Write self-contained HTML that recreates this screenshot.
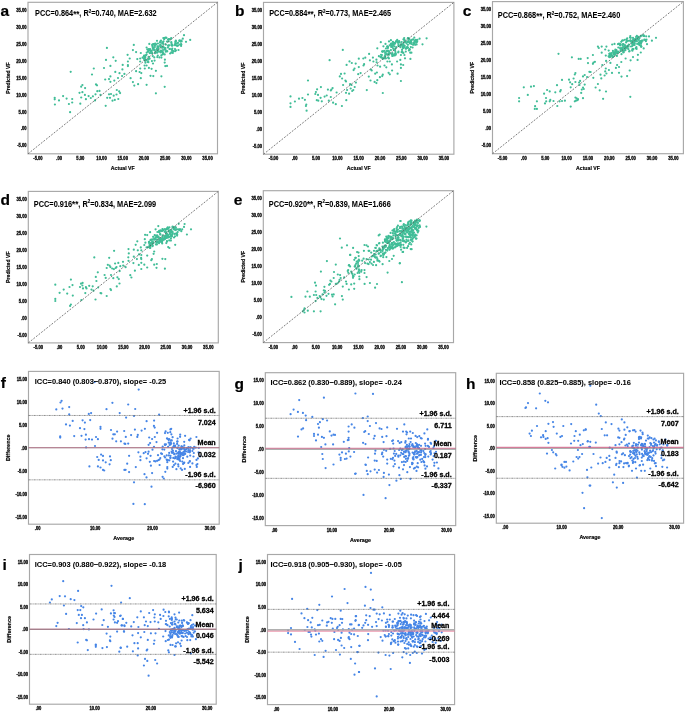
<!DOCTYPE html><html><head><meta charset="utf-8"><style>html,body{margin:0;padding:0;background:#fff;}svg{display:block;will-change:transform;} text{stroke:#000;stroke-width:0.18px;} text.t{stroke-width:0.3px;} text.r{stroke-width:0.3px;} text.h{stroke-width:0.05px;}</style></head><body><svg width="685" height="713" viewBox="0 0 685 713" font-family='"Liberation Sans", sans-serif'>
<rect width="685" height="713" fill="#fff"/>
<g fill="#40bd97">
<circle cx="106.9" cy="47.9" r="1.1"/>
<circle cx="113.3" cy="57.3" r="1.1"/>
<circle cx="115.7" cy="60.8" r="1.1"/>
<circle cx="106.0" cy="59.9" r="1.1"/>
<circle cx="122.7" cy="64.9" r="1.1"/>
<circle cx="110.4" cy="65.9" r="1.1"/>
<circle cx="104.0" cy="68.0" r="1.1"/>
<circle cx="93.8" cy="68.5" r="1.1"/>
<circle cx="70.7" cy="71.8" r="1.1"/>
<circle cx="92.0" cy="74.5" r="1.1"/>
<circle cx="115.3" cy="71.9" r="1.1"/>
<circle cx="119.5" cy="73.2" r="1.1"/>
<circle cx="122.4" cy="69.4" r="1.1"/>
<circle cx="124.4" cy="73.9" r="1.1"/>
<circle cx="122.1" cy="76.0" r="1.1"/>
<circle cx="118.0" cy="78.0" r="1.1"/>
<circle cx="114.3" cy="80.6" r="1.1"/>
<circle cx="110.4" cy="76.4" r="1.1"/>
<circle cx="109.0" cy="79.1" r="1.1"/>
<circle cx="105.2" cy="79.5" r="1.1"/>
<circle cx="110.4" cy="81.8" r="1.1"/>
<circle cx="82.4" cy="85.0" r="1.1"/>
<circle cx="81.2" cy="86.7" r="1.1"/>
<circle cx="85.1" cy="88.1" r="1.1"/>
<circle cx="96.0" cy="84.4" r="1.1"/>
<circle cx="97.0" cy="85.3" r="1.1"/>
<circle cx="97.3" cy="91.2" r="1.1"/>
<circle cx="99.5" cy="90.9" r="1.1"/>
<circle cx="79.5" cy="92.8" r="1.1"/>
<circle cx="82.4" cy="92.2" r="1.1"/>
<circle cx="84.9" cy="94.9" r="1.1"/>
<circle cx="88.6" cy="96.1" r="1.1"/>
<circle cx="90.8" cy="98.0" r="1.1"/>
<circle cx="92.9" cy="96.3" r="1.1"/>
<circle cx="95.5" cy="94.3" r="1.1"/>
<circle cx="100.5" cy="94.9" r="1.1"/>
<circle cx="85.9" cy="99.2" r="1.1"/>
<circle cx="81.2" cy="97.5" r="1.1"/>
<circle cx="80.3" cy="103.7" r="1.1"/>
<circle cx="63.1" cy="96.1" r="1.1"/>
<circle cx="66.6" cy="98.6" r="1.1"/>
<circle cx="72.2" cy="99.0" r="1.1"/>
<circle cx="72.2" cy="102.5" r="1.1"/>
<circle cx="68.9" cy="104.0" r="1.1"/>
<circle cx="59.0" cy="100.4" r="1.1"/>
<circle cx="54.7" cy="97.8" r="1.1"/>
<circle cx="54.7" cy="99.3" r="1.1"/>
<circle cx="54.9" cy="104.5" r="1.1"/>
<circle cx="70.1" cy="112.2" r="1.1"/>
<circle cx="105.7" cy="105.8" r="1.1"/>
<circle cx="116.8" cy="90.0" r="1.1"/>
<circle cx="119.2" cy="91.4" r="1.1"/>
<circle cx="120.1" cy="93.1" r="1.1"/>
<circle cx="109.0" cy="94.3" r="1.1"/>
<circle cx="111.0" cy="94.0" r="1.1"/>
<circle cx="113.7" cy="95.7" r="1.1"/>
<circle cx="116.5" cy="94.5" r="1.1"/>
<circle cx="107.2" cy="97.8" r="1.1"/>
<circle cx="110.0" cy="97.8" r="1.1"/>
<circle cx="112.5" cy="100.7" r="1.1"/>
<circle cx="114.8" cy="99.9" r="1.1"/>
<circle cx="118.3" cy="99.0" r="1.1"/>
<circle cx="95.0" cy="100.4" r="1.1"/>
<circle cx="184.0" cy="35.2" r="1.1"/>
<circle cx="190.2" cy="39.9" r="1.1"/>
<circle cx="186.0" cy="41.8" r="1.1"/>
<circle cx="182.8" cy="38.7" r="1.1"/>
<circle cx="133.8" cy="44.9" r="1.1"/>
<circle cx="132.9" cy="50.1" r="1.1"/>
<circle cx="136.1" cy="52.1" r="1.1"/>
<circle cx="127.6" cy="54.8" r="1.1"/>
<circle cx="129.7" cy="58.5" r="1.1"/>
<circle cx="127.9" cy="61.5" r="1.1"/>
<circle cx="127.9" cy="65.0" r="1.1"/>
<circle cx="127.9" cy="66.1" r="1.1"/>
<circle cx="137.3" cy="59.1" r="1.1"/>
<circle cx="140.8" cy="53.0" r="1.1"/>
<circle cx="140.2" cy="58.5" r="1.1"/>
<circle cx="140.2" cy="61.5" r="1.1"/>
<circle cx="146.6" cy="47.5" r="1.1"/>
<circle cx="149.3" cy="43.9" r="1.1"/>
<circle cx="150.1" cy="49.2" r="1.1"/>
<circle cx="144.6" cy="65.5" r="1.1"/>
<circle cx="140.2" cy="68.5" r="1.1"/>
<circle cx="136.1" cy="71.2" r="1.1"/>
<circle cx="139.6" cy="72.0" r="1.1"/>
<circle cx="141.3" cy="73.1" r="1.1"/>
<circle cx="148.9" cy="67.9" r="1.1"/>
<circle cx="151.6" cy="68.8" r="1.1"/>
<circle cx="155.9" cy="70.8" r="1.1"/>
<circle cx="144.8" cy="68.5" r="1.1"/>
<circle cx="146.6" cy="65.5" r="1.1"/>
<circle cx="130.6" cy="78.2" r="1.1"/>
<circle cx="132.9" cy="82.1" r="1.1"/>
<circle cx="134.3" cy="85.6" r="1.1"/>
<circle cx="138.1" cy="84.2" r="1.1"/>
<circle cx="146.6" cy="84.8" r="1.1"/>
<circle cx="140.8" cy="78.2" r="1.1"/>
<circle cx="150.5" cy="75.8" r="1.1"/>
<circle cx="153.3" cy="76.1" r="1.1"/>
<circle cx="161.4" cy="76.3" r="1.1"/>
<circle cx="164.7" cy="86.8" r="1.1"/>
<circle cx="155.9" cy="93.3" r="1.1"/>
<circle cx="165.3" cy="66.1" r="1.1"/>
<circle cx="167.0" cy="65.9" r="1.1"/>
<circle cx="164.7" cy="62.6" r="1.1"/>
<circle cx="164.9" cy="59.7" r="1.1"/>
<circle cx="178.5" cy="50.0" r="1.1"/>
<circle cx="181.1" cy="45.9" r="1.1"/>
<circle cx="161.4" cy="57.6" r="1.1"/>
<circle cx="159.4" cy="57.4" r="1.1"/>
<circle cx="157.3" cy="57.1" r="1.1"/>
<circle cx="154.6" cy="60.6" r="1.1"/>
<circle cx="153.0" cy="63.5" r="1.1"/>
<circle cx="151.9" cy="61.1" r="1.1"/>
<circle cx="168.3" cy="39.5" r="1.1"/>
<circle cx="163.8" cy="47.3" r="1.1"/>
<circle cx="165.4" cy="48.2" r="1.1"/>
<circle cx="176.6" cy="45.3" r="1.1"/>
<circle cx="149.7" cy="53.1" r="1.1"/>
<circle cx="167.9" cy="47.5" r="1.1"/>
<circle cx="164.2" cy="39.2" r="1.1"/>
<circle cx="169.5" cy="49.0" r="1.1"/>
<circle cx="155.0" cy="53.2" r="1.1"/>
<circle cx="160.5" cy="45.6" r="1.1"/>
<circle cx="152.2" cy="53.0" r="1.1"/>
<circle cx="171.5" cy="45.2" r="1.1"/>
<circle cx="181.4" cy="40.7" r="1.1"/>
<circle cx="148.5" cy="50.6" r="1.1"/>
<circle cx="144.1" cy="55.5" r="1.1"/>
<circle cx="172.8" cy="52.9" r="1.1"/>
<circle cx="177.3" cy="45.9" r="1.1"/>
<circle cx="170.1" cy="53.5" r="1.1"/>
<circle cx="165.5" cy="49.8" r="1.1"/>
<circle cx="161.3" cy="55.4" r="1.1"/>
<circle cx="144.9" cy="56.4" r="1.1"/>
<circle cx="175.1" cy="45.2" r="1.1"/>
<circle cx="157.8" cy="55.5" r="1.1"/>
<circle cx="144.8" cy="58.2" r="1.1"/>
<circle cx="153.6" cy="48.7" r="1.1"/>
<circle cx="180.5" cy="41.6" r="1.1"/>
<circle cx="151.8" cy="50.5" r="1.1"/>
<circle cx="165.9" cy="44.6" r="1.1"/>
<circle cx="157.2" cy="52.7" r="1.1"/>
<circle cx="163.0" cy="54.1" r="1.1"/>
<circle cx="169.3" cy="39.0" r="1.1"/>
<circle cx="158.1" cy="48.2" r="1.1"/>
<circle cx="146.6" cy="54.6" r="1.1"/>
<circle cx="166.9" cy="41.5" r="1.1"/>
<circle cx="152.5" cy="46.8" r="1.1"/>
<circle cx="157.0" cy="40.8" r="1.1"/>
<circle cx="161.0" cy="50.5" r="1.1"/>
<circle cx="156.1" cy="44.6" r="1.1"/>
<circle cx="175.4" cy="41.8" r="1.1"/>
<circle cx="163.5" cy="41.4" r="1.1"/>
<circle cx="164.1" cy="38.2" r="1.1"/>
<circle cx="152.9" cy="47.4" r="1.1"/>
<circle cx="149.1" cy="58.3" r="1.1"/>
<circle cx="155.6" cy="43.5" r="1.1"/>
<circle cx="151.5" cy="51.4" r="1.1"/>
<circle cx="152.8" cy="56.1" r="1.1"/>
<circle cx="175.9" cy="50.4" r="1.1"/>
<circle cx="145.9" cy="55.3" r="1.1"/>
<circle cx="172.3" cy="50.4" r="1.1"/>
<circle cx="149.6" cy="58.7" r="1.1"/>
<circle cx="171.3" cy="42.1" r="1.1"/>
<circle cx="148.3" cy="59.7" r="1.1"/>
<circle cx="156.4" cy="52.3" r="1.1"/>
<circle cx="175.3" cy="43.2" r="1.1"/>
<circle cx="152.5" cy="45.4" r="1.1"/>
<circle cx="152.1" cy="53.3" r="1.1"/>
<circle cx="152.8" cy="48.8" r="1.1"/>
<circle cx="147.7" cy="62.0" r="1.1"/>
<circle cx="156.6" cy="49.8" r="1.1"/>
<circle cx="162.4" cy="51.8" r="1.1"/>
<circle cx="163.3" cy="38.0" r="1.1"/>
<circle cx="160.0" cy="42.4" r="1.1"/>
<circle cx="149.3" cy="50.2" r="1.1"/>
<circle cx="171.3" cy="52.5" r="1.1"/>
<circle cx="155.4" cy="51.4" r="1.1"/>
<circle cx="146.7" cy="52.6" r="1.1"/>
<circle cx="152.4" cy="45.0" r="1.1"/>
<circle cx="173.2" cy="51.2" r="1.1"/>
<circle cx="166.8" cy="51.1" r="1.1"/>
<circle cx="160.5" cy="51.9" r="1.1"/>
<circle cx="179.9" cy="44.5" r="1.1"/>
<circle cx="175.8" cy="41.2" r="1.1"/>
<circle cx="147.3" cy="49.4" r="1.1"/>
<circle cx="145.4" cy="55.5" r="1.1"/>
<circle cx="148.6" cy="56.8" r="1.1"/>
<circle cx="168.7" cy="41.4" r="1.1"/>
<circle cx="158.3" cy="50.6" r="1.1"/>
<circle cx="148.9" cy="49.1" r="1.1"/>
<circle cx="163.0" cy="46.6" r="1.1"/>
<circle cx="171.2" cy="38.0" r="1.1"/>
<circle cx="164.5" cy="49.4" r="1.1"/>
<circle cx="167.3" cy="51.3" r="1.1"/>
<circle cx="144.1" cy="58.5" r="1.1"/>
<circle cx="175.0" cy="44.5" r="1.1"/>
<circle cx="148.4" cy="62.2" r="1.1"/>
<circle cx="169.8" cy="48.9" r="1.1"/>
<circle cx="145.4" cy="62.7" r="1.1"/>
<circle cx="145.8" cy="60.5" r="1.1"/>
<circle cx="145.1" cy="60.7" r="1.1"/>
<circle cx="160.5" cy="46.6" r="1.1"/>
<circle cx="163.4" cy="43.9" r="1.1"/>
<circle cx="154.9" cy="45.7" r="1.1"/>
<circle cx="172.7" cy="45.3" r="1.1"/>
<circle cx="162.3" cy="42.3" r="1.1"/>
<circle cx="171.6" cy="52.3" r="1.1"/>
<circle cx="150.0" cy="50.3" r="1.1"/>
<circle cx="179.6" cy="40.4" r="1.1"/>
<circle cx="175.0" cy="49.1" r="1.1"/>
<circle cx="158.1" cy="51.1" r="1.1"/>
<circle cx="158.6" cy="46.9" r="1.1"/>
<circle cx="145.3" cy="57.4" r="1.1"/>
<circle cx="145.8" cy="60.1" r="1.1"/>
<circle cx="153.7" cy="44.0" r="1.1"/>
<circle cx="154.1" cy="49.9" r="1.1"/>
<circle cx="148.8" cy="49.5" r="1.1"/>
<circle cx="154.8" cy="47.1" r="1.1"/>
<circle cx="161.3" cy="51.0" r="1.1"/>
<circle cx="150.5" cy="51.1" r="1.1"/>
<circle cx="154.6" cy="43.8" r="1.1"/>
<circle cx="165.8" cy="51.7" r="1.1"/>
<circle cx="158.0" cy="46.3" r="1.1"/>
<circle cx="181.6" cy="41.5" r="1.1"/>
<circle cx="144.2" cy="60.0" r="1.1"/>
<circle cx="148.0" cy="51.6" r="1.1"/>
<circle cx="146.7" cy="60.0" r="1.1"/>
<circle cx="164.7" cy="54.4" r="1.1"/>
<circle cx="162.5" cy="51.9" r="1.1"/>
<circle cx="168.7" cy="39.3" r="1.1"/>
<circle cx="171.8" cy="44.3" r="1.1"/>
<circle cx="171.4" cy="43.0" r="1.1"/>
<circle cx="162.1" cy="47.8" r="1.1"/>
<circle cx="168.0" cy="39.6" r="1.1"/>
<circle cx="172.0" cy="45.7" r="1.1"/>
<circle cx="165.0" cy="37.8" r="1.1"/>
<circle cx="169.3" cy="45.3" r="1.1"/>
<circle cx="163.0" cy="50.0" r="1.1"/>
<circle cx="161.0" cy="40.7" r="1.1"/>
<circle cx="178.0" cy="42.9" r="1.1"/>
<circle cx="160.3" cy="44.7" r="1.1"/>
<circle cx="150.9" cy="53.1" r="1.1"/>
<circle cx="148.1" cy="51.6" r="1.1"/>
<circle cx="180.3" cy="41.1" r="1.1"/>
<circle cx="175.1" cy="51.2" r="1.1"/>
<circle cx="160.4" cy="45.6" r="1.1"/>
<circle cx="142.6" cy="57.7" r="1.1"/>
<circle cx="175.8" cy="40.7" r="1.1"/>
<circle cx="178.3" cy="45.3" r="1.1"/>
<circle cx="157.3" cy="48.1" r="1.1"/>
<circle cx="156.8" cy="49.0" r="1.1"/>
<circle cx="146.5" cy="60.0" r="1.1"/>
<circle cx="152.4" cy="44.6" r="1.1"/>
<circle cx="162.8" cy="42.6" r="1.1"/>
<circle cx="171.1" cy="38.8" r="1.1"/>
<circle cx="171.6" cy="49.6" r="1.1"/>
<circle cx="179.3" cy="40.9" r="1.1"/>
<circle cx="161.2" cy="46.7" r="1.1"/>
<circle cx="154.3" cy="57.4" r="1.1"/>
<circle cx="181.3" cy="44.5" r="1.1"/>
<circle cx="168.5" cy="45.6" r="1.1"/>
<circle cx="164.6" cy="48.1" r="1.1"/>
<circle cx="162.2" cy="43.4" r="1.1"/>
<circle cx="160.4" cy="41.3" r="1.1"/>
<circle cx="172.3" cy="48.6" r="1.1"/>
<circle cx="158.9" cy="51.6" r="1.1"/>
<circle cx="157.5" cy="46.6" r="1.1"/>
<circle cx="180.9" cy="40.9" r="1.1"/>
<circle cx="162.5" cy="54.4" r="1.1"/>
<circle cx="176.8" cy="43.3" r="1.1"/>
<circle cx="153.3" cy="44.2" r="1.1"/>
<circle cx="158.4" cy="49.5" r="1.1"/>
<circle cx="143.8" cy="56.6" r="1.1"/>
<circle cx="165.8" cy="37.5" r="1.1"/>
<circle cx="181.1" cy="44.2" r="1.1"/>
<circle cx="160.7" cy="52.3" r="1.1"/>
<circle cx="144.1" cy="58.5" r="1.1"/>
<circle cx="168.1" cy="45.7" r="1.1"/>
<circle cx="163.3" cy="53.2" r="1.1"/>
<circle cx="157.9" cy="43.5" r="1.1"/>
<circle cx="166.4" cy="37.8" r="1.1"/>
<circle cx="154.5" cy="49.9" r="1.1"/>
</g>
<rect x="28" y="2.3" width="189.50" height="151.50" fill="none" stroke="#a8a8a8" stroke-width="1.15"/>
<line x1="28" y1="153.8" x2="217.5" y2="2.3" stroke="#5a5a5a" stroke-width="0.8" stroke-dasharray="1.9 1.4"/>
<text class="t" x="26.60" y="147.44" font-size="4.6" text-anchor="end" font-weight="bold" textLength="9.35" lengthAdjust="spacingAndGlyphs" fill="#111">-5.00</text>
<text class="t" x="26.60" y="130.49" font-size="4.6" text-anchor="end" font-weight="bold" textLength="5.70" lengthAdjust="spacingAndGlyphs" fill="#111">.00</text>
<text class="t" x="26.60" y="113.54" font-size="4.6" text-anchor="end" font-weight="bold" textLength="8.05" lengthAdjust="spacingAndGlyphs" fill="#111">5.00</text>
<text class="t" x="26.60" y="96.60" font-size="4.6" text-anchor="end" font-weight="bold" textLength="10.40" lengthAdjust="spacingAndGlyphs" fill="#111">10.00</text>
<text class="t" x="26.60" y="79.65" font-size="4.6" text-anchor="end" font-weight="bold" textLength="10.40" lengthAdjust="spacingAndGlyphs" fill="#111">15.00</text>
<text class="t" x="26.60" y="62.70" font-size="4.6" text-anchor="end" font-weight="bold" textLength="10.40" lengthAdjust="spacingAndGlyphs" fill="#111">20.00</text>
<text class="t" x="26.60" y="45.76" font-size="4.6" text-anchor="end" font-weight="bold" textLength="10.40" lengthAdjust="spacingAndGlyphs" fill="#111">25.00</text>
<text class="t" x="26.60" y="28.81" font-size="4.6" text-anchor="end" font-weight="bold" textLength="10.40" lengthAdjust="spacingAndGlyphs" fill="#111">30.00</text>
<text class="t" x="26.60" y="11.86" font-size="4.6" text-anchor="end" font-weight="bold" textLength="10.40" lengthAdjust="spacingAndGlyphs" fill="#111">35.00</text>
<text class="t" x="37.96" y="159.70" font-size="4.6" text-anchor="middle" font-weight="bold" textLength="9.35" lengthAdjust="spacingAndGlyphs" fill="#111">-5.00</text>
<text class="t" x="59.16" y="159.70" font-size="4.6" text-anchor="middle" font-weight="bold" textLength="5.70" lengthAdjust="spacingAndGlyphs" fill="#111">.00</text>
<text class="t" x="80.36" y="159.70" font-size="4.6" text-anchor="middle" font-weight="bold" textLength="8.05" lengthAdjust="spacingAndGlyphs" fill="#111">5.00</text>
<text class="t" x="101.55" y="159.70" font-size="4.6" text-anchor="middle" font-weight="bold" textLength="10.40" lengthAdjust="spacingAndGlyphs" fill="#111">10.00</text>
<text class="t" x="122.75" y="159.70" font-size="4.6" text-anchor="middle" font-weight="bold" textLength="10.40" lengthAdjust="spacingAndGlyphs" fill="#111">15.00</text>
<text class="t" x="143.95" y="159.70" font-size="4.6" text-anchor="middle" font-weight="bold" textLength="10.40" lengthAdjust="spacingAndGlyphs" fill="#111">20.00</text>
<text class="t" x="165.14" y="159.70" font-size="4.6" text-anchor="middle" font-weight="bold" textLength="10.40" lengthAdjust="spacingAndGlyphs" fill="#111">25.00</text>
<text class="t" x="186.34" y="159.70" font-size="4.6" text-anchor="middle" font-weight="bold" textLength="10.40" lengthAdjust="spacingAndGlyphs" fill="#111">30.00</text>
<text class="t" x="207.54" y="159.70" font-size="4.6" text-anchor="middle" font-weight="bold" textLength="10.40" lengthAdjust="spacingAndGlyphs" fill="#111">35.00</text>
<text class="h" x="35.1" y="15.8" font-size="8.3" font-weight="bold" textLength="121.5" lengthAdjust="spacingAndGlyphs">PCC=0.864<tspan font-size="9" dy="0.8">**</tspan><tspan dy="-0.8">, R</tspan><tspan font-size="5" dy="-3.2">2</tspan><tspan dy="3.2">=0.740, MAE=2.632</tspan></text>
<text x="0.60" y="15.80" font-size="15.5" text-anchor="start" font-weight="bold">a</text>
<text x="9.60" y="78.05" font-size="6.2" text-anchor="middle" font-weight="bold" textLength="31.50" lengthAdjust="spacingAndGlyphs" transform="rotate(-90 9.60 78.05)">Predicted VF</text>
<text x="122.75" y="170.00" font-size="6.2" text-anchor="middle" font-weight="bold" textLength="23.80" lengthAdjust="spacingAndGlyphs">Actual VF</text>
<g fill="#40bd97">
<circle cx="342.8" cy="49.9" r="1.1"/>
<circle cx="329.6" cy="60.2" r="1.1"/>
<circle cx="358.8" cy="58.7" r="1.1"/>
<circle cx="349.5" cy="61.4" r="1.1"/>
<circle cx="351.8" cy="63.0" r="1.1"/>
<circle cx="355.7" cy="63.6" r="1.1"/>
<circle cx="346.6" cy="64.9" r="1.1"/>
<circle cx="358.8" cy="67.1" r="1.1"/>
<circle cx="354.5" cy="68.6" r="1.1"/>
<circle cx="353.6" cy="70.1" r="1.1"/>
<circle cx="358.2" cy="74.2" r="1.1"/>
<circle cx="344.6" cy="73.5" r="1.1"/>
<circle cx="341.0" cy="73.9" r="1.1"/>
<circle cx="339.8" cy="76.4" r="1.1"/>
<circle cx="342.1" cy="78.5" r="1.1"/>
<circle cx="345.4" cy="80.6" r="1.1"/>
<circle cx="346.0" cy="81.5" r="1.1"/>
<circle cx="343.1" cy="85.0" r="1.1"/>
<circle cx="350.1" cy="84.2" r="1.1"/>
<circle cx="351.5" cy="85.0" r="1.1"/>
<circle cx="355.9" cy="82.6" r="1.1"/>
<circle cx="354.7" cy="87.0" r="1.1"/>
<circle cx="350.7" cy="88.5" r="1.1"/>
<circle cx="353.3" cy="90.0" r="1.1"/>
<circle cx="352.2" cy="91.0" r="1.1"/>
<circle cx="347.1" cy="90.0" r="1.1"/>
<circle cx="346.0" cy="92.8" r="1.1"/>
<circle cx="349.1" cy="93.7" r="1.1"/>
<circle cx="346.3" cy="100.2" r="1.1"/>
<circle cx="341.9" cy="106.0" r="1.1"/>
<circle cx="308.0" cy="80.5" r="1.1"/>
<circle cx="320.9" cy="87.1" r="1.1"/>
<circle cx="317.1" cy="89.3" r="1.1"/>
<circle cx="315.9" cy="92.0" r="1.1"/>
<circle cx="315.3" cy="94.0" r="1.1"/>
<circle cx="318.0" cy="94.9" r="1.1"/>
<circle cx="308.0" cy="94.5" r="1.1"/>
<circle cx="327.9" cy="89.6" r="1.1"/>
<circle cx="331.4" cy="89.6" r="1.1"/>
<circle cx="332.6" cy="88.1" r="1.1"/>
<circle cx="330.8" cy="90.5" r="1.1"/>
<circle cx="336.6" cy="92.5" r="1.1"/>
<circle cx="324.6" cy="96.6" r="1.1"/>
<circle cx="326.7" cy="95.5" r="1.1"/>
<circle cx="330.8" cy="97.0" r="1.1"/>
<circle cx="328.8" cy="100.7" r="1.1"/>
<circle cx="333.1" cy="102.7" r="1.1"/>
<circle cx="335.8" cy="104.2" r="1.1"/>
<circle cx="320.6" cy="97.8" r="1.1"/>
<circle cx="321.8" cy="101.3" r="1.1"/>
<circle cx="316.8" cy="100.2" r="1.1"/>
<circle cx="318.3" cy="100.7" r="1.1"/>
<circle cx="290.5" cy="96.4" r="1.1"/>
<circle cx="294.9" cy="101.5" r="1.1"/>
<circle cx="299.0" cy="98.7" r="1.1"/>
<circle cx="302.4" cy="98.0" r="1.1"/>
<circle cx="304.9" cy="99.8" r="1.1"/>
<circle cx="306.3" cy="104.6" r="1.1"/>
<circle cx="305.9" cy="106.0" r="1.1"/>
<circle cx="306.6" cy="110.7" r="1.1"/>
<circle cx="290.5" cy="103.3" r="1.1"/>
<circle cx="290.5" cy="106.9" r="1.1"/>
<circle cx="426.6" cy="38.3" r="1.1"/>
<circle cx="422.5" cy="44.3" r="1.1"/>
<circle cx="419.6" cy="38.7" r="1.1"/>
<circle cx="417.2" cy="41.6" r="1.1"/>
<circle cx="414.3" cy="37.5" r="1.1"/>
<circle cx="410.2" cy="52.7" r="1.1"/>
<circle cx="411.4" cy="52.7" r="1.1"/>
<circle cx="410.4" cy="58.9" r="1.1"/>
<circle cx="405.0" cy="58.3" r="1.1"/>
<circle cx="404.4" cy="55.0" r="1.1"/>
<circle cx="400.9" cy="55.0" r="1.1"/>
<circle cx="400.3" cy="59.9" r="1.1"/>
<circle cx="400.9" cy="64.4" r="1.1"/>
<circle cx="403.2" cy="65.0" r="1.1"/>
<circle cx="400.9" cy="67.9" r="1.1"/>
<circle cx="397.1" cy="61.5" r="1.1"/>
<circle cx="391.9" cy="64.4" r="1.1"/>
<circle cx="392.1" cy="70.5" r="1.1"/>
<circle cx="388.6" cy="72.8" r="1.1"/>
<circle cx="389.8" cy="74.3" r="1.1"/>
<circle cx="397.6" cy="73.7" r="1.1"/>
<circle cx="400.9" cy="81.0" r="1.1"/>
<circle cx="382.8" cy="93.0" r="1.1"/>
<circle cx="366.8" cy="90.1" r="1.1"/>
<circle cx="370.5" cy="80.5" r="1.1"/>
<circle cx="368.8" cy="76.6" r="1.1"/>
<circle cx="374.6" cy="81.9" r="1.1"/>
<circle cx="376.4" cy="83.1" r="1.1"/>
<circle cx="377.3" cy="80.2" r="1.1"/>
<circle cx="379.9" cy="77.2" r="1.1"/>
<circle cx="382.2" cy="76.1" r="1.1"/>
<circle cx="382.8" cy="74.7" r="1.1"/>
<circle cx="375.2" cy="73.7" r="1.1"/>
<circle cx="376.9" cy="72.5" r="1.1"/>
<circle cx="371.7" cy="70.5" r="1.1"/>
<circle cx="371.1" cy="69.6" r="1.1"/>
<circle cx="360.6" cy="73.1" r="1.1"/>
<circle cx="363.5" cy="65.5" r="1.1"/>
<circle cx="364.1" cy="64.2" r="1.1"/>
<circle cx="363.3" cy="58.5" r="1.1"/>
<circle cx="365.3" cy="57.7" r="1.1"/>
<circle cx="369.9" cy="60.3" r="1.1"/>
<circle cx="369.1" cy="53.9" r="1.1"/>
<circle cx="372.9" cy="57.6" r="1.1"/>
<circle cx="373.4" cy="61.5" r="1.1"/>
<circle cx="376.4" cy="59.7" r="1.1"/>
<circle cx="376.6" cy="62.3" r="1.1"/>
<circle cx="377.5" cy="65.5" r="1.1"/>
<circle cx="380.1" cy="66.7" r="1.1"/>
<circle cx="384.5" cy="65.5" r="1.1"/>
<circle cx="386.3" cy="67.3" r="1.1"/>
<circle cx="387.4" cy="61.5" r="1.1"/>
<circle cx="389.8" cy="61.5" r="1.1"/>
<circle cx="380.8" cy="42.2" r="1.1"/>
<circle cx="377.3" cy="48.3" r="1.1"/>
<circle cx="385.5" cy="43.9" r="1.1"/>
<circle cx="389.0" cy="41.4" r="1.1"/>
<circle cx="390.9" cy="40.2" r="1.1"/>
<circle cx="383.4" cy="46.3" r="1.1"/>
<circle cx="398.2" cy="52.5" r="1.1"/>
<circle cx="395.1" cy="43.2" r="1.1"/>
<circle cx="391.9" cy="46.8" r="1.1"/>
<circle cx="405.4" cy="41.9" r="1.1"/>
<circle cx="398.4" cy="42.1" r="1.1"/>
<circle cx="416.6" cy="44.4" r="1.1"/>
<circle cx="410.8" cy="42.6" r="1.1"/>
<circle cx="387.4" cy="54.4" r="1.1"/>
<circle cx="398.1" cy="41.7" r="1.1"/>
<circle cx="387.4" cy="46.8" r="1.1"/>
<circle cx="415.1" cy="44.8" r="1.1"/>
<circle cx="385.9" cy="58.3" r="1.1"/>
<circle cx="407.9" cy="38.2" r="1.1"/>
<circle cx="404.7" cy="45.9" r="1.1"/>
<circle cx="393.3" cy="44.9" r="1.1"/>
<circle cx="389.6" cy="45.3" r="1.1"/>
<circle cx="416.1" cy="40.2" r="1.1"/>
<circle cx="416.4" cy="42.1" r="1.1"/>
<circle cx="392.6" cy="55.7" r="1.1"/>
<circle cx="410.8" cy="47.1" r="1.1"/>
<circle cx="394.8" cy="55.5" r="1.1"/>
<circle cx="408.7" cy="38.4" r="1.1"/>
<circle cx="414.7" cy="43.2" r="1.1"/>
<circle cx="392.0" cy="43.5" r="1.1"/>
<circle cx="388.9" cy="53.4" r="1.1"/>
<circle cx="391.1" cy="43.6" r="1.1"/>
<circle cx="387.8" cy="48.0" r="1.1"/>
<circle cx="393.8" cy="43.1" r="1.1"/>
<circle cx="395.5" cy="48.5" r="1.1"/>
<circle cx="415.0" cy="41.6" r="1.1"/>
<circle cx="402.4" cy="44.8" r="1.1"/>
<circle cx="391.2" cy="45.5" r="1.1"/>
<circle cx="409.3" cy="39.2" r="1.1"/>
<circle cx="386.4" cy="54.2" r="1.1"/>
<circle cx="406.4" cy="47.4" r="1.1"/>
<circle cx="387.9" cy="46.8" r="1.1"/>
<circle cx="402.9" cy="52.5" r="1.1"/>
<circle cx="404.7" cy="40.2" r="1.1"/>
<circle cx="411.6" cy="44.0" r="1.1"/>
<circle cx="400.9" cy="45.8" r="1.1"/>
<circle cx="407.6" cy="41.9" r="1.1"/>
<circle cx="384.7" cy="57.1" r="1.1"/>
<circle cx="401.3" cy="44.7" r="1.1"/>
<circle cx="398.5" cy="42.6" r="1.1"/>
<circle cx="417.4" cy="39.8" r="1.1"/>
<circle cx="412.6" cy="47.5" r="1.1"/>
<circle cx="388.9" cy="54.8" r="1.1"/>
<circle cx="415.7" cy="39.9" r="1.1"/>
<circle cx="402.0" cy="51.3" r="1.1"/>
<circle cx="388.7" cy="50.8" r="1.1"/>
<circle cx="404.2" cy="42.0" r="1.1"/>
<circle cx="405.2" cy="41.6" r="1.1"/>
<circle cx="409.8" cy="49.7" r="1.1"/>
<circle cx="394.2" cy="49.7" r="1.1"/>
<circle cx="403.7" cy="39.5" r="1.1"/>
<circle cx="385.1" cy="52.9" r="1.1"/>
<circle cx="394.7" cy="43.8" r="1.1"/>
<circle cx="390.9" cy="50.1" r="1.1"/>
<circle cx="392.7" cy="46.8" r="1.1"/>
<circle cx="392.9" cy="41.9" r="1.1"/>
<circle cx="407.2" cy="42.0" r="1.1"/>
<circle cx="396.7" cy="41.1" r="1.1"/>
<circle cx="382.2" cy="51.3" r="1.1"/>
<circle cx="393.2" cy="48.7" r="1.1"/>
<circle cx="410.9" cy="41.1" r="1.1"/>
<circle cx="409.4" cy="42.4" r="1.1"/>
<circle cx="411.1" cy="41.6" r="1.1"/>
<circle cx="387.2" cy="46.4" r="1.1"/>
<circle cx="398.9" cy="46.0" r="1.1"/>
<circle cx="408.3" cy="38.4" r="1.1"/>
<circle cx="411.5" cy="40.1" r="1.1"/>
<circle cx="402.1" cy="49.7" r="1.1"/>
<circle cx="403.2" cy="44.3" r="1.1"/>
<circle cx="395.1" cy="50.4" r="1.1"/>
<circle cx="395.4" cy="52.1" r="1.1"/>
<circle cx="396.2" cy="47.2" r="1.1"/>
<circle cx="397.8" cy="42.7" r="1.1"/>
<circle cx="396.6" cy="41.5" r="1.1"/>
<circle cx="397.2" cy="39.9" r="1.1"/>
<circle cx="403.6" cy="39.3" r="1.1"/>
<circle cx="398.4" cy="45.9" r="1.1"/>
<circle cx="415.9" cy="40.5" r="1.1"/>
<circle cx="414.5" cy="41.2" r="1.1"/>
<circle cx="408.3" cy="41.0" r="1.1"/>
<circle cx="413.8" cy="43.6" r="1.1"/>
<circle cx="410.6" cy="40.7" r="1.1"/>
<circle cx="398.5" cy="44.6" r="1.1"/>
<circle cx="385.0" cy="58.3" r="1.1"/>
<circle cx="385.3" cy="54.9" r="1.1"/>
<circle cx="403.6" cy="45.5" r="1.1"/>
<circle cx="403.3" cy="46.2" r="1.1"/>
<circle cx="409.9" cy="43.4" r="1.1"/>
<circle cx="392.8" cy="54.5" r="1.1"/>
<circle cx="396.0" cy="41.4" r="1.1"/>
<circle cx="407.8" cy="38.6" r="1.1"/>
<circle cx="410.8" cy="43.1" r="1.1"/>
<circle cx="401.6" cy="52.2" r="1.1"/>
<circle cx="402.8" cy="47.1" r="1.1"/>
<circle cx="404.2" cy="38.0" r="1.1"/>
<circle cx="387.5" cy="50.5" r="1.1"/>
<circle cx="401.7" cy="42.0" r="1.1"/>
<circle cx="403.1" cy="48.0" r="1.1"/>
<circle cx="384.0" cy="58.3" r="1.1"/>
<circle cx="382.4" cy="51.7" r="1.1"/>
<circle cx="394.4" cy="43.4" r="1.1"/>
<circle cx="400.7" cy="45.3" r="1.1"/>
<circle cx="403.9" cy="47.4" r="1.1"/>
<circle cx="388.4" cy="57.6" r="1.1"/>
<circle cx="394.6" cy="42.8" r="1.1"/>
<circle cx="381.0" cy="54.8" r="1.1"/>
<circle cx="415.5" cy="40.7" r="1.1"/>
<circle cx="386.5" cy="51.0" r="1.1"/>
<circle cx="398.5" cy="51.7" r="1.1"/>
<circle cx="410.5" cy="41.4" r="1.1"/>
<circle cx="390.8" cy="44.2" r="1.1"/>
<circle cx="380.6" cy="57.2" r="1.1"/>
<circle cx="378.9" cy="56.2" r="1.1"/>
<circle cx="407.8" cy="47.8" r="1.1"/>
<circle cx="407.7" cy="47.5" r="1.1"/>
<circle cx="391.8" cy="54.1" r="1.1"/>
<circle cx="406.5" cy="43.4" r="1.1"/>
<circle cx="400.4" cy="47.2" r="1.1"/>
<circle cx="409.5" cy="49.1" r="1.1"/>
<circle cx="389.1" cy="51.8" r="1.1"/>
<circle cx="416.4" cy="42.3" r="1.1"/>
<circle cx="407.9" cy="44.8" r="1.1"/>
<circle cx="413.1" cy="44.8" r="1.1"/>
<circle cx="388.1" cy="57.6" r="1.1"/>
<circle cx="403.4" cy="52.9" r="1.1"/>
<circle cx="395.8" cy="53.6" r="1.1"/>
<circle cx="401.0" cy="44.3" r="1.1"/>
<circle cx="387.0" cy="51.3" r="1.1"/>
<circle cx="381.7" cy="57.7" r="1.1"/>
<circle cx="382.9" cy="58.1" r="1.1"/>
<circle cx="405.8" cy="51.6" r="1.1"/>
<circle cx="392.9" cy="55.6" r="1.1"/>
<circle cx="381.3" cy="56.8" r="1.1"/>
<circle cx="403.4" cy="43.9" r="1.1"/>
<circle cx="408.3" cy="42.0" r="1.1"/>
<circle cx="391.2" cy="46.9" r="1.1"/>
<circle cx="389.8" cy="53.4" r="1.1"/>
<circle cx="393.1" cy="44.6" r="1.1"/>
<circle cx="395.8" cy="54.7" r="1.1"/>
<circle cx="392.3" cy="53.1" r="1.1"/>
<circle cx="399.7" cy="42.3" r="1.1"/>
<circle cx="412.4" cy="39.5" r="1.1"/>
<circle cx="410.8" cy="41.3" r="1.1"/>
<circle cx="385.9" cy="48.5" r="1.1"/>
<circle cx="392.3" cy="56.0" r="1.1"/>
<circle cx="388.9" cy="58.5" r="1.1"/>
<circle cx="406.1" cy="48.6" r="1.1"/>
<circle cx="383.0" cy="51.6" r="1.1"/>
<circle cx="381.9" cy="55.0" r="1.1"/>
<circle cx="403.2" cy="45.4" r="1.1"/>
<circle cx="394.4" cy="46.3" r="1.1"/>
<circle cx="413.5" cy="39.4" r="1.1"/>
<circle cx="387.8" cy="47.7" r="1.1"/>
<circle cx="392.3" cy="44.8" r="1.1"/>
<circle cx="384.8" cy="56.2" r="1.1"/>
<circle cx="408.9" cy="50.4" r="1.1"/>
<circle cx="413.3" cy="42.8" r="1.1"/>
<circle cx="399.1" cy="41.1" r="1.1"/>
<circle cx="382.7" cy="58.9" r="1.1"/>
<circle cx="407.4" cy="47.2" r="1.1"/>
<circle cx="386.4" cy="51.7" r="1.1"/>
<circle cx="394.3" cy="55.1" r="1.1"/>
<circle cx="405.8" cy="48.6" r="1.1"/>
<circle cx="403.4" cy="47.8" r="1.1"/>
<circle cx="384.2" cy="50.9" r="1.1"/>
<circle cx="394.5" cy="54.0" r="1.1"/>
</g>
<rect x="263.5" y="2.4" width="190.40" height="151.80" fill="none" stroke="#a8a8a8" stroke-width="1.15"/>
<line x1="263.5" y1="154.2" x2="453.9" y2="2.4" stroke="#5a5a5a" stroke-width="0.8" stroke-dasharray="1.9 1.4"/>
<text class="t" x="262.10" y="147.82" font-size="4.6" text-anchor="end" font-weight="bold" textLength="9.35" lengthAdjust="spacingAndGlyphs" fill="#111">-5.00</text>
<text class="t" x="262.10" y="130.84" font-size="4.6" text-anchor="end" font-weight="bold" textLength="5.70" lengthAdjust="spacingAndGlyphs" fill="#111">.00</text>
<text class="t" x="262.10" y="113.86" font-size="4.6" text-anchor="end" font-weight="bold" textLength="8.05" lengthAdjust="spacingAndGlyphs" fill="#111">5.00</text>
<text class="t" x="262.10" y="96.88" font-size="4.6" text-anchor="end" font-weight="bold" textLength="10.40" lengthAdjust="spacingAndGlyphs" fill="#111">10.00</text>
<text class="t" x="262.10" y="79.90" font-size="4.6" text-anchor="end" font-weight="bold" textLength="10.40" lengthAdjust="spacingAndGlyphs" fill="#111">15.00</text>
<text class="t" x="262.10" y="62.92" font-size="4.6" text-anchor="end" font-weight="bold" textLength="10.40" lengthAdjust="spacingAndGlyphs" fill="#111">20.00</text>
<text class="t" x="262.10" y="45.94" font-size="4.6" text-anchor="end" font-weight="bold" textLength="10.40" lengthAdjust="spacingAndGlyphs" fill="#111">25.00</text>
<text class="t" x="262.10" y="28.96" font-size="4.6" text-anchor="end" font-weight="bold" textLength="10.40" lengthAdjust="spacingAndGlyphs" fill="#111">30.00</text>
<text class="t" x="262.10" y="11.98" font-size="4.6" text-anchor="end" font-weight="bold" textLength="10.40" lengthAdjust="spacingAndGlyphs" fill="#111">35.00</text>
<text class="t" x="273.51" y="160.10" font-size="4.6" text-anchor="middle" font-weight="bold" textLength="9.35" lengthAdjust="spacingAndGlyphs" fill="#111">-5.00</text>
<text class="t" x="294.81" y="160.10" font-size="4.6" text-anchor="middle" font-weight="bold" textLength="5.70" lengthAdjust="spacingAndGlyphs" fill="#111">.00</text>
<text class="t" x="316.10" y="160.10" font-size="4.6" text-anchor="middle" font-weight="bold" textLength="8.05" lengthAdjust="spacingAndGlyphs" fill="#111">5.00</text>
<text class="t" x="337.40" y="160.10" font-size="4.6" text-anchor="middle" font-weight="bold" textLength="10.40" lengthAdjust="spacingAndGlyphs" fill="#111">10.00</text>
<text class="t" x="358.70" y="160.10" font-size="4.6" text-anchor="middle" font-weight="bold" textLength="10.40" lengthAdjust="spacingAndGlyphs" fill="#111">15.00</text>
<text class="t" x="380.00" y="160.10" font-size="4.6" text-anchor="middle" font-weight="bold" textLength="10.40" lengthAdjust="spacingAndGlyphs" fill="#111">20.00</text>
<text class="t" x="401.30" y="160.10" font-size="4.6" text-anchor="middle" font-weight="bold" textLength="10.40" lengthAdjust="spacingAndGlyphs" fill="#111">25.00</text>
<text class="t" x="422.59" y="160.10" font-size="4.6" text-anchor="middle" font-weight="bold" textLength="10.40" lengthAdjust="spacingAndGlyphs" fill="#111">30.00</text>
<text class="t" x="443.89" y="160.10" font-size="4.6" text-anchor="middle" font-weight="bold" textLength="10.40" lengthAdjust="spacingAndGlyphs" fill="#111">35.00</text>
<text class="h" x="269.2" y="16.0" font-size="8.3" font-weight="bold" textLength="122" lengthAdjust="spacingAndGlyphs">PCC=0.884<tspan font-size="9" dy="0.8">**</tspan><tspan dy="-0.8">, R</tspan><tspan font-size="5" dy="-3.2">2</tspan><tspan dy="3.2">=0.773, MAE=2.465</tspan></text>
<text x="235.00" y="16.00" font-size="15.5" text-anchor="start" font-weight="bold">b</text>
<text x="245.10" y="78.30" font-size="6.2" text-anchor="middle" font-weight="bold" textLength="31.50" lengthAdjust="spacingAndGlyphs" transform="rotate(-90 245.10 78.30)">Predicted VF</text>
<text x="358.70" y="170.40" font-size="6.2" text-anchor="middle" font-weight="bold" textLength="23.80" lengthAdjust="spacingAndGlyphs">Actual VF</text>
<g fill="#40bd97">
<circle cx="558.5" cy="53.8" r="1.1"/>
<circle cx="571.9" cy="57.3" r="1.1"/>
<circle cx="578.7" cy="58.9" r="1.1"/>
<circle cx="580.7" cy="58.9" r="1.1"/>
<circle cx="587.7" cy="58.1" r="1.1"/>
<circle cx="588.0" cy="63.1" r="1.1"/>
<circle cx="589.4" cy="71.8" r="1.1"/>
<circle cx="575.4" cy="73.0" r="1.1"/>
<circle cx="574.8" cy="74.5" r="1.1"/>
<circle cx="584.7" cy="75.0" r="1.1"/>
<circle cx="583.0" cy="76.4" r="1.1"/>
<circle cx="587.1" cy="77.1" r="1.1"/>
<circle cx="573.6" cy="78.5" r="1.1"/>
<circle cx="569.0" cy="79.7" r="1.1"/>
<circle cx="562.0" cy="79.9" r="1.1"/>
<circle cx="570.1" cy="82.3" r="1.1"/>
<circle cx="572.2" cy="84.2" r="1.1"/>
<circle cx="575.4" cy="82.0" r="1.1"/>
<circle cx="580.1" cy="80.9" r="1.1"/>
<circle cx="579.1" cy="82.6" r="1.1"/>
<circle cx="579.5" cy="85.0" r="1.1"/>
<circle cx="584.7" cy="84.6" r="1.1"/>
<circle cx="570.7" cy="87.3" r="1.1"/>
<circle cx="583.0" cy="87.7" r="1.1"/>
<circle cx="583.8" cy="89.0" r="1.1"/>
<circle cx="581.8" cy="89.6" r="1.1"/>
<circle cx="581.2" cy="92.9" r="1.1"/>
<circle cx="583.0" cy="98.2" r="1.1"/>
<circle cx="575.4" cy="97.5" r="1.1"/>
<circle cx="576.6" cy="98.4" r="1.1"/>
<circle cx="578.0" cy="99.2" r="1.1"/>
<circle cx="574.8" cy="101.3" r="1.1"/>
<circle cx="576.0" cy="100.7" r="1.1"/>
<circle cx="577.5" cy="100.2" r="1.1"/>
<circle cx="570.7" cy="106.6" r="1.1"/>
<circle cx="557.0" cy="85.2" r="1.1"/>
<circle cx="560.8" cy="90.0" r="1.1"/>
<circle cx="560.2" cy="91.4" r="1.1"/>
<circle cx="555.3" cy="92.3" r="1.1"/>
<circle cx="547.1" cy="90.0" r="1.1"/>
<circle cx="549.7" cy="91.4" r="1.1"/>
<circle cx="544.1" cy="93.7" r="1.1"/>
<circle cx="546.0" cy="98.0" r="1.1"/>
<circle cx="546.2" cy="101.3" r="1.1"/>
<circle cx="545.0" cy="103.4" r="1.1"/>
<circle cx="550.3" cy="99.9" r="1.1"/>
<circle cx="549.7" cy="101.3" r="1.1"/>
<circle cx="553.5" cy="101.0" r="1.1"/>
<circle cx="559.6" cy="101.3" r="1.1"/>
<circle cx="562.0" cy="101.0" r="1.1"/>
<circle cx="564.9" cy="100.7" r="1.1"/>
<circle cx="557.3" cy="106.0" r="1.1"/>
<circle cx="523.8" cy="87.3" r="1.1"/>
<circle cx="531.0" cy="86.7" r="1.1"/>
<circle cx="533.9" cy="86.1" r="1.1"/>
<circle cx="527.8" cy="94.9" r="1.1"/>
<circle cx="519.1" cy="98.0" r="1.1"/>
<circle cx="519.1" cy="101.3" r="1.1"/>
<circle cx="536.9" cy="101.3" r="1.1"/>
<circle cx="535.1" cy="106.2" r="1.1"/>
<circle cx="534.8" cy="108.9" r="1.1"/>
<circle cx="536.9" cy="108.9" r="1.1"/>
<circle cx="656.0" cy="37.8" r="1.1"/>
<circle cx="651.9" cy="40.7" r="1.1"/>
<circle cx="647.0" cy="44.2" r="1.1"/>
<circle cx="649.0" cy="36.4" r="1.1"/>
<circle cx="643.7" cy="48.4" r="1.1"/>
<circle cx="640.8" cy="52.5" r="1.1"/>
<circle cx="637.9" cy="54.8" r="1.1"/>
<circle cx="637.6" cy="59.9" r="1.1"/>
<circle cx="633.0" cy="57.1" r="1.1"/>
<circle cx="630.6" cy="60.3" r="1.1"/>
<circle cx="625.6" cy="58.5" r="1.1"/>
<circle cx="621.3" cy="62.0" r="1.1"/>
<circle cx="629.7" cy="70.5" r="1.1"/>
<circle cx="627.1" cy="76.1" r="1.1"/>
<circle cx="621.5" cy="76.6" r="1.1"/>
<circle cx="619.0" cy="72.8" r="1.1"/>
<circle cx="615.9" cy="67.9" r="1.1"/>
<circle cx="617.1" cy="65.0" r="1.1"/>
<circle cx="619.0" cy="67.0" r="1.1"/>
<circle cx="612.0" cy="72.9" r="1.1"/>
<circle cx="608.9" cy="70.0" r="1.1"/>
<circle cx="605.8" cy="68.5" r="1.1"/>
<circle cx="605.2" cy="71.4" r="1.1"/>
<circle cx="606.4" cy="73.5" r="1.1"/>
<circle cx="604.6" cy="75.5" r="1.1"/>
<circle cx="600.5" cy="74.7" r="1.1"/>
<circle cx="601.3" cy="78.4" r="1.1"/>
<circle cx="593.3" cy="77.8" r="1.1"/>
<circle cx="597.9" cy="84.0" r="1.1"/>
<circle cx="595.6" cy="87.5" r="1.1"/>
<circle cx="599.7" cy="90.3" r="1.1"/>
<circle cx="606.0" cy="91.5" r="1.1"/>
<circle cx="603.1" cy="98.8" r="1.1"/>
<circle cx="630.3" cy="96.8" r="1.1"/>
<circle cx="590.6" cy="72.0" r="1.1"/>
<circle cx="592.9" cy="55.0" r="1.1"/>
<circle cx="593.5" cy="62.6" r="1.1"/>
<circle cx="594.9" cy="61.8" r="1.1"/>
<circle cx="592.9" cy="63.8" r="1.1"/>
<circle cx="602.3" cy="65.0" r="1.1"/>
<circle cx="606.1" cy="60.9" r="1.1"/>
<circle cx="610.4" cy="62.9" r="1.1"/>
<circle cx="605.8" cy="55.6" r="1.1"/>
<circle cx="601.7" cy="52.7" r="1.1"/>
<circle cx="605.2" cy="49.5" r="1.1"/>
<circle cx="598.8" cy="48.0" r="1.1"/>
<circle cx="597.9" cy="46.6" r="1.1"/>
<circle cx="601.7" cy="46.6" r="1.1"/>
<circle cx="606.4" cy="46.6" r="1.1"/>
<circle cx="608.7" cy="50.6" r="1.1"/>
<circle cx="609.3" cy="53.9" r="1.1"/>
<circle cx="612.2" cy="44.5" r="1.1"/>
<circle cx="614.5" cy="43.9" r="1.1"/>
<circle cx="630.3" cy="36.1" r="1.1"/>
<circle cx="624.8" cy="39.8" r="1.1"/>
<circle cx="633.6" cy="45.0" r="1.1"/>
<circle cx="620.5" cy="48.9" r="1.1"/>
<circle cx="633.1" cy="40.3" r="1.1"/>
<circle cx="624.9" cy="45.0" r="1.1"/>
<circle cx="632.8" cy="43.9" r="1.1"/>
<circle cx="615.4" cy="49.5" r="1.1"/>
<circle cx="639.0" cy="43.5" r="1.1"/>
<circle cx="614.5" cy="52.4" r="1.1"/>
<circle cx="629.6" cy="51.0" r="1.1"/>
<circle cx="628.4" cy="49.2" r="1.1"/>
<circle cx="641.0" cy="46.5" r="1.1"/>
<circle cx="616.4" cy="50.2" r="1.1"/>
<circle cx="623.7" cy="52.0" r="1.1"/>
<circle cx="613.0" cy="57.0" r="1.1"/>
<circle cx="619.0" cy="43.7" r="1.1"/>
<circle cx="624.8" cy="50.5" r="1.1"/>
<circle cx="622.1" cy="40.6" r="1.1"/>
<circle cx="617.0" cy="51.5" r="1.1"/>
<circle cx="616.8" cy="52.9" r="1.1"/>
<circle cx="613.2" cy="52.3" r="1.1"/>
<circle cx="626.7" cy="47.4" r="1.1"/>
<circle cx="622.1" cy="49.2" r="1.1"/>
<circle cx="626.7" cy="41.3" r="1.1"/>
<circle cx="629.9" cy="37.5" r="1.1"/>
<circle cx="641.2" cy="42.7" r="1.1"/>
<circle cx="641.9" cy="40.7" r="1.1"/>
<circle cx="623.0" cy="40.4" r="1.1"/>
<circle cx="620.1" cy="45.5" r="1.1"/>
<circle cx="625.1" cy="49.1" r="1.1"/>
<circle cx="634.3" cy="42.9" r="1.1"/>
<circle cx="610.4" cy="53.5" r="1.1"/>
<circle cx="613.7" cy="53.5" r="1.1"/>
<circle cx="608.6" cy="56.3" r="1.1"/>
<circle cx="634.1" cy="40.3" r="1.1"/>
<circle cx="617.4" cy="52.3" r="1.1"/>
<circle cx="614.8" cy="54.9" r="1.1"/>
<circle cx="615.9" cy="50.4" r="1.1"/>
<circle cx="629.2" cy="51.5" r="1.1"/>
<circle cx="630.1" cy="40.6" r="1.1"/>
<circle cx="627.6" cy="46.0" r="1.1"/>
<circle cx="626.7" cy="47.4" r="1.1"/>
<circle cx="623.0" cy="44.1" r="1.1"/>
<circle cx="646.2" cy="36.3" r="1.1"/>
<circle cx="633.4" cy="49.1" r="1.1"/>
<circle cx="628.4" cy="45.6" r="1.1"/>
<circle cx="643.7" cy="35.4" r="1.1"/>
<circle cx="636.6" cy="48.9" r="1.1"/>
<circle cx="621.5" cy="54.2" r="1.1"/>
<circle cx="622.6" cy="45.4" r="1.1"/>
<circle cx="624.9" cy="47.2" r="1.1"/>
<circle cx="640.9" cy="41.3" r="1.1"/>
<circle cx="641.0" cy="43.8" r="1.1"/>
<circle cx="628.1" cy="40.8" r="1.1"/>
<circle cx="621.2" cy="41.8" r="1.1"/>
<circle cx="620.0" cy="48.0" r="1.1"/>
<circle cx="632.6" cy="48.9" r="1.1"/>
<circle cx="635.8" cy="48.2" r="1.1"/>
<circle cx="635.1" cy="39.5" r="1.1"/>
<circle cx="634.6" cy="45.0" r="1.1"/>
<circle cx="638.4" cy="36.9" r="1.1"/>
<circle cx="634.1" cy="43.0" r="1.1"/>
<circle cx="630.4" cy="40.5" r="1.1"/>
<circle cx="620.1" cy="44.2" r="1.1"/>
<circle cx="620.7" cy="44.4" r="1.1"/>
<circle cx="633.7" cy="39.4" r="1.1"/>
<circle cx="612.9" cy="56.6" r="1.1"/>
<circle cx="611.6" cy="54.4" r="1.1"/>
<circle cx="636.7" cy="40.1" r="1.1"/>
<circle cx="637.2" cy="38.9" r="1.1"/>
<circle cx="637.1" cy="36.5" r="1.1"/>
<circle cx="640.5" cy="36.4" r="1.1"/>
<circle cx="620.5" cy="51.2" r="1.1"/>
<circle cx="614.7" cy="54.2" r="1.1"/>
<circle cx="622.7" cy="47.7" r="1.1"/>
<circle cx="625.5" cy="50.0" r="1.1"/>
<circle cx="613.9" cy="52.8" r="1.1"/>
<circle cx="622.5" cy="49.3" r="1.1"/>
<circle cx="633.1" cy="44.1" r="1.1"/>
<circle cx="623.4" cy="52.5" r="1.1"/>
<circle cx="630.6" cy="41.3" r="1.1"/>
<circle cx="610.5" cy="56.8" r="1.1"/>
<circle cx="621.3" cy="48.4" r="1.1"/>
<circle cx="632.0" cy="41.6" r="1.1"/>
<circle cx="623.0" cy="50.2" r="1.1"/>
<circle cx="640.2" cy="41.1" r="1.1"/>
<circle cx="624.9" cy="48.0" r="1.1"/>
<circle cx="609.8" cy="53.6" r="1.1"/>
<circle cx="630.8" cy="40.8" r="1.1"/>
<circle cx="616.1" cy="51.7" r="1.1"/>
<circle cx="645.1" cy="39.9" r="1.1"/>
<circle cx="632.2" cy="50.0" r="1.1"/>
<circle cx="626.6" cy="39.3" r="1.1"/>
<circle cx="618.2" cy="51.7" r="1.1"/>
<circle cx="639.5" cy="45.1" r="1.1"/>
<circle cx="611.6" cy="53.0" r="1.1"/>
<circle cx="638.8" cy="39.9" r="1.1"/>
<circle cx="627.0" cy="48.0" r="1.1"/>
<circle cx="615.3" cy="50.6" r="1.1"/>
<circle cx="622.5" cy="47.5" r="1.1"/>
<circle cx="624.1" cy="46.4" r="1.1"/>
<circle cx="639.4" cy="38.2" r="1.1"/>
<circle cx="631.8" cy="42.5" r="1.1"/>
<circle cx="609.4" cy="57.2" r="1.1"/>
<circle cx="630.6" cy="40.6" r="1.1"/>
<circle cx="639.0" cy="44.3" r="1.1"/>
<circle cx="644.2" cy="36.1" r="1.1"/>
<circle cx="631.8" cy="43.7" r="1.1"/>
<circle cx="612.9" cy="56.5" r="1.1"/>
<circle cx="618.3" cy="47.5" r="1.1"/>
<circle cx="634.7" cy="43.6" r="1.1"/>
<circle cx="641.3" cy="35.7" r="1.1"/>
<circle cx="635.0" cy="41.4" r="1.1"/>
<circle cx="627.2" cy="38.4" r="1.1"/>
<circle cx="636.6" cy="39.0" r="1.1"/>
<circle cx="609.5" cy="55.8" r="1.1"/>
<circle cx="616.9" cy="55.9" r="1.1"/>
<circle cx="612.0" cy="55.8" r="1.1"/>
<circle cx="626.1" cy="42.4" r="1.1"/>
<circle cx="640.8" cy="45.5" r="1.1"/>
<circle cx="633.0" cy="37.9" r="1.1"/>
<circle cx="636.4" cy="47.2" r="1.1"/>
<circle cx="613.9" cy="54.5" r="1.1"/>
<circle cx="618.7" cy="44.0" r="1.1"/>
<circle cx="641.4" cy="42.2" r="1.1"/>
<circle cx="612.6" cy="56.9" r="1.1"/>
<circle cx="610.4" cy="55.0" r="1.1"/>
<circle cx="634.6" cy="39.4" r="1.1"/>
<circle cx="627.0" cy="41.1" r="1.1"/>
<circle cx="643.7" cy="35.9" r="1.1"/>
<circle cx="636.9" cy="41.3" r="1.1"/>
<circle cx="640.1" cy="42.4" r="1.1"/>
<circle cx="641.1" cy="46.6" r="1.1"/>
<circle cx="644.3" cy="39.6" r="1.1"/>
<circle cx="630.8" cy="37.8" r="1.1"/>
<circle cx="615.2" cy="52.2" r="1.1"/>
<circle cx="636.4" cy="39.1" r="1.1"/>
<circle cx="632.3" cy="45.9" r="1.1"/>
<circle cx="632.4" cy="50.7" r="1.1"/>
<circle cx="637.2" cy="43.9" r="1.1"/>
<circle cx="636.8" cy="35.9" r="1.1"/>
<circle cx="640.3" cy="42.2" r="1.1"/>
<circle cx="642.7" cy="40.7" r="1.1"/>
<circle cx="615.5" cy="53.6" r="1.1"/>
<circle cx="622.8" cy="48.2" r="1.1"/>
<circle cx="625.8" cy="46.4" r="1.1"/>
<circle cx="612.9" cy="50.9" r="1.1"/>
<circle cx="620.8" cy="50.8" r="1.1"/>
<circle cx="623.2" cy="51.7" r="1.1"/>
<circle cx="610.5" cy="54.5" r="1.1"/>
<circle cx="628.5" cy="46.7" r="1.1"/>
<circle cx="646.5" cy="39.7" r="1.1"/>
<circle cx="618.0" cy="53.2" r="1.1"/>
<circle cx="635.9" cy="39.0" r="1.1"/>
<circle cx="631.0" cy="46.5" r="1.1"/>
<circle cx="636.0" cy="37.0" r="1.1"/>
<circle cx="627.7" cy="46.0" r="1.1"/>
<circle cx="637.7" cy="38.4" r="1.1"/>
<circle cx="623.5" cy="44.2" r="1.1"/>
<circle cx="641.4" cy="46.6" r="1.1"/>
<circle cx="638.9" cy="42.3" r="1.1"/>
<circle cx="618.0" cy="44.2" r="1.1"/>
<circle cx="633.2" cy="42.9" r="1.1"/>
<circle cx="625.3" cy="46.1" r="1.1"/>
<circle cx="643.2" cy="35.4" r="1.1"/>
<circle cx="633.6" cy="40.7" r="1.1"/>
<circle cx="635.0" cy="40.8" r="1.1"/>
<circle cx="632.8" cy="40.3" r="1.1"/>
<circle cx="628.8" cy="44.5" r="1.1"/>
<circle cx="645.9" cy="41.2" r="1.1"/>
</g>
<rect x="492.5" y="1.6" width="190.90" height="152.10" fill="none" stroke="#a8a8a8" stroke-width="1.15"/>
<line x1="492.5" y1="153.7" x2="683.4" y2="1.6" stroke="#5a5a5a" stroke-width="0.8" stroke-dasharray="1.9 1.4"/>
<text class="t" x="491.10" y="147.30" font-size="4.6" text-anchor="end" font-weight="bold" textLength="9.35" lengthAdjust="spacingAndGlyphs" fill="#111">-5.00</text>
<text class="t" x="491.10" y="130.29" font-size="4.6" text-anchor="end" font-weight="bold" textLength="5.70" lengthAdjust="spacingAndGlyphs" fill="#111">.00</text>
<text class="t" x="491.10" y="113.28" font-size="4.6" text-anchor="end" font-weight="bold" textLength="8.05" lengthAdjust="spacingAndGlyphs" fill="#111">5.00</text>
<text class="t" x="491.10" y="96.26" font-size="4.6" text-anchor="end" font-weight="bold" textLength="10.40" lengthAdjust="spacingAndGlyphs" fill="#111">10.00</text>
<text class="t" x="491.10" y="79.25" font-size="4.6" text-anchor="end" font-weight="bold" textLength="10.40" lengthAdjust="spacingAndGlyphs" fill="#111">15.00</text>
<text class="t" x="491.10" y="62.24" font-size="4.6" text-anchor="end" font-weight="bold" textLength="10.40" lengthAdjust="spacingAndGlyphs" fill="#111">20.00</text>
<text class="t" x="491.10" y="45.22" font-size="4.6" text-anchor="end" font-weight="bold" textLength="10.40" lengthAdjust="spacingAndGlyphs" fill="#111">25.00</text>
<text class="t" x="491.10" y="28.21" font-size="4.6" text-anchor="end" font-weight="bold" textLength="10.40" lengthAdjust="spacingAndGlyphs" fill="#111">30.00</text>
<text class="t" x="491.10" y="11.20" font-size="4.6" text-anchor="end" font-weight="bold" textLength="10.40" lengthAdjust="spacingAndGlyphs" fill="#111">35.00</text>
<text class="t" x="502.54" y="159.60" font-size="4.6" text-anchor="middle" font-weight="bold" textLength="9.35" lengthAdjust="spacingAndGlyphs" fill="#111">-5.00</text>
<text class="t" x="523.89" y="159.60" font-size="4.6" text-anchor="middle" font-weight="bold" textLength="5.70" lengthAdjust="spacingAndGlyphs" fill="#111">.00</text>
<text class="t" x="545.24" y="159.60" font-size="4.6" text-anchor="middle" font-weight="bold" textLength="8.05" lengthAdjust="spacingAndGlyphs" fill="#111">5.00</text>
<text class="t" x="566.60" y="159.60" font-size="4.6" text-anchor="middle" font-weight="bold" textLength="10.40" lengthAdjust="spacingAndGlyphs" fill="#111">10.00</text>
<text class="t" x="587.95" y="159.60" font-size="4.6" text-anchor="middle" font-weight="bold" textLength="10.40" lengthAdjust="spacingAndGlyphs" fill="#111">15.00</text>
<text class="t" x="609.30" y="159.60" font-size="4.6" text-anchor="middle" font-weight="bold" textLength="10.40" lengthAdjust="spacingAndGlyphs" fill="#111">20.00</text>
<text class="t" x="630.66" y="159.60" font-size="4.6" text-anchor="middle" font-weight="bold" textLength="10.40" lengthAdjust="spacingAndGlyphs" fill="#111">25.00</text>
<text class="t" x="652.01" y="159.60" font-size="4.6" text-anchor="middle" font-weight="bold" textLength="10.40" lengthAdjust="spacingAndGlyphs" fill="#111">30.00</text>
<text class="t" x="673.36" y="159.60" font-size="4.6" text-anchor="middle" font-weight="bold" textLength="10.40" lengthAdjust="spacingAndGlyphs" fill="#111">35.00</text>
<text class="h" x="497.8" y="17.7" font-size="8.3" font-weight="bold" textLength="122.5" lengthAdjust="spacingAndGlyphs">PCC=0.868<tspan font-size="9" dy="0.8">**</tspan><tspan dy="-0.8">, R</tspan><tspan font-size="5" dy="-3.2">2</tspan><tspan dy="3.2">=0.752, MAE=2.460</tspan></text>
<text x="462.80" y="15.80" font-size="15.5" text-anchor="start" font-weight="bold">c</text>
<text x="474.10" y="77.65" font-size="6.2" text-anchor="middle" font-weight="bold" textLength="31.50" lengthAdjust="spacingAndGlyphs" transform="rotate(-90 474.10 77.65)">Predicted VF</text>
<text x="587.95" y="169.90" font-size="6.2" text-anchor="middle" font-weight="bold" textLength="23.80" lengthAdjust="spacingAndGlyphs">Actual VF</text>
<g fill="#40bd97">
<circle cx="114.1" cy="250.8" r="1.1"/>
<circle cx="94.3" cy="257.4" r="1.1"/>
<circle cx="109.2" cy="257.8" r="1.1"/>
<circle cx="123.0" cy="261.8" r="1.1"/>
<circle cx="118.3" cy="262.9" r="1.1"/>
<circle cx="115.1" cy="263.5" r="1.1"/>
<circle cx="107.8" cy="264.8" r="1.1"/>
<circle cx="109.6" cy="265.6" r="1.1"/>
<circle cx="106.7" cy="268.0" r="1.1"/>
<circle cx="110.4" cy="267.1" r="1.1"/>
<circle cx="112.2" cy="268.5" r="1.1"/>
<circle cx="113.9" cy="269.1" r="1.1"/>
<circle cx="115.7" cy="268.0" r="1.1"/>
<circle cx="116.5" cy="267.1" r="1.1"/>
<circle cx="120.3" cy="266.2" r="1.1"/>
<circle cx="123.2" cy="265.6" r="1.1"/>
<circle cx="119.7" cy="271.1" r="1.1"/>
<circle cx="97.8" cy="272.3" r="1.1"/>
<circle cx="104.6" cy="275.0" r="1.1"/>
<circle cx="105.7" cy="277.9" r="1.1"/>
<circle cx="111.0" cy="275.0" r="1.1"/>
<circle cx="113.3" cy="278.2" r="1.1"/>
<circle cx="117.4" cy="277.3" r="1.1"/>
<circle cx="118.8" cy="279.1" r="1.1"/>
<circle cx="119.5" cy="283.5" r="1.1"/>
<circle cx="116.8" cy="286.4" r="1.1"/>
<circle cx="95.8" cy="276.9" r="1.1"/>
<circle cx="96.4" cy="281.0" r="1.1"/>
<circle cx="110.4" cy="289.0" r="1.1"/>
<circle cx="111.0" cy="290.1" r="1.1"/>
<circle cx="100.5" cy="293.1" r="1.1"/>
<circle cx="101.3" cy="293.3" r="1.1"/>
<circle cx="106.7" cy="296.0" r="1.1"/>
<circle cx="95.5" cy="299.5" r="1.1"/>
<circle cx="98.1" cy="287.5" r="1.1"/>
<circle cx="93.5" cy="290.7" r="1.1"/>
<circle cx="92.7" cy="286.3" r="1.1"/>
<circle cx="91.5" cy="289.6" r="1.1"/>
<circle cx="89.2" cy="285.8" r="1.1"/>
<circle cx="85.3" cy="293.1" r="1.1"/>
<circle cx="85.9" cy="287.2" r="1.1"/>
<circle cx="86.5" cy="288.4" r="1.1"/>
<circle cx="83.0" cy="288.4" r="1.1"/>
<circle cx="81.0" cy="283.7" r="1.1"/>
<circle cx="82.6" cy="282.9" r="1.1"/>
<circle cx="80.0" cy="287.0" r="1.1"/>
<circle cx="82.4" cy="285.5" r="1.1"/>
<circle cx="72.5" cy="285.1" r="1.1"/>
<circle cx="69.5" cy="287.0" r="1.1"/>
<circle cx="70.9" cy="279.6" r="1.1"/>
<circle cx="67.2" cy="293.6" r="1.1"/>
<circle cx="63.7" cy="289.6" r="1.1"/>
<circle cx="59.6" cy="292.8" r="1.1"/>
<circle cx="55.3" cy="284.7" r="1.1"/>
<circle cx="55.3" cy="298.9" r="1.1"/>
<circle cx="55.3" cy="301.0" r="1.1"/>
<circle cx="72.8" cy="295.6" r="1.1"/>
<circle cx="70.9" cy="304.5" r="1.1"/>
<circle cx="70.1" cy="305.9" r="1.1"/>
<circle cx="81.4" cy="300.1" r="1.1"/>
<circle cx="191.0" cy="229.3" r="1.1"/>
<circle cx="186.9" cy="234.5" r="1.1"/>
<circle cx="184.6" cy="224.0" r="1.1"/>
<circle cx="184.0" cy="226.9" r="1.1"/>
<circle cx="182.2" cy="229.3" r="1.1"/>
<circle cx="178.7" cy="223.8" r="1.1"/>
<circle cx="175.2" cy="244.8" r="1.1"/>
<circle cx="168.2" cy="247.1" r="1.1"/>
<circle cx="169.4" cy="248.0" r="1.1"/>
<circle cx="158.3" cy="226.1" r="1.1"/>
<circle cx="155.6" cy="229.3" r="1.1"/>
<circle cx="150.1" cy="232.2" r="1.1"/>
<circle cx="145.1" cy="234.8" r="1.1"/>
<circle cx="147.2" cy="235.1" r="1.1"/>
<circle cx="137.3" cy="241.3" r="1.1"/>
<circle cx="135.7" cy="244.8" r="1.1"/>
<circle cx="128.5" cy="249.1" r="1.1"/>
<circle cx="133.8" cy="249.7" r="1.1"/>
<circle cx="128.8" cy="253.4" r="1.1"/>
<circle cx="128.3" cy="257.3" r="1.1"/>
<circle cx="128.5" cy="260.8" r="1.1"/>
<circle cx="133.8" cy="256.7" r="1.1"/>
<circle cx="136.9" cy="259.1" r="1.1"/>
<circle cx="140.8" cy="247.4" r="1.1"/>
<circle cx="141.3" cy="250.3" r="1.1"/>
<circle cx="137.8" cy="250.3" r="1.1"/>
<circle cx="139.0" cy="254.4" r="1.1"/>
<circle cx="141.3" cy="255.0" r="1.1"/>
<circle cx="141.1" cy="257.9" r="1.1"/>
<circle cx="141.3" cy="259.1" r="1.1"/>
<circle cx="147.2" cy="255.6" r="1.1"/>
<circle cx="151.9" cy="259.1" r="1.1"/>
<circle cx="151.3" cy="260.2" r="1.1"/>
<circle cx="153.6" cy="253.8" r="1.1"/>
<circle cx="154.2" cy="251.5" r="1.1"/>
<circle cx="162.4" cy="258.8" r="1.1"/>
<circle cx="165.3" cy="259.1" r="1.1"/>
<circle cx="133.4" cy="263.1" r="1.1"/>
<circle cx="138.8" cy="264.9" r="1.1"/>
<circle cx="141.3" cy="262.8" r="1.1"/>
<circle cx="144.3" cy="264.7" r="1.1"/>
<circle cx="147.2" cy="267.5" r="1.1"/>
<circle cx="141.3" cy="269.0" r="1.1"/>
<circle cx="134.9" cy="270.7" r="1.1"/>
<circle cx="154.2" cy="264.7" r="1.1"/>
<circle cx="156.8" cy="264.0" r="1.1"/>
<circle cx="156.5" cy="267.8" r="1.1"/>
<circle cx="164.9" cy="268.7" r="1.1"/>
<circle cx="130.3" cy="275.2" r="1.1"/>
<circle cx="131.4" cy="277.5" r="1.1"/>
<circle cx="125.6" cy="267.2" r="1.1"/>
<circle cx="144.8" cy="239.2" r="1.1"/>
<circle cx="145.4" cy="242.7" r="1.1"/>
<circle cx="144.3" cy="245.0" r="1.1"/>
<circle cx="146.6" cy="247.4" r="1.1"/>
<circle cx="149.5" cy="245.0" r="1.1"/>
<circle cx="148.9" cy="242.1" r="1.1"/>
<circle cx="157.2" cy="241.5" r="1.1"/>
<circle cx="150.4" cy="240.2" r="1.1"/>
<circle cx="155.9" cy="237.3" r="1.1"/>
<circle cx="165.6" cy="229.9" r="1.1"/>
<circle cx="156.8" cy="235.9" r="1.1"/>
<circle cx="167.0" cy="241.6" r="1.1"/>
<circle cx="153.4" cy="242.9" r="1.1"/>
<circle cx="163.0" cy="239.2" r="1.1"/>
<circle cx="168.6" cy="237.3" r="1.1"/>
<circle cx="157.4" cy="232.0" r="1.1"/>
<circle cx="154.2" cy="238.3" r="1.1"/>
<circle cx="160.1" cy="240.1" r="1.1"/>
<circle cx="177.7" cy="232.0" r="1.1"/>
<circle cx="166.5" cy="237.8" r="1.1"/>
<circle cx="156.9" cy="244.4" r="1.1"/>
<circle cx="162.2" cy="243.5" r="1.1"/>
<circle cx="159.0" cy="242.1" r="1.1"/>
<circle cx="174.0" cy="237.5" r="1.1"/>
<circle cx="179.7" cy="229.4" r="1.1"/>
<circle cx="167.1" cy="236.1" r="1.1"/>
<circle cx="168.3" cy="235.2" r="1.1"/>
<circle cx="162.6" cy="237.1" r="1.1"/>
<circle cx="172.6" cy="233.2" r="1.1"/>
<circle cx="160.4" cy="239.3" r="1.1"/>
<circle cx="160.2" cy="233.9" r="1.1"/>
<circle cx="164.4" cy="236.8" r="1.1"/>
<circle cx="151.3" cy="239.8" r="1.1"/>
<circle cx="167.4" cy="228.4" r="1.1"/>
<circle cx="181.3" cy="231.2" r="1.1"/>
<circle cx="166.8" cy="238.0" r="1.1"/>
<circle cx="165.0" cy="238.4" r="1.1"/>
<circle cx="171.2" cy="235.5" r="1.1"/>
<circle cx="159.2" cy="240.3" r="1.1"/>
<circle cx="170.9" cy="238.6" r="1.1"/>
<circle cx="160.8" cy="239.5" r="1.1"/>
<circle cx="162.2" cy="240.9" r="1.1"/>
<circle cx="164.9" cy="229.0" r="1.1"/>
<circle cx="164.8" cy="238.2" r="1.1"/>
<circle cx="169.2" cy="240.4" r="1.1"/>
<circle cx="169.4" cy="227.4" r="1.1"/>
<circle cx="157.3" cy="242.5" r="1.1"/>
<circle cx="170.6" cy="231.0" r="1.1"/>
<circle cx="164.3" cy="239.3" r="1.1"/>
<circle cx="155.8" cy="241.5" r="1.1"/>
<circle cx="167.1" cy="236.0" r="1.1"/>
<circle cx="173.9" cy="228.9" r="1.1"/>
<circle cx="174.4" cy="233.9" r="1.1"/>
<circle cx="172.3" cy="234.6" r="1.1"/>
<circle cx="149.7" cy="247.5" r="1.1"/>
<circle cx="167.4" cy="234.5" r="1.1"/>
<circle cx="162.6" cy="235.4" r="1.1"/>
<circle cx="148.0" cy="247.2" r="1.1"/>
<circle cx="162.2" cy="240.8" r="1.1"/>
<circle cx="176.0" cy="233.5" r="1.1"/>
<circle cx="154.9" cy="235.5" r="1.1"/>
<circle cx="172.4" cy="231.6" r="1.1"/>
<circle cx="159.2" cy="230.8" r="1.1"/>
<circle cx="166.7" cy="229.1" r="1.1"/>
<circle cx="165.6" cy="235.4" r="1.1"/>
<circle cx="150.5" cy="245.6" r="1.1"/>
<circle cx="158.9" cy="232.1" r="1.1"/>
<circle cx="170.4" cy="234.4" r="1.1"/>
<circle cx="151.7" cy="242.8" r="1.1"/>
<circle cx="176.7" cy="229.4" r="1.1"/>
<circle cx="175.6" cy="230.1" r="1.1"/>
<circle cx="159.0" cy="243.2" r="1.1"/>
<circle cx="164.6" cy="231.7" r="1.1"/>
<circle cx="162.7" cy="229.4" r="1.1"/>
<circle cx="172.0" cy="232.5" r="1.1"/>
<circle cx="159.5" cy="232.1" r="1.1"/>
<circle cx="168.4" cy="231.3" r="1.1"/>
<circle cx="178.1" cy="229.3" r="1.1"/>
<circle cx="164.9" cy="239.0" r="1.1"/>
<circle cx="155.9" cy="244.4" r="1.1"/>
<circle cx="160.2" cy="241.7" r="1.1"/>
<circle cx="166.9" cy="233.6" r="1.1"/>
<circle cx="152.5" cy="246.2" r="1.1"/>
<circle cx="157.8" cy="241.8" r="1.1"/>
<circle cx="159.3" cy="238.1" r="1.1"/>
<circle cx="150.6" cy="243.1" r="1.1"/>
<circle cx="156.4" cy="235.8" r="1.1"/>
<circle cx="170.4" cy="234.6" r="1.1"/>
<circle cx="161.2" cy="241.8" r="1.1"/>
<circle cx="171.7" cy="232.2" r="1.1"/>
<circle cx="177.2" cy="234.6" r="1.1"/>
<circle cx="169.1" cy="230.6" r="1.1"/>
<circle cx="150.2" cy="247.7" r="1.1"/>
<circle cx="157.2" cy="235.3" r="1.1"/>
<circle cx="169.5" cy="230.6" r="1.1"/>
<circle cx="172.4" cy="232.3" r="1.1"/>
<circle cx="162.0" cy="242.3" r="1.1"/>
<circle cx="150.1" cy="244.8" r="1.1"/>
<circle cx="173.6" cy="228.4" r="1.1"/>
<circle cx="171.6" cy="235.6" r="1.1"/>
<circle cx="169.1" cy="236.9" r="1.1"/>
<circle cx="161.8" cy="238.3" r="1.1"/>
<circle cx="180.2" cy="229.4" r="1.1"/>
<circle cx="174.0" cy="227.4" r="1.1"/>
<circle cx="155.6" cy="239.1" r="1.1"/>
<circle cx="166.0" cy="232.2" r="1.1"/>
<circle cx="161.2" cy="231.1" r="1.1"/>
<circle cx="165.0" cy="236.8" r="1.1"/>
<circle cx="151.2" cy="239.5" r="1.1"/>
<circle cx="152.2" cy="241.9" r="1.1"/>
<circle cx="168.0" cy="237.2" r="1.1"/>
<circle cx="159.3" cy="231.2" r="1.1"/>
<circle cx="153.2" cy="242.8" r="1.1"/>
<circle cx="162.5" cy="229.0" r="1.1"/>
<circle cx="157.9" cy="237.3" r="1.1"/>
<circle cx="149.1" cy="243.1" r="1.1"/>
<circle cx="162.0" cy="230.8" r="1.1"/>
<circle cx="170.0" cy="232.3" r="1.1"/>
<circle cx="176.9" cy="233.3" r="1.1"/>
<circle cx="152.8" cy="241.3" r="1.1"/>
<circle cx="152.2" cy="244.7" r="1.1"/>
<circle cx="176.4" cy="233.9" r="1.1"/>
<circle cx="159.6" cy="239.2" r="1.1"/>
<circle cx="166.9" cy="241.0" r="1.1"/>
<circle cx="164.2" cy="238.0" r="1.1"/>
<circle cx="167.4" cy="228.3" r="1.1"/>
<circle cx="171.3" cy="230.2" r="1.1"/>
<circle cx="162.2" cy="230.8" r="1.1"/>
<circle cx="172.6" cy="226.5" r="1.1"/>
<circle cx="175.0" cy="236.3" r="1.1"/>
<circle cx="156.4" cy="241.8" r="1.1"/>
<circle cx="164.9" cy="236.2" r="1.1"/>
<circle cx="158.5" cy="236.6" r="1.1"/>
<circle cx="179.3" cy="230.2" r="1.1"/>
<circle cx="156.9" cy="236.7" r="1.1"/>
<circle cx="166.7" cy="234.5" r="1.1"/>
<circle cx="157.9" cy="237.1" r="1.1"/>
<circle cx="175.8" cy="227.8" r="1.1"/>
<circle cx="170.9" cy="240.6" r="1.1"/>
<circle cx="156.9" cy="239.7" r="1.1"/>
<circle cx="169.8" cy="233.4" r="1.1"/>
<circle cx="171.0" cy="236.8" r="1.1"/>
<circle cx="149.1" cy="241.8" r="1.1"/>
<circle cx="159.7" cy="239.9" r="1.1"/>
<circle cx="161.3" cy="238.8" r="1.1"/>
<circle cx="166.8" cy="235.6" r="1.1"/>
<circle cx="150.1" cy="246.5" r="1.1"/>
<circle cx="165.5" cy="232.3" r="1.1"/>
<circle cx="164.0" cy="239.3" r="1.1"/>
<circle cx="154.3" cy="239.7" r="1.1"/>
<circle cx="167.7" cy="228.3" r="1.1"/>
<circle cx="166.3" cy="243.1" r="1.1"/>
<circle cx="173.8" cy="229.1" r="1.1"/>
<circle cx="149.8" cy="245.7" r="1.1"/>
<circle cx="160.4" cy="230.4" r="1.1"/>
<circle cx="174.5" cy="229.6" r="1.1"/>
<circle cx="174.6" cy="227.7" r="1.1"/>
<circle cx="154.7" cy="235.1" r="1.1"/>
<circle cx="172.0" cy="236.3" r="1.1"/>
<circle cx="152.2" cy="243.8" r="1.1"/>
<circle cx="172.6" cy="227.4" r="1.1"/>
<circle cx="168.2" cy="228.7" r="1.1"/>
<circle cx="150.2" cy="248.0" r="1.1"/>
<circle cx="170.8" cy="232.3" r="1.1"/>
<circle cx="153.1" cy="236.8" r="1.1"/>
<circle cx="150.1" cy="245.1" r="1.1"/>
<circle cx="152.8" cy="239.3" r="1.1"/>
<circle cx="156.7" cy="242.4" r="1.1"/>
<circle cx="175.5" cy="227.2" r="1.1"/>
<circle cx="152.7" cy="245.5" r="1.1"/>
<circle cx="171.0" cy="235.6" r="1.1"/>
<circle cx="163.5" cy="230.1" r="1.1"/>
<circle cx="177.1" cy="235.6" r="1.1"/>
<circle cx="167.7" cy="227.4" r="1.1"/>
<circle cx="163.2" cy="239.8" r="1.1"/>
<circle cx="160.3" cy="234.6" r="1.1"/>
</g>
<rect x="28.3" y="191.4" width="190.00" height="151.50" fill="none" stroke="#a8a8a8" stroke-width="1.15"/>
<line x1="28.3" y1="342.9" x2="218.3" y2="191.4" stroke="#5a5a5a" stroke-width="0.8" stroke-dasharray="1.9 1.4"/>
<text class="t" x="26.90" y="336.54" font-size="4.6" text-anchor="end" font-weight="bold" textLength="9.35" lengthAdjust="spacingAndGlyphs" fill="#111">-5.00</text>
<text class="t" x="26.90" y="319.59" font-size="4.6" text-anchor="end" font-weight="bold" textLength="5.70" lengthAdjust="spacingAndGlyphs" fill="#111">.00</text>
<text class="t" x="26.90" y="302.64" font-size="4.6" text-anchor="end" font-weight="bold" textLength="8.05" lengthAdjust="spacingAndGlyphs" fill="#111">5.00</text>
<text class="t" x="26.90" y="285.70" font-size="4.6" text-anchor="end" font-weight="bold" textLength="10.40" lengthAdjust="spacingAndGlyphs" fill="#111">10.00</text>
<text class="t" x="26.90" y="268.75" font-size="4.6" text-anchor="end" font-weight="bold" textLength="10.40" lengthAdjust="spacingAndGlyphs" fill="#111">15.00</text>
<text class="t" x="26.90" y="251.80" font-size="4.6" text-anchor="end" font-weight="bold" textLength="10.40" lengthAdjust="spacingAndGlyphs" fill="#111">20.00</text>
<text class="t" x="26.90" y="234.86" font-size="4.6" text-anchor="end" font-weight="bold" textLength="10.40" lengthAdjust="spacingAndGlyphs" fill="#111">25.00</text>
<text class="t" x="26.90" y="217.91" font-size="4.6" text-anchor="end" font-weight="bold" textLength="10.40" lengthAdjust="spacingAndGlyphs" fill="#111">30.00</text>
<text class="t" x="26.90" y="200.96" font-size="4.6" text-anchor="end" font-weight="bold" textLength="10.40" lengthAdjust="spacingAndGlyphs" fill="#111">35.00</text>
<text class="t" x="38.29" y="348.80" font-size="4.6" text-anchor="middle" font-weight="bold" textLength="9.35" lengthAdjust="spacingAndGlyphs" fill="#111">-5.00</text>
<text class="t" x="59.54" y="348.80" font-size="4.6" text-anchor="middle" font-weight="bold" textLength="5.70" lengthAdjust="spacingAndGlyphs" fill="#111">.00</text>
<text class="t" x="80.79" y="348.80" font-size="4.6" text-anchor="middle" font-weight="bold" textLength="8.05" lengthAdjust="spacingAndGlyphs" fill="#111">5.00</text>
<text class="t" x="102.05" y="348.80" font-size="4.6" text-anchor="middle" font-weight="bold" textLength="10.40" lengthAdjust="spacingAndGlyphs" fill="#111">10.00</text>
<text class="t" x="123.30" y="348.80" font-size="4.6" text-anchor="middle" font-weight="bold" textLength="10.40" lengthAdjust="spacingAndGlyphs" fill="#111">15.00</text>
<text class="t" x="144.55" y="348.80" font-size="4.6" text-anchor="middle" font-weight="bold" textLength="10.40" lengthAdjust="spacingAndGlyphs" fill="#111">20.00</text>
<text class="t" x="165.81" y="348.80" font-size="4.6" text-anchor="middle" font-weight="bold" textLength="10.40" lengthAdjust="spacingAndGlyphs" fill="#111">25.00</text>
<text class="t" x="187.06" y="348.80" font-size="4.6" text-anchor="middle" font-weight="bold" textLength="10.40" lengthAdjust="spacingAndGlyphs" fill="#111">30.00</text>
<text class="t" x="208.31" y="348.80" font-size="4.6" text-anchor="middle" font-weight="bold" textLength="10.40" lengthAdjust="spacingAndGlyphs" fill="#111">35.00</text>
<text class="h" x="33.8" y="206.6" font-size="8.3" font-weight="bold" textLength="122.4" lengthAdjust="spacingAndGlyphs">PCC=0.916<tspan font-size="9" dy="0.8">**</tspan><tspan dy="-0.8">, R</tspan><tspan font-size="5" dy="-3.2">2</tspan><tspan dy="3.2">=0.834, MAE=2.099</tspan></text>
<text x="0.40" y="204.50" font-size="15.5" text-anchor="start" font-weight="bold">d</text>
<text x="9.90" y="267.15" font-size="6.2" text-anchor="middle" font-weight="bold" textLength="31.50" lengthAdjust="spacingAndGlyphs" transform="rotate(-90 9.90 267.15)">Predicted VF</text>
<g fill="#40bd97">
<circle cx="291.4" cy="296.9" r="1.1"/>
<circle cx="305.5" cy="296.7" r="1.1"/>
<circle cx="309.8" cy="296.7" r="1.1"/>
<circle cx="307.4" cy="291.5" r="1.1"/>
<circle cx="315.0" cy="282.7" r="1.1"/>
<circle cx="316.0" cy="285.6" r="1.1"/>
<circle cx="315.6" cy="291.5" r="1.1"/>
<circle cx="313.9" cy="295.0" r="1.1"/>
<circle cx="316.2" cy="295.0" r="1.1"/>
<circle cx="317.4" cy="297.9" r="1.1"/>
<circle cx="320.3" cy="297.3" r="1.1"/>
<circle cx="321.5" cy="299.1" r="1.1"/>
<circle cx="323.8" cy="299.6" r="1.1"/>
<circle cx="319.7" cy="296.1" r="1.1"/>
<circle cx="322.6" cy="294.4" r="1.1"/>
<circle cx="324.4" cy="292.6" r="1.1"/>
<circle cx="323.8" cy="290.3" r="1.1"/>
<circle cx="325.0" cy="290.9" r="1.1"/>
<circle cx="324.4" cy="286.8" r="1.1"/>
<circle cx="326.5" cy="295.8" r="1.1"/>
<circle cx="328.5" cy="293.8" r="1.1"/>
<circle cx="332.0" cy="294.7" r="1.1"/>
<circle cx="333.7" cy="294.4" r="1.1"/>
<circle cx="332.6" cy="296.5" r="1.1"/>
<circle cx="335.1" cy="304.3" r="1.1"/>
<circle cx="341.9" cy="296.1" r="1.1"/>
<circle cx="342.8" cy="299.6" r="1.1"/>
<circle cx="315.6" cy="301.1" r="1.1"/>
<circle cx="304.5" cy="308.4" r="1.1"/>
<circle cx="303.9" cy="310.1" r="1.1"/>
<circle cx="302.8" cy="311.3" r="1.1"/>
<circle cx="304.5" cy="312.5" r="1.1"/>
<circle cx="307.8" cy="310.7" r="1.1"/>
<circle cx="313.9" cy="311.3" r="1.1"/>
<circle cx="320.6" cy="311.3" r="1.1"/>
<circle cx="320.9" cy="271.6" r="1.1"/>
<circle cx="326.9" cy="261.1" r="1.1"/>
<circle cx="335.8" cy="264.6" r="1.1"/>
<circle cx="334.0" cy="272.0" r="1.1"/>
<circle cx="333.7" cy="278.0" r="1.1"/>
<circle cx="330.4" cy="280.6" r="1.1"/>
<circle cx="331.4" cy="281.5" r="1.1"/>
<circle cx="330.0" cy="283.9" r="1.1"/>
<circle cx="329.1" cy="284.8" r="1.1"/>
<circle cx="335.8" cy="283.9" r="1.1"/>
<circle cx="337.5" cy="283.3" r="1.1"/>
<circle cx="339.6" cy="279.8" r="1.1"/>
<circle cx="339.0" cy="281.5" r="1.1"/>
<circle cx="340.7" cy="278.0" r="1.1"/>
<circle cx="337.8" cy="274.5" r="1.1"/>
<circle cx="340.1" cy="275.1" r="1.1"/>
<circle cx="344.2" cy="277.4" r="1.1"/>
<circle cx="346.0" cy="281.5" r="1.1"/>
<circle cx="346.6" cy="283.9" r="1.1"/>
<circle cx="342.8" cy="286.6" r="1.1"/>
<circle cx="348.9" cy="289.5" r="1.1"/>
<circle cx="351.2" cy="284.4" r="1.1"/>
<circle cx="354.2" cy="283.6" r="1.1"/>
<circle cx="354.2" cy="288.8" r="1.1"/>
<circle cx="347.7" cy="271.0" r="1.1"/>
<circle cx="349.1" cy="265.2" r="1.1"/>
<circle cx="350.1" cy="266.4" r="1.1"/>
<circle cx="348.3" cy="272.8" r="1.1"/>
<circle cx="351.2" cy="271.6" r="1.1"/>
<circle cx="352.4" cy="273.9" r="1.1"/>
<circle cx="353.6" cy="276.3" r="1.1"/>
<circle cx="353.0" cy="277.8" r="1.1"/>
<circle cx="354.7" cy="274.5" r="1.1"/>
<circle cx="350.1" cy="254.9" r="1.1"/>
<circle cx="355.3" cy="257.9" r="1.1"/>
<circle cx="357.1" cy="252.1" r="1.1"/>
<circle cx="358.5" cy="252.6" r="1.1"/>
<circle cx="358.0" cy="261.1" r="1.1"/>
<circle cx="358.0" cy="262.9" r="1.1"/>
<circle cx="358.8" cy="266.4" r="1.1"/>
<circle cx="359.4" cy="270.4" r="1.1"/>
<circle cx="359.4" cy="279.2" r="1.1"/>
<circle cx="354.7" cy="266.4" r="1.1"/>
<circle cx="356.5" cy="268.7" r="1.1"/>
<circle cx="400.5" cy="221.0" r="1.1"/>
<circle cx="341.8" cy="247.7" r="1.1"/>
<circle cx="347.0" cy="245.3" r="1.1"/>
<circle cx="353.1" cy="247.9" r="1.1"/>
<circle cx="350.3" cy="254.9" r="1.1"/>
<circle cx="355.8" cy="257.8" r="1.1"/>
<circle cx="358.7" cy="256.1" r="1.1"/>
<circle cx="364.5" cy="245.0" r="1.1"/>
<circle cx="368.0" cy="246.5" r="1.1"/>
<circle cx="368.6" cy="250.8" r="1.1"/>
<circle cx="363.9" cy="250.8" r="1.1"/>
<circle cx="382.6" cy="264.2" r="1.1"/>
<circle cx="387.6" cy="272.6" r="1.1"/>
<circle cx="389.3" cy="261.0" r="1.1"/>
<circle cx="393.7" cy="255.8" r="1.1"/>
<circle cx="392.0" cy="259.0" r="1.1"/>
<circle cx="399.8" cy="263.3" r="1.1"/>
<circle cx="402.5" cy="252.0" r="1.1"/>
<circle cx="403.6" cy="247.7" r="1.1"/>
<circle cx="407.1" cy="247.9" r="1.1"/>
<circle cx="410.7" cy="249.1" r="1.1"/>
<circle cx="411.2" cy="244.4" r="1.1"/>
<circle cx="412.4" cy="241.5" r="1.1"/>
<circle cx="416.5" cy="238.5" r="1.1"/>
<circle cx="340.0" cy="238.5" r="1.1"/>
<circle cx="366.6" cy="277.1" r="1.1"/>
<circle cx="359.3" cy="276.5" r="1.1"/>
<circle cx="364.5" cy="273.0" r="1.1"/>
<circle cx="361.6" cy="270.1" r="1.1"/>
<circle cx="364.5" cy="270.1" r="1.1"/>
<circle cx="351.7" cy="273.0" r="1.1"/>
<circle cx="352.9" cy="275.9" r="1.1"/>
<circle cx="348.8" cy="265.4" r="1.1"/>
<circle cx="348.2" cy="270.1" r="1.1"/>
<circle cx="355.2" cy="266.6" r="1.1"/>
<circle cx="359.3" cy="260.7" r="1.1"/>
<circle cx="362.2" cy="260.7" r="1.1"/>
<circle cx="365.1" cy="263.1" r="1.1"/>
<circle cx="367.4" cy="263.6" r="1.1"/>
<circle cx="371.5" cy="263.6" r="1.1"/>
<circle cx="373.9" cy="261.9" r="1.1"/>
<circle cx="377.4" cy="260.7" r="1.1"/>
<circle cx="400.4" cy="221.0" r="1.1"/>
<circle cx="420.0" cy="226.9" r="1.1"/>
<circle cx="426.4" cy="226.6" r="1.1"/>
<circle cx="416.0" cy="238.7" r="1.1"/>
<circle cx="412.5" cy="241.3" r="1.1"/>
<circle cx="409.9" cy="242.7" r="1.1"/>
<circle cx="409.0" cy="244.0" r="1.1"/>
<circle cx="408.1" cy="246.2" r="1.1"/>
<circle cx="403.3" cy="244.8" r="1.1"/>
<circle cx="404.6" cy="247.9" r="1.1"/>
<circle cx="400.7" cy="247.0" r="1.1"/>
<circle cx="401.1" cy="249.7" r="1.1"/>
<circle cx="403.1" cy="251.9" r="1.1"/>
<circle cx="411.6" cy="249.2" r="1.1"/>
<circle cx="398.7" cy="243.5" r="1.1"/>
<circle cx="395.9" cy="244.0" r="1.1"/>
<circle cx="399.8" cy="263.2" r="1.1"/>
<circle cx="364.6" cy="283.9" r="1.1"/>
<circle cx="369.9" cy="283.0" r="1.1"/>
<circle cx="377.0" cy="284.0" r="1.1"/>
<circle cx="375.1" cy="287.7" r="1.1"/>
<circle cx="401.9" cy="282.2" r="1.1"/>
<circle cx="407.9" cy="228.1" r="1.1"/>
<circle cx="393.3" cy="235.3" r="1.1"/>
<circle cx="392.8" cy="237.6" r="1.1"/>
<circle cx="419.7" cy="220.4" r="1.1"/>
<circle cx="406.5" cy="239.7" r="1.1"/>
<circle cx="396.6" cy="228.3" r="1.1"/>
<circle cx="394.4" cy="243.8" r="1.1"/>
<circle cx="410.4" cy="235.6" r="1.1"/>
<circle cx="406.6" cy="230.6" r="1.1"/>
<circle cx="403.5" cy="232.3" r="1.1"/>
<circle cx="400.9" cy="231.1" r="1.1"/>
<circle cx="383.5" cy="247.3" r="1.1"/>
<circle cx="399.9" cy="233.6" r="1.1"/>
<circle cx="404.1" cy="229.0" r="1.1"/>
<circle cx="394.3" cy="229.2" r="1.1"/>
<circle cx="409.9" cy="237.0" r="1.1"/>
<circle cx="417.7" cy="230.2" r="1.1"/>
<circle cx="396.3" cy="244.2" r="1.1"/>
<circle cx="416.3" cy="228.2" r="1.1"/>
<circle cx="409.1" cy="226.3" r="1.1"/>
<circle cx="397.9" cy="225.7" r="1.1"/>
<circle cx="407.1" cy="225.6" r="1.1"/>
<circle cx="390.1" cy="236.5" r="1.1"/>
<circle cx="417.2" cy="226.1" r="1.1"/>
<circle cx="395.2" cy="243.3" r="1.1"/>
<circle cx="407.1" cy="232.3" r="1.1"/>
<circle cx="408.2" cy="230.1" r="1.1"/>
<circle cx="384.9" cy="239.4" r="1.1"/>
<circle cx="395.5" cy="235.2" r="1.1"/>
<circle cx="405.2" cy="227.6" r="1.1"/>
<circle cx="419.5" cy="221.1" r="1.1"/>
<circle cx="405.8" cy="242.5" r="1.1"/>
<circle cx="411.4" cy="222.2" r="1.1"/>
<circle cx="413.2" cy="232.9" r="1.1"/>
<circle cx="403.0" cy="238.2" r="1.1"/>
<circle cx="403.6" cy="240.4" r="1.1"/>
<circle cx="405.3" cy="229.9" r="1.1"/>
<circle cx="410.5" cy="227.6" r="1.1"/>
<circle cx="411.8" cy="229.2" r="1.1"/>
<circle cx="399.9" cy="228.2" r="1.1"/>
<circle cx="400.7" cy="240.3" r="1.1"/>
<circle cx="411.7" cy="230.9" r="1.1"/>
<circle cx="419.6" cy="226.6" r="1.1"/>
<circle cx="411.0" cy="222.2" r="1.1"/>
<circle cx="403.6" cy="225.1" r="1.1"/>
<circle cx="417.8" cy="231.0" r="1.1"/>
<circle cx="411.8" cy="227.1" r="1.1"/>
<circle cx="406.6" cy="230.3" r="1.1"/>
<circle cx="412.7" cy="234.1" r="1.1"/>
<circle cx="387.2" cy="242.8" r="1.1"/>
<circle cx="385.6" cy="240.0" r="1.1"/>
<circle cx="392.9" cy="233.2" r="1.1"/>
<circle cx="411.1" cy="239.9" r="1.1"/>
<circle cx="391.2" cy="237.6" r="1.1"/>
<circle cx="389.0" cy="247.0" r="1.1"/>
<circle cx="415.2" cy="227.9" r="1.1"/>
<circle cx="393.6" cy="229.9" r="1.1"/>
<circle cx="389.1" cy="241.2" r="1.1"/>
<circle cx="405.2" cy="233.8" r="1.1"/>
<circle cx="390.9" cy="247.7" r="1.1"/>
<circle cx="396.5" cy="244.3" r="1.1"/>
<circle cx="415.0" cy="225.2" r="1.1"/>
<circle cx="387.3" cy="250.6" r="1.1"/>
<circle cx="383.6" cy="248.6" r="1.1"/>
<circle cx="388.8" cy="242.9" r="1.1"/>
<circle cx="408.3" cy="222.2" r="1.1"/>
<circle cx="419.2" cy="220.4" r="1.1"/>
<circle cx="391.8" cy="244.7" r="1.1"/>
<circle cx="401.8" cy="226.7" r="1.1"/>
<circle cx="394.9" cy="247.5" r="1.1"/>
<circle cx="389.8" cy="241.3" r="1.1"/>
<circle cx="388.6" cy="243.0" r="1.1"/>
<circle cx="396.2" cy="235.2" r="1.1"/>
<circle cx="417.0" cy="230.5" r="1.1"/>
<circle cx="398.2" cy="237.2" r="1.1"/>
<circle cx="408.5" cy="240.3" r="1.1"/>
<circle cx="403.2" cy="236.9" r="1.1"/>
<circle cx="397.9" cy="229.5" r="1.1"/>
<circle cx="397.4" cy="231.7" r="1.1"/>
<circle cx="392.6" cy="238.9" r="1.1"/>
<circle cx="397.1" cy="227.0" r="1.1"/>
<circle cx="416.6" cy="220.9" r="1.1"/>
<circle cx="408.8" cy="229.7" r="1.1"/>
<circle cx="407.0" cy="236.9" r="1.1"/>
<circle cx="414.6" cy="235.7" r="1.1"/>
<circle cx="391.8" cy="239.5" r="1.1"/>
<circle cx="410.6" cy="231.5" r="1.1"/>
<circle cx="409.4" cy="231.9" r="1.1"/>
<circle cx="402.6" cy="239.0" r="1.1"/>
<circle cx="408.1" cy="229.6" r="1.1"/>
<circle cx="406.3" cy="236.7" r="1.1"/>
<circle cx="391.4" cy="239.0" r="1.1"/>
<circle cx="392.9" cy="248.5" r="1.1"/>
<circle cx="400.6" cy="242.5" r="1.1"/>
<circle cx="402.4" cy="234.6" r="1.1"/>
<circle cx="402.5" cy="236.2" r="1.1"/>
<circle cx="413.1" cy="227.0" r="1.1"/>
<circle cx="389.5" cy="245.7" r="1.1"/>
<circle cx="400.1" cy="239.9" r="1.1"/>
<circle cx="415.1" cy="220.7" r="1.1"/>
<circle cx="397.2" cy="246.0" r="1.1"/>
<circle cx="413.3" cy="223.2" r="1.1"/>
<circle cx="412.8" cy="236.0" r="1.1"/>
<circle cx="408.8" cy="233.7" r="1.1"/>
<circle cx="400.8" cy="244.9" r="1.1"/>
<circle cx="411.1" cy="224.1" r="1.1"/>
<circle cx="408.2" cy="231.1" r="1.1"/>
<circle cx="402.4" cy="226.9" r="1.1"/>
<circle cx="396.8" cy="230.2" r="1.1"/>
<circle cx="390.6" cy="237.6" r="1.1"/>
<circle cx="409.6" cy="228.1" r="1.1"/>
<circle cx="413.9" cy="222.2" r="1.1"/>
<circle cx="390.6" cy="232.9" r="1.1"/>
<circle cx="412.4" cy="239.1" r="1.1"/>
<circle cx="399.5" cy="231.1" r="1.1"/>
<circle cx="409.4" cy="228.8" r="1.1"/>
<circle cx="398.2" cy="240.1" r="1.1"/>
<circle cx="413.0" cy="230.6" r="1.1"/>
<circle cx="397.4" cy="237.9" r="1.1"/>
<circle cx="417.2" cy="225.4" r="1.1"/>
<circle cx="396.9" cy="240.7" r="1.1"/>
<circle cx="411.0" cy="231.5" r="1.1"/>
<circle cx="402.6" cy="235.2" r="1.1"/>
<circle cx="400.2" cy="234.1" r="1.1"/>
<circle cx="414.1" cy="232.6" r="1.1"/>
<circle cx="399.4" cy="235.1" r="1.1"/>
<circle cx="408.2" cy="237.1" r="1.1"/>
<circle cx="386.0" cy="245.5" r="1.1"/>
<circle cx="410.9" cy="237.4" r="1.1"/>
<circle cx="385.2" cy="241.2" r="1.1"/>
<circle cx="409.4" cy="234.8" r="1.1"/>
<circle cx="385.2" cy="241.5" r="1.1"/>
<circle cx="398.6" cy="238.0" r="1.1"/>
<circle cx="415.3" cy="224.0" r="1.1"/>
<circle cx="395.5" cy="235.9" r="1.1"/>
<circle cx="414.8" cy="237.1" r="1.1"/>
<circle cx="402.0" cy="232.8" r="1.1"/>
<circle cx="414.7" cy="227.6" r="1.1"/>
<circle cx="403.0" cy="231.3" r="1.1"/>
<circle cx="400.3" cy="235.0" r="1.1"/>
<circle cx="404.7" cy="231.0" r="1.1"/>
<circle cx="412.7" cy="225.7" r="1.1"/>
<circle cx="402.8" cy="232.4" r="1.1"/>
<circle cx="404.0" cy="229.7" r="1.1"/>
<circle cx="393.3" cy="244.8" r="1.1"/>
<circle cx="393.9" cy="242.1" r="1.1"/>
<circle cx="412.7" cy="238.3" r="1.1"/>
<circle cx="414.9" cy="221.6" r="1.1"/>
<circle cx="405.1" cy="225.1" r="1.1"/>
<circle cx="412.7" cy="235.3" r="1.1"/>
<circle cx="408.0" cy="241.0" r="1.1"/>
<circle cx="414.1" cy="224.0" r="1.1"/>
<circle cx="417.0" cy="225.9" r="1.1"/>
<circle cx="398.5" cy="240.4" r="1.1"/>
<circle cx="392.7" cy="248.4" r="1.1"/>
<circle cx="408.4" cy="224.3" r="1.1"/>
<circle cx="385.3" cy="241.6" r="1.1"/>
<circle cx="384.7" cy="246.1" r="1.1"/>
<circle cx="404.6" cy="229.5" r="1.1"/>
<circle cx="403.8" cy="224.2" r="1.1"/>
<circle cx="416.8" cy="229.7" r="1.1"/>
<circle cx="414.2" cy="224.2" r="1.1"/>
<circle cx="397.2" cy="239.9" r="1.1"/>
<circle cx="391.4" cy="236.8" r="1.1"/>
<circle cx="410.0" cy="233.1" r="1.1"/>
<circle cx="408.2" cy="223.0" r="1.1"/>
<circle cx="413.7" cy="223.2" r="1.1"/>
<circle cx="393.9" cy="230.5" r="1.1"/>
<circle cx="410.8" cy="235.2" r="1.1"/>
<circle cx="417.4" cy="222.3" r="1.1"/>
<circle cx="405.2" cy="236.7" r="1.1"/>
<circle cx="393.2" cy="248.0" r="1.1"/>
<circle cx="414.3" cy="226.6" r="1.1"/>
<circle cx="417.2" cy="220.3" r="1.1"/>
<circle cx="395.5" cy="233.7" r="1.1"/>
<circle cx="392.3" cy="243.1" r="1.1"/>
<circle cx="389.8" cy="244.6" r="1.1"/>
<circle cx="405.1" cy="234.1" r="1.1"/>
<circle cx="386.8" cy="240.1" r="1.1"/>
<circle cx="388.1" cy="237.8" r="1.1"/>
<circle cx="396.2" cy="231.3" r="1.1"/>
<circle cx="407.6" cy="224.6" r="1.1"/>
<circle cx="389.4" cy="249.5" r="1.1"/>
<circle cx="395.4" cy="246.3" r="1.1"/>
<circle cx="415.3" cy="234.7" r="1.1"/>
<circle cx="415.6" cy="223.1" r="1.1"/>
<circle cx="401.5" cy="236.5" r="1.1"/>
<circle cx="389.2" cy="236.5" r="1.1"/>
<circle cx="401.9" cy="231.1" r="1.1"/>
<circle cx="392.0" cy="247.3" r="1.1"/>
<circle cx="401.2" cy="244.7" r="1.1"/>
<circle cx="404.2" cy="241.4" r="1.1"/>
<circle cx="391.6" cy="243.4" r="1.1"/>
<circle cx="402.3" cy="228.7" r="1.1"/>
<circle cx="416.0" cy="222.0" r="1.1"/>
<circle cx="404.5" cy="226.8" r="1.1"/>
<circle cx="409.4" cy="221.3" r="1.1"/>
<circle cx="392.2" cy="238.5" r="1.1"/>
<circle cx="419.4" cy="220.6" r="1.1"/>
<circle cx="405.9" cy="241.5" r="1.1"/>
<circle cx="413.2" cy="230.3" r="1.1"/>
<circle cx="413.0" cy="234.1" r="1.1"/>
<circle cx="417.1" cy="219.7" r="1.1"/>
<circle cx="417.8" cy="232.5" r="1.1"/>
<circle cx="392.2" cy="242.8" r="1.1"/>
<circle cx="408.2" cy="224.2" r="1.1"/>
<circle cx="400.9" cy="235.3" r="1.1"/>
<circle cx="410.9" cy="239.7" r="1.1"/>
<circle cx="390.5" cy="239.4" r="1.1"/>
<circle cx="386.6" cy="242.3" r="1.1"/>
<circle cx="410.6" cy="223.6" r="1.1"/>
<circle cx="404.9" cy="233.3" r="1.1"/>
<circle cx="415.2" cy="228.9" r="1.1"/>
<circle cx="418.0" cy="223.0" r="1.1"/>
<circle cx="392.5" cy="246.2" r="1.1"/>
<circle cx="400.1" cy="226.9" r="1.1"/>
<circle cx="397.6" cy="244.5" r="1.1"/>
<circle cx="395.7" cy="238.4" r="1.1"/>
<circle cx="413.1" cy="232.7" r="1.1"/>
<circle cx="405.5" cy="234.0" r="1.1"/>
<circle cx="396.2" cy="246.4" r="1.1"/>
<circle cx="406.0" cy="228.7" r="1.1"/>
<circle cx="409.0" cy="233.5" r="1.1"/>
<circle cx="387.6" cy="241.2" r="1.1"/>
<circle cx="384.7" cy="245.7" r="1.1"/>
<circle cx="418.4" cy="230.9" r="1.1"/>
<circle cx="391.4" cy="247.9" r="1.1"/>
<circle cx="397.7" cy="235.3" r="1.1"/>
<circle cx="419.6" cy="225.4" r="1.1"/>
<circle cx="413.8" cy="224.5" r="1.1"/>
<circle cx="389.6" cy="249.6" r="1.1"/>
<circle cx="399.9" cy="245.3" r="1.1"/>
<circle cx="392.4" cy="230.6" r="1.1"/>
<circle cx="386.9" cy="237.0" r="1.1"/>
<circle cx="414.9" cy="235.8" r="1.1"/>
<circle cx="386.0" cy="239.3" r="1.1"/>
<circle cx="396.5" cy="240.5" r="1.1"/>
<circle cx="406.4" cy="231.4" r="1.1"/>
<circle cx="402.4" cy="241.0" r="1.1"/>
<circle cx="416.6" cy="235.3" r="1.1"/>
<circle cx="385.3" cy="246.1" r="1.1"/>
<circle cx="408.4" cy="237.2" r="1.1"/>
<circle cx="399.7" cy="243.4" r="1.1"/>
<circle cx="410.8" cy="220.4" r="1.1"/>
<circle cx="388.5" cy="238.2" r="1.1"/>
<circle cx="397.6" cy="243.3" r="1.1"/>
<circle cx="406.8" cy="228.3" r="1.1"/>
<circle cx="411.3" cy="228.7" r="1.1"/>
<circle cx="403.2" cy="232.8" r="1.1"/>
<circle cx="412.4" cy="230.4" r="1.1"/>
<circle cx="388.4" cy="235.9" r="1.1"/>
<circle cx="415.5" cy="224.5" r="1.1"/>
<circle cx="410.4" cy="224.8" r="1.1"/>
<circle cx="394.1" cy="231.6" r="1.1"/>
<circle cx="417.9" cy="225.6" r="1.1"/>
<circle cx="395.0" cy="233.4" r="1.1"/>
<circle cx="397.7" cy="231.7" r="1.1"/>
<circle cx="418.7" cy="227.9" r="1.1"/>
<circle cx="390.7" cy="248.5" r="1.1"/>
<circle cx="411.1" cy="234.4" r="1.1"/>
<circle cx="403.8" cy="240.8" r="1.1"/>
<circle cx="410.9" cy="228.1" r="1.1"/>
<circle cx="402.7" cy="228.6" r="1.1"/>
<circle cx="406.4" cy="227.6" r="1.1"/>
<circle cx="411.6" cy="220.6" r="1.1"/>
<circle cx="413.6" cy="237.5" r="1.1"/>
<circle cx="398.4" cy="245.2" r="1.1"/>
<circle cx="406.5" cy="241.5" r="1.1"/>
<circle cx="411.7" cy="232.0" r="1.1"/>
<circle cx="395.8" cy="231.9" r="1.1"/>
<circle cx="383.0" cy="248.4" r="1.1"/>
<circle cx="357.6" cy="273.0" r="1.1"/>
<circle cx="371.8" cy="256.5" r="1.1"/>
<circle cx="377.4" cy="259.2" r="1.1"/>
<circle cx="366.6" cy="259.0" r="1.1"/>
<circle cx="361.2" cy="271.7" r="1.1"/>
<circle cx="356.2" cy="263.6" r="1.1"/>
<circle cx="380.9" cy="255.5" r="1.1"/>
<circle cx="355.4" cy="265.1" r="1.1"/>
<circle cx="378.9" cy="260.8" r="1.1"/>
<circle cx="382.9" cy="248.9" r="1.1"/>
<circle cx="378.7" cy="235.4" r="1.1"/>
<circle cx="384.4" cy="247.3" r="1.1"/>
<circle cx="375.8" cy="248.0" r="1.1"/>
<circle cx="363.6" cy="258.7" r="1.1"/>
<circle cx="358.9" cy="269.3" r="1.1"/>
<circle cx="358.6" cy="271.4" r="1.1"/>
<circle cx="383.2" cy="257.2" r="1.1"/>
<circle cx="374.0" cy="250.8" r="1.1"/>
<circle cx="371.0" cy="259.7" r="1.1"/>
<circle cx="359.3" cy="272.8" r="1.1"/>
<circle cx="389.4" cy="247.5" r="1.1"/>
<circle cx="368.6" cy="264.1" r="1.1"/>
<circle cx="379.0" cy="253.4" r="1.1"/>
<circle cx="366.5" cy="245.3" r="1.1"/>
<circle cx="358.0" cy="266.6" r="1.1"/>
<circle cx="371.2" cy="252.6" r="1.1"/>
<circle cx="358.1" cy="265.1" r="1.1"/>
<circle cx="373.0" cy="265.0" r="1.1"/>
<circle cx="379.6" cy="261.6" r="1.1"/>
<circle cx="356.7" cy="261.7" r="1.1"/>
<circle cx="390.6" cy="246.4" r="1.1"/>
<circle cx="383.0" cy="253.4" r="1.1"/>
<circle cx="356.3" cy="268.5" r="1.1"/>
<circle cx="373.1" cy="255.9" r="1.1"/>
<circle cx="380.0" cy="250.1" r="1.1"/>
<circle cx="358.8" cy="259.5" r="1.1"/>
<circle cx="386.4" cy="257.1" r="1.1"/>
<circle cx="369.9" cy="262.1" r="1.1"/>
<circle cx="387.1" cy="250.0" r="1.1"/>
<circle cx="354.3" cy="259.8" r="1.1"/>
<circle cx="368.7" cy="259.5" r="1.1"/>
<circle cx="376.1" cy="265.2" r="1.1"/>
<circle cx="379.7" cy="234.5" r="1.1"/>
<circle cx="369.3" cy="250.8" r="1.1"/>
<circle cx="385.5" cy="252.4" r="1.1"/>
<circle cx="376.8" cy="250.9" r="1.1"/>
<circle cx="385.8" cy="246.8" r="1.1"/>
<circle cx="374.8" cy="256.9" r="1.1"/>
<circle cx="376.6" cy="245.0" r="1.1"/>
<circle cx="384.7" cy="253.1" r="1.1"/>
<circle cx="376.8" cy="257.4" r="1.1"/>
<circle cx="376.4" cy="251.4" r="1.1"/>
<circle cx="387.1" cy="238.4" r="1.1"/>
<circle cx="375.7" cy="254.6" r="1.1"/>
<circle cx="375.3" cy="247.8" r="1.1"/>
<circle cx="374.1" cy="254.1" r="1.1"/>
<circle cx="383.1" cy="254.9" r="1.1"/>
<circle cx="382.1" cy="250.3" r="1.1"/>
<circle cx="383.9" cy="254.4" r="1.1"/>
<circle cx="382.9" cy="242.7" r="1.1"/>
<circle cx="385.0" cy="240.8" r="1.1"/>
<circle cx="379.4" cy="243.0" r="1.1"/>
<circle cx="387.2" cy="239.4" r="1.1"/>
<circle cx="385.9" cy="249.8" r="1.1"/>
<circle cx="382.4" cy="246.5" r="1.1"/>
<circle cx="380.1" cy="250.1" r="1.1"/>
<circle cx="386.3" cy="236.7" r="1.1"/>
<circle cx="380.6" cy="256.2" r="1.1"/>
<circle cx="375.6" cy="257.7" r="1.1"/>
<circle cx="380.8" cy="252.2" r="1.1"/>
<circle cx="379.0" cy="243.5" r="1.1"/>
<circle cx="387.1" cy="242.3" r="1.1"/>
<circle cx="377.0" cy="245.5" r="1.1"/>
<circle cx="378.6" cy="253.7" r="1.1"/>
<circle cx="387.9" cy="248.2" r="1.1"/>
<circle cx="374.1" cy="255.0" r="1.1"/>
<circle cx="378.3" cy="250.4" r="1.1"/>
<circle cx="379.3" cy="248.4" r="1.1"/>
<circle cx="382.6" cy="250.9" r="1.1"/>
</g>
<rect x="263.3" y="190.7" width="190.20" height="151.90" fill="none" stroke="#a8a8a8" stroke-width="1.15"/>
<line x1="263.3" y1="342.6" x2="453.5" y2="190.7" stroke="#5a5a5a" stroke-width="0.8" stroke-dasharray="1.9 1.4"/>
<text class="t" x="261.90" y="336.21" font-size="4.6" text-anchor="end" font-weight="bold" textLength="9.35" lengthAdjust="spacingAndGlyphs" fill="#111">-5.00</text>
<text class="t" x="261.90" y="319.22" font-size="4.6" text-anchor="end" font-weight="bold" textLength="5.70" lengthAdjust="spacingAndGlyphs" fill="#111">.00</text>
<text class="t" x="261.90" y="302.23" font-size="4.6" text-anchor="end" font-weight="bold" textLength="8.05" lengthAdjust="spacingAndGlyphs" fill="#111">5.00</text>
<text class="t" x="261.90" y="285.24" font-size="4.6" text-anchor="end" font-weight="bold" textLength="10.40" lengthAdjust="spacingAndGlyphs" fill="#111">10.00</text>
<text class="t" x="261.90" y="268.25" font-size="4.6" text-anchor="end" font-weight="bold" textLength="10.40" lengthAdjust="spacingAndGlyphs" fill="#111">15.00</text>
<text class="t" x="261.90" y="251.26" font-size="4.6" text-anchor="end" font-weight="bold" textLength="10.40" lengthAdjust="spacingAndGlyphs" fill="#111">20.00</text>
<text class="t" x="261.90" y="234.27" font-size="4.6" text-anchor="end" font-weight="bold" textLength="10.40" lengthAdjust="spacingAndGlyphs" fill="#111">25.00</text>
<text class="t" x="261.90" y="217.28" font-size="4.6" text-anchor="end" font-weight="bold" textLength="10.40" lengthAdjust="spacingAndGlyphs" fill="#111">30.00</text>
<text class="t" x="261.90" y="200.29" font-size="4.6" text-anchor="end" font-weight="bold" textLength="10.40" lengthAdjust="spacingAndGlyphs" fill="#111">35.00</text>
<text class="t" x="273.30" y="348.50" font-size="4.6" text-anchor="middle" font-weight="bold" textLength="9.35" lengthAdjust="spacingAndGlyphs" fill="#111">-5.00</text>
<text class="t" x="294.57" y="348.50" font-size="4.6" text-anchor="middle" font-weight="bold" textLength="5.70" lengthAdjust="spacingAndGlyphs" fill="#111">.00</text>
<text class="t" x="315.85" y="348.50" font-size="4.6" text-anchor="middle" font-weight="bold" textLength="8.05" lengthAdjust="spacingAndGlyphs" fill="#111">5.00</text>
<text class="t" x="337.12" y="348.50" font-size="4.6" text-anchor="middle" font-weight="bold" textLength="10.40" lengthAdjust="spacingAndGlyphs" fill="#111">10.00</text>
<text class="t" x="358.40" y="348.50" font-size="4.6" text-anchor="middle" font-weight="bold" textLength="10.40" lengthAdjust="spacingAndGlyphs" fill="#111">15.00</text>
<text class="t" x="379.68" y="348.50" font-size="4.6" text-anchor="middle" font-weight="bold" textLength="10.40" lengthAdjust="spacingAndGlyphs" fill="#111">20.00</text>
<text class="t" x="400.95" y="348.50" font-size="4.6" text-anchor="middle" font-weight="bold" textLength="10.40" lengthAdjust="spacingAndGlyphs" fill="#111">25.00</text>
<text class="t" x="422.23" y="348.50" font-size="4.6" text-anchor="middle" font-weight="bold" textLength="10.40" lengthAdjust="spacingAndGlyphs" fill="#111">30.00</text>
<text class="t" x="443.50" y="348.50" font-size="4.6" text-anchor="middle" font-weight="bold" textLength="10.40" lengthAdjust="spacingAndGlyphs" fill="#111">35.00</text>
<text class="h" x="268.8" y="206.6" font-size="8.3" font-weight="bold" textLength="122" lengthAdjust="spacingAndGlyphs">PCC=0.920<tspan font-size="9" dy="0.8">**</tspan><tspan dy="-0.8">, R</tspan><tspan font-size="5" dy="-3.2">2</tspan><tspan dy="3.2">=0.839, MAE=1.666</tspan></text>
<text x="233.70" y="205.00" font-size="15.5" text-anchor="start" font-weight="bold">e</text>
<text x="244.90" y="266.65" font-size="6.2" text-anchor="middle" font-weight="bold" textLength="31.50" lengthAdjust="spacingAndGlyphs" transform="rotate(-90 244.90 266.65)">Predicted VF</text>
<g fill="#4585e6">
<circle cx="94.6" cy="382.1" r="1.1"/>
<circle cx="61.6" cy="400.8" r="1.1"/>
<circle cx="60.5" cy="402.5" r="1.1"/>
<circle cx="56.3" cy="409.4" r="1.1"/>
<circle cx="62.5" cy="408.6" r="1.1"/>
<circle cx="69.2" cy="407.1" r="1.1"/>
<circle cx="69.2" cy="414.4" r="1.1"/>
<circle cx="88.8" cy="413.9" r="1.1"/>
<circle cx="91.1" cy="413.1" r="1.1"/>
<circle cx="106.5" cy="409.2" r="1.1"/>
<circle cx="112.4" cy="402.8" r="1.1"/>
<circle cx="119.7" cy="413.1" r="1.1"/>
<circle cx="72.7" cy="420.9" r="1.1"/>
<circle cx="66.0" cy="424.4" r="1.1"/>
<circle cx="69.9" cy="425.6" r="1.1"/>
<circle cx="82.6" cy="420.3" r="1.1"/>
<circle cx="84.9" cy="422.6" r="1.1"/>
<circle cx="90.2" cy="420.1" r="1.1"/>
<circle cx="80.0" cy="428.2" r="1.1"/>
<circle cx="84.4" cy="429.1" r="1.1"/>
<circle cx="100.5" cy="426.9" r="1.1"/>
<circle cx="100.5" cy="428.8" r="1.1"/>
<circle cx="111.0" cy="430.0" r="1.1"/>
<circle cx="113.3" cy="434.3" r="1.1"/>
<circle cx="114.8" cy="434.3" r="1.1"/>
<circle cx="117.1" cy="431.6" r="1.1"/>
<circle cx="124.2" cy="431.0" r="1.1"/>
<circle cx="60.2" cy="436.4" r="1.1"/>
<circle cx="60.2" cy="437.6" r="1.1"/>
<circle cx="74.2" cy="436.1" r="1.1"/>
<circle cx="81.5" cy="435.8" r="1.1"/>
<circle cx="85.9" cy="434.7" r="1.1"/>
<circle cx="85.6" cy="439.6" r="1.1"/>
<circle cx="89.0" cy="439.2" r="1.1"/>
<circle cx="92.0" cy="439.6" r="1.1"/>
<circle cx="96.0" cy="437.0" r="1.1"/>
<circle cx="97.9" cy="439.2" r="1.1"/>
<circle cx="112.5" cy="438.7" r="1.1"/>
<circle cx="116.2" cy="441.3" r="1.1"/>
<circle cx="120.9" cy="441.3" r="1.1"/>
<circle cx="124.4" cy="443.6" r="1.1"/>
<circle cx="95.0" cy="446.0" r="1.1"/>
<circle cx="86.1" cy="447.4" r="1.1"/>
<circle cx="97.2" cy="457.0" r="1.1"/>
<circle cx="101.1" cy="454.6" r="1.1"/>
<circle cx="103.0" cy="455.9" r="1.1"/>
<circle cx="110.0" cy="456.4" r="1.1"/>
<circle cx="98.7" cy="459.9" r="1.1"/>
<circle cx="103.0" cy="460.4" r="1.1"/>
<circle cx="105.7" cy="462.3" r="1.1"/>
<circle cx="110.8" cy="460.2" r="1.1"/>
<circle cx="109.6" cy="464.3" r="1.1"/>
<circle cx="89.4" cy="466.4" r="1.1"/>
<circle cx="97.9" cy="466.4" r="1.1"/>
<circle cx="100.5" cy="467.5" r="1.1"/>
<circle cx="103.0" cy="469.9" r="1.1"/>
<circle cx="104.2" cy="470.5" r="1.1"/>
<circle cx="124.4" cy="469.9" r="1.1"/>
<circle cx="138.7" cy="389.6" r="1.1"/>
<circle cx="128.2" cy="404.5" r="1.1"/>
<circle cx="135.2" cy="409.0" r="1.1"/>
<circle cx="159.1" cy="414.7" r="1.1"/>
<circle cx="134.0" cy="416.0" r="1.1"/>
<circle cx="126.1" cy="417.6" r="1.1"/>
<circle cx="146.6" cy="421.2" r="1.1"/>
<circle cx="154.1" cy="420.6" r="1.1"/>
<circle cx="153.9" cy="425.9" r="1.1"/>
<circle cx="154.7" cy="427.6" r="1.1"/>
<circle cx="134.9" cy="429.6" r="1.1"/>
<circle cx="141.6" cy="430.6" r="1.1"/>
<circle cx="144.9" cy="428.8" r="1.1"/>
<circle cx="131.1" cy="435.1" r="1.1"/>
<circle cx="125.8" cy="436.9" r="1.1"/>
<circle cx="137.8" cy="434.9" r="1.1"/>
<circle cx="137.3" cy="436.9" r="1.1"/>
<circle cx="157.1" cy="432.8" r="1.1"/>
<circle cx="170.4" cy="429.4" r="1.1"/>
<circle cx="165.6" cy="431.4" r="1.1"/>
<circle cx="165.0" cy="433.1" r="1.1"/>
<circle cx="125.3" cy="443.9" r="1.1"/>
<circle cx="128.2" cy="443.6" r="1.1"/>
<circle cx="149.2" cy="437.5" r="1.1"/>
<circle cx="152.1" cy="439.0" r="1.1"/>
<circle cx="154.8" cy="437.0" r="1.1"/>
<circle cx="148.6" cy="444.8" r="1.1"/>
<circle cx="150.1" cy="443.1" r="1.1"/>
<circle cx="180.2" cy="434.7" r="1.1"/>
<circle cx="171.4" cy="434.3" r="1.1"/>
<circle cx="172.6" cy="437.2" r="1.1"/>
<circle cx="138.4" cy="452.3" r="1.1"/>
<circle cx="143.7" cy="453.2" r="1.1"/>
<circle cx="148.6" cy="451.7" r="1.1"/>
<circle cx="148.0" cy="453.8" r="1.1"/>
<circle cx="150.6" cy="455.8" r="1.1"/>
<circle cx="129.1" cy="455.8" r="1.1"/>
<circle cx="140.4" cy="456.7" r="1.1"/>
<circle cx="140.4" cy="460.2" r="1.1"/>
<circle cx="146.6" cy="458.3" r="1.1"/>
<circle cx="149.8" cy="461.8" r="1.1"/>
<circle cx="150.9" cy="465.7" r="1.1"/>
<circle cx="154.1" cy="461.0" r="1.1"/>
<circle cx="157.1" cy="460.8" r="1.1"/>
<circle cx="158.0" cy="455.2" r="1.1"/>
<circle cx="160.3" cy="458.1" r="1.1"/>
<circle cx="161.1" cy="453.4" r="1.1"/>
<circle cx="164.4" cy="456.4" r="1.1"/>
<circle cx="167.3" cy="462.2" r="1.1"/>
<circle cx="166.7" cy="459.6" r="1.1"/>
<circle cx="167.3" cy="467.1" r="1.1"/>
<circle cx="167.3" cy="468.6" r="1.1"/>
<circle cx="165.3" cy="471.8" r="1.1"/>
<circle cx="127.2" cy="463.7" r="1.1"/>
<circle cx="135.8" cy="467.1" r="1.1"/>
<circle cx="125.6" cy="469.8" r="1.1"/>
<circle cx="129.1" cy="472.1" r="1.1"/>
<circle cx="144.5" cy="474.2" r="1.1"/>
<circle cx="146.5" cy="477.4" r="1.1"/>
<circle cx="152.1" cy="473.1" r="1.1"/>
<circle cx="162.6" cy="476.8" r="1.1"/>
<circle cx="163.8" cy="478.5" r="1.1"/>
<circle cx="134.0" cy="482.3" r="1.1"/>
<circle cx="151.5" cy="486.7" r="1.1"/>
<circle cx="133.4" cy="503.9" r="1.1"/>
<circle cx="144.8" cy="504.2" r="1.1"/>
<circle cx="170.4" cy="458.1" r="1.1"/>
<circle cx="173.1" cy="461.6" r="1.1"/>
<circle cx="174.0" cy="465.1" r="1.1"/>
<circle cx="176.4" cy="469.2" r="1.1"/>
<circle cx="180.7" cy="468.4" r="1.1"/>
<circle cx="184.8" cy="468.9" r="1.1"/>
<circle cx="190.1" cy="466.9" r="1.1"/>
<circle cx="196.8" cy="466.9" r="1.1"/>
<circle cx="192.4" cy="463.4" r="1.1"/>
<circle cx="196.5" cy="459.9" r="1.1"/>
<circle cx="178.4" cy="466.3" r="1.1"/>
<circle cx="183.1" cy="463.9" r="1.1"/>
<circle cx="154.0" cy="446.8" r="1.1"/>
<circle cx="158.6" cy="460.1" r="1.1"/>
<circle cx="167.8" cy="432.8" r="1.1"/>
<circle cx="184.1" cy="453.8" r="1.1"/>
<circle cx="172.7" cy="466.9" r="1.1"/>
<circle cx="186.1" cy="451.5" r="1.1"/>
<circle cx="171.2" cy="428.8" r="1.1"/>
<circle cx="183.0" cy="458.2" r="1.1"/>
<circle cx="171.8" cy="440.4" r="1.1"/>
<circle cx="177.6" cy="438.5" r="1.1"/>
<circle cx="178.1" cy="456.8" r="1.1"/>
<circle cx="193.8" cy="453.0" r="1.1"/>
<circle cx="180.1" cy="456.6" r="1.1"/>
<circle cx="192.7" cy="448.6" r="1.1"/>
<circle cx="165.1" cy="445.1" r="1.1"/>
<circle cx="164.8" cy="444.3" r="1.1"/>
<circle cx="176.7" cy="453.6" r="1.1"/>
<circle cx="179.6" cy="451.5" r="1.1"/>
<circle cx="174.2" cy="454.2" r="1.1"/>
<circle cx="187.3" cy="456.7" r="1.1"/>
<circle cx="193.7" cy="448.8" r="1.1"/>
<circle cx="175.4" cy="463.7" r="1.1"/>
<circle cx="180.1" cy="454.1" r="1.1"/>
<circle cx="174.5" cy="458.3" r="1.1"/>
<circle cx="173.8" cy="443.4" r="1.1"/>
<circle cx="177.4" cy="447.7" r="1.1"/>
<circle cx="186.8" cy="448.2" r="1.1"/>
<circle cx="179.3" cy="449.4" r="1.1"/>
<circle cx="181.6" cy="446.3" r="1.1"/>
<circle cx="189.6" cy="440.3" r="1.1"/>
<circle cx="173.9" cy="445.7" r="1.1"/>
<circle cx="184.8" cy="451.3" r="1.1"/>
<circle cx="183.1" cy="448.5" r="1.1"/>
<circle cx="170.5" cy="442.6" r="1.1"/>
<circle cx="174.5" cy="447.0" r="1.1"/>
<circle cx="180.9" cy="453.7" r="1.1"/>
<circle cx="188.3" cy="450.2" r="1.1"/>
<circle cx="170.1" cy="443.0" r="1.1"/>
<circle cx="178.6" cy="453.7" r="1.1"/>
<circle cx="198.5" cy="452.4" r="1.1"/>
<circle cx="196.4" cy="465.1" r="1.1"/>
<circle cx="167.0" cy="460.1" r="1.1"/>
<circle cx="189.9" cy="461.1" r="1.1"/>
<circle cx="177.9" cy="458.2" r="1.1"/>
<circle cx="172.9" cy="450.5" r="1.1"/>
<circle cx="178.2" cy="464.4" r="1.1"/>
<circle cx="175.7" cy="458.2" r="1.1"/>
<circle cx="178.7" cy="445.7" r="1.1"/>
<circle cx="180.6" cy="455.9" r="1.1"/>
<circle cx="170.5" cy="455.8" r="1.1"/>
<circle cx="170.5" cy="444.4" r="1.1"/>
<circle cx="180.3" cy="449.2" r="1.1"/>
<circle cx="167.7" cy="438.8" r="1.1"/>
<circle cx="178.2" cy="452.8" r="1.1"/>
<circle cx="173.2" cy="452.4" r="1.1"/>
<circle cx="162.0" cy="453.9" r="1.1"/>
<circle cx="182.4" cy="453.1" r="1.1"/>
<circle cx="171.6" cy="451.6" r="1.1"/>
<circle cx="179.4" cy="459.0" r="1.1"/>
<circle cx="180.9" cy="452.9" r="1.1"/>
<circle cx="170.4" cy="457.5" r="1.1"/>
<circle cx="190.3" cy="447.3" r="1.1"/>
<circle cx="184.7" cy="453.3" r="1.1"/>
<circle cx="177.5" cy="441.4" r="1.1"/>
<circle cx="196.4" cy="437.0" r="1.1"/>
<circle cx="181.2" cy="448.2" r="1.1"/>
<circle cx="190.0" cy="447.8" r="1.1"/>
<circle cx="178.4" cy="455.6" r="1.1"/>
<circle cx="182.8" cy="447.1" r="1.1"/>
<circle cx="185.2" cy="453.9" r="1.1"/>
<circle cx="188.4" cy="447.2" r="1.1"/>
<circle cx="177.5" cy="448.1" r="1.1"/>
<circle cx="169.2" cy="452.9" r="1.1"/>
<circle cx="182.3" cy="461.6" r="1.1"/>
<circle cx="174.6" cy="453.9" r="1.1"/>
<circle cx="190.0" cy="450.1" r="1.1"/>
<circle cx="178.7" cy="452.0" r="1.1"/>
<circle cx="170.8" cy="443.6" r="1.1"/>
<circle cx="189.7" cy="452.3" r="1.1"/>
<circle cx="177.2" cy="441.7" r="1.1"/>
<circle cx="179.2" cy="459.8" r="1.1"/>
<circle cx="166.0" cy="444.3" r="1.1"/>
<circle cx="189.6" cy="461.7" r="1.1"/>
<circle cx="194.2" cy="446.9" r="1.1"/>
<circle cx="184.3" cy="445.4" r="1.1"/>
<circle cx="183.4" cy="448.3" r="1.1"/>
<circle cx="180.1" cy="461.0" r="1.1"/>
<circle cx="181.5" cy="449.2" r="1.1"/>
<circle cx="178.6" cy="453.0" r="1.1"/>
<circle cx="172.6" cy="452.5" r="1.1"/>
<circle cx="184.3" cy="462.6" r="1.1"/>
<circle cx="156.5" cy="442.1" r="1.1"/>
<circle cx="165.1" cy="457.5" r="1.1"/>
<circle cx="179.3" cy="459.5" r="1.1"/>
<circle cx="152.5" cy="449.7" r="1.1"/>
<circle cx="145.5" cy="452.1" r="1.1"/>
<circle cx="172.7" cy="447.4" r="1.1"/>
<circle cx="181.6" cy="446.6" r="1.1"/>
<circle cx="189.6" cy="451.0" r="1.1"/>
<circle cx="182.0" cy="469.9" r="1.1"/>
<circle cx="173.3" cy="457.9" r="1.1"/>
<circle cx="169.4" cy="460.3" r="1.1"/>
<circle cx="188.1" cy="452.0" r="1.1"/>
<circle cx="188.3" cy="463.0" r="1.1"/>
<circle cx="192.4" cy="451.0" r="1.1"/>
<circle cx="177.4" cy="459.2" r="1.1"/>
<circle cx="162.7" cy="446.5" r="1.1"/>
<circle cx="183.1" cy="455.2" r="1.1"/>
<circle cx="197.4" cy="464.1" r="1.1"/>
<circle cx="181.4" cy="454.3" r="1.1"/>
<circle cx="164.3" cy="449.6" r="1.1"/>
<circle cx="180.7" cy="449.3" r="1.1"/>
<circle cx="178.6" cy="455.5" r="1.1"/>
<circle cx="168.1" cy="446.8" r="1.1"/>
<circle cx="159.5" cy="459.5" r="1.1"/>
<circle cx="167.0" cy="438.4" r="1.1"/>
<circle cx="186.0" cy="449.4" r="1.1"/>
<circle cx="188.0" cy="448.3" r="1.1"/>
<circle cx="200.1" cy="456.3" r="1.1"/>
<circle cx="179.6" cy="451.9" r="1.1"/>
<circle cx="175.9" cy="457.0" r="1.1"/>
<circle cx="198.8" cy="447.9" r="1.1"/>
<circle cx="166.7" cy="455.4" r="1.1"/>
<circle cx="189.1" cy="439.9" r="1.1"/>
<circle cx="170.8" cy="443.6" r="1.1"/>
<circle cx="183.8" cy="454.8" r="1.1"/>
<circle cx="170.4" cy="442.6" r="1.1"/>
<circle cx="185.1" cy="435.8" r="1.1"/>
<circle cx="184.7" cy="449.9" r="1.1"/>
<circle cx="197.9" cy="458.4" r="1.1"/>
<circle cx="172.0" cy="449.0" r="1.1"/>
<circle cx="175.1" cy="445.6" r="1.1"/>
<circle cx="178.8" cy="458.1" r="1.1"/>
<circle cx="162.4" cy="449.3" r="1.1"/>
<circle cx="193.5" cy="456.5" r="1.1"/>
<circle cx="169.6" cy="445.0" r="1.1"/>
<circle cx="169.2" cy="439.1" r="1.1"/>
<circle cx="189.9" cy="451.5" r="1.1"/>
<circle cx="170.8" cy="440.4" r="1.1"/>
<circle cx="174.0" cy="447.2" r="1.1"/>
<circle cx="195.8" cy="447.6" r="1.1"/>
<circle cx="179.2" cy="458.9" r="1.1"/>
<circle cx="184.9" cy="449.7" r="1.1"/>
<circle cx="155.4" cy="461.4" r="1.1"/>
<circle cx="184.2" cy="447.8" r="1.1"/>
<circle cx="177.1" cy="443.9" r="1.1"/>
<circle cx="168.7" cy="440.1" r="1.1"/>
<circle cx="183.2" cy="454.8" r="1.1"/>
<circle cx="179.8" cy="456.8" r="1.1"/>
<circle cx="183.5" cy="451.9" r="1.1"/>
<circle cx="168.9" cy="455.4" r="1.1"/>
<circle cx="190.2" cy="455.6" r="1.1"/>
<circle cx="190.9" cy="447.5" r="1.1"/>
<circle cx="167.9" cy="460.2" r="1.1"/>
<circle cx="172.0" cy="452.8" r="1.1"/>
<circle cx="176.0" cy="451.2" r="1.1"/>
<circle cx="175.2" cy="447.0" r="1.1"/>
<circle cx="159.6" cy="465.0" r="1.1"/>
<circle cx="180.1" cy="436.8" r="1.1"/>
<circle cx="168.7" cy="442.7" r="1.1"/>
<circle cx="170.3" cy="432.2" r="1.1"/>
<circle cx="183.9" cy="463.1" r="1.1"/>
<circle cx="175.5" cy="456.5" r="1.1"/>
<circle cx="184.2" cy="441.8" r="1.1"/>
<circle cx="190.6" cy="438.6" r="1.1"/>
</g>
<rect x="28.5" y="371.4" width="190.70" height="152.80" fill="none" stroke="#a8a8a8" stroke-width="1.15"/>
<line x1="28.5" y1="447.80" x2="219.2" y2="447.80" stroke="#888888" stroke-width="1.1" opacity="0.9"/>
<line x1="28.5" y1="447.65" x2="219.2" y2="447.65" stroke="#c06080" stroke-width="1.1" opacity="0.5"/>
<line x1="28.5" y1="415.47" x2="219.2" y2="415.47" stroke="#6a6a6a" stroke-width="0.75" stroke-dasharray="2.2 0.8 1.2 0.8"/>
<line x1="28.5" y1="479.83" x2="219.2" y2="479.83" stroke="#6a6a6a" stroke-width="0.75" stroke-dasharray="2.2 0.8 1.2 0.8"/>
<text class="t" x="27.10" y="518.84" font-size="4.6" text-anchor="end" font-weight="bold" textLength="11.70" lengthAdjust="spacingAndGlyphs" fill="#111">-15.00</text>
<text class="t" x="27.10" y="495.82" font-size="4.6" text-anchor="end" font-weight="bold" textLength="11.70" lengthAdjust="spacingAndGlyphs" fill="#111">-10.00</text>
<text class="t" x="27.10" y="472.81" font-size="4.6" text-anchor="end" font-weight="bold" textLength="9.35" lengthAdjust="spacingAndGlyphs" fill="#111">-5.00</text>
<text class="t" x="27.10" y="449.80" font-size="4.6" text-anchor="end" font-weight="bold" textLength="5.70" lengthAdjust="spacingAndGlyphs" fill="#111">.00</text>
<text class="t" x="27.10" y="426.79" font-size="4.6" text-anchor="end" font-weight="bold" textLength="8.05" lengthAdjust="spacingAndGlyphs" fill="#111">5.00</text>
<text class="t" x="27.10" y="403.78" font-size="4.6" text-anchor="end" font-weight="bold" textLength="10.40" lengthAdjust="spacingAndGlyphs" fill="#111">10.00</text>
<text class="t" x="27.10" y="380.76" font-size="4.6" text-anchor="end" font-weight="bold" textLength="10.40" lengthAdjust="spacingAndGlyphs" fill="#111">15.00</text>
<text class="t" x="37.69" y="530.10" font-size="4.6" text-anchor="middle" font-weight="bold" textLength="5.70" lengthAdjust="spacingAndGlyphs" fill="#111">.00</text>
<text class="t" x="95.13" y="530.10" font-size="4.6" text-anchor="middle" font-weight="bold" textLength="10.40" lengthAdjust="spacingAndGlyphs" fill="#111">10.00</text>
<text class="t" x="152.57" y="530.10" font-size="4.6" text-anchor="middle" font-weight="bold" textLength="10.40" lengthAdjust="spacingAndGlyphs" fill="#111">20.00</text>
<text class="t" x="210.01" y="530.10" font-size="4.6" text-anchor="middle" font-weight="bold" textLength="10.40" lengthAdjust="spacingAndGlyphs" fill="#111">30.00</text>
<text class="h" x="34.80" y="384.00" font-size="8.0" text-anchor="start" font-weight="bold" textLength="131.40" lengthAdjust="spacingAndGlyphs">ICC=0.840 (0.803~0.870), slope= -0.25</text>
<text x="0.80" y="388.20" font-size="15.5" text-anchor="start" font-weight="bold">f</text>
<text x="9.60" y="447.80" font-size="6.0" text-anchor="middle" font-weight="bold" textLength="26.60" lengthAdjust="spacingAndGlyphs" transform="rotate(-90 9.60 447.80)">Difference</text>
<text x="123.85" y="540.20" font-size="6.0" text-anchor="middle" font-weight="bold" textLength="21.00" lengthAdjust="spacingAndGlyphs">Average</text>
<text class="r" x="215.70" y="412.72" font-size="7.1" text-anchor="end" font-weight="bold">+1.96 s.d.</text>
<text class="r" x="215.70" y="425.22" font-size="7.1" text-anchor="end" font-weight="bold">7.024</text>
<text class="r" x="215.70" y="444.60" font-size="7.1" text-anchor="end" font-weight="bold">Mean</text>
<text class="r" x="215.70" y="456.80" font-size="7.1" text-anchor="end" font-weight="bold">0.032</text>
<text class="r" x="215.70" y="476.88" font-size="7.1" text-anchor="end" font-weight="bold">-1.96 s.d.</text>
<text class="r" x="215.70" y="488.28" font-size="7.1" text-anchor="end" font-weight="bold">-6.960</text>
<g fill="#4585e6">
<circle cx="355.4" cy="393.5" r="1.1"/>
<circle cx="299.2" cy="400.1" r="1.1"/>
<circle cx="323.9" cy="397.7" r="1.1"/>
<circle cx="293.6" cy="409.6" r="1.1"/>
<circle cx="290.6" cy="414.2" r="1.1"/>
<circle cx="297.9" cy="411.9" r="1.1"/>
<circle cx="302.9" cy="412.9" r="1.1"/>
<circle cx="305.7" cy="415.6" r="1.1"/>
<circle cx="312.3" cy="416.9" r="1.1"/>
<circle cx="306.1" cy="420.2" r="1.1"/>
<circle cx="322.8" cy="419.2" r="1.1"/>
<circle cx="327.1" cy="420.5" r="1.1"/>
<circle cx="318.0" cy="424.0" r="1.1"/>
<circle cx="319.9" cy="422.2" r="1.1"/>
<circle cx="318.9" cy="427.7" r="1.1"/>
<circle cx="301.5" cy="429.4" r="1.1"/>
<circle cx="303.1" cy="428.4" r="1.1"/>
<circle cx="298.0" cy="436.6" r="1.1"/>
<circle cx="314.0" cy="433.9" r="1.1"/>
<circle cx="314.0" cy="436.0" r="1.1"/>
<circle cx="318.0" cy="434.7" r="1.1"/>
<circle cx="321.9" cy="436.9" r="1.1"/>
<circle cx="323.9" cy="437.8" r="1.1"/>
<circle cx="329.8" cy="431.4" r="1.1"/>
<circle cx="331.5" cy="435.6" r="1.1"/>
<circle cx="333.5" cy="434.7" r="1.1"/>
<circle cx="335.0" cy="434.9" r="1.1"/>
<circle cx="316.0" cy="440.4" r="1.1"/>
<circle cx="321.2" cy="447.0" r="1.1"/>
<circle cx="325.4" cy="444.4" r="1.1"/>
<circle cx="333.1" cy="444.4" r="1.1"/>
<circle cx="343.8" cy="441.8" r="1.1"/>
<circle cx="348.6" cy="426.5" r="1.1"/>
<circle cx="351.7" cy="424.4" r="1.1"/>
<circle cx="354.4" cy="427.7" r="1.1"/>
<circle cx="348.6" cy="431.6" r="1.1"/>
<circle cx="348.6" cy="437.8" r="1.1"/>
<circle cx="348.6" cy="439.9" r="1.1"/>
<circle cx="347.8" cy="440.2" r="1.1"/>
<circle cx="349.2" cy="448.1" r="1.1"/>
<circle cx="348.8" cy="451.4" r="1.1"/>
<circle cx="354.1" cy="452.0" r="1.1"/>
<circle cx="345.9" cy="453.7" r="1.1"/>
<circle cx="342.0" cy="452.4" r="1.1"/>
<circle cx="339.4" cy="454.6" r="1.1"/>
<circle cx="340.7" cy="457.9" r="1.1"/>
<circle cx="340.7" cy="460.1" r="1.1"/>
<circle cx="344.9" cy="459.0" r="1.1"/>
<circle cx="346.6" cy="458.6" r="1.1"/>
<circle cx="350.4" cy="456.6" r="1.1"/>
<circle cx="322.3" cy="454.0" r="1.1"/>
<circle cx="322.8" cy="459.0" r="1.1"/>
<circle cx="333.5" cy="464.5" r="1.1"/>
<circle cx="325.6" cy="468.1" r="1.1"/>
<circle cx="355.1" cy="473.8" r="1.1"/>
<circle cx="373.0" cy="393.9" r="1.1"/>
<circle cx="362.9" cy="418.1" r="1.1"/>
<circle cx="367.7" cy="416.5" r="1.1"/>
<circle cx="367.7" cy="421.1" r="1.1"/>
<circle cx="376.0" cy="423.1" r="1.1"/>
<circle cx="369.9" cy="426.0" r="1.1"/>
<circle cx="379.6" cy="428.4" r="1.1"/>
<circle cx="381.5" cy="429.0" r="1.1"/>
<circle cx="387.2" cy="427.4" r="1.1"/>
<circle cx="397.0" cy="428.8" r="1.1"/>
<circle cx="404.3" cy="424.4" r="1.1"/>
<circle cx="364.2" cy="432.0" r="1.1"/>
<circle cx="365.2" cy="431.2" r="1.1"/>
<circle cx="368.8" cy="434.0" r="1.1"/>
<circle cx="374.7" cy="435.9" r="1.1"/>
<circle cx="373.8" cy="438.6" r="1.1"/>
<circle cx="382.2" cy="436.9" r="1.1"/>
<circle cx="386.5" cy="436.2" r="1.1"/>
<circle cx="383.6" cy="442.1" r="1.1"/>
<circle cx="363.1" cy="442.8" r="1.1"/>
<circle cx="365.5" cy="444.1" r="1.1"/>
<circle cx="403.0" cy="431.6" r="1.1"/>
<circle cx="406.2" cy="431.6" r="1.1"/>
<circle cx="410.2" cy="431.6" r="1.1"/>
<circle cx="412.8" cy="433.0" r="1.1"/>
<circle cx="375.4" cy="450.7" r="1.1"/>
<circle cx="375.0" cy="453.7" r="1.1"/>
<circle cx="382.3" cy="452.7" r="1.1"/>
<circle cx="368.1" cy="457.5" r="1.1"/>
<circle cx="374.7" cy="460.6" r="1.1"/>
<circle cx="376.7" cy="460.9" r="1.1"/>
<circle cx="383.2" cy="456.6" r="1.1"/>
<circle cx="387.2" cy="459.6" r="1.1"/>
<circle cx="392.4" cy="459.2" r="1.1"/>
<circle cx="394.4" cy="460.6" r="1.1"/>
<circle cx="365.5" cy="464.5" r="1.1"/>
<circle cx="387.2" cy="463.6" r="1.1"/>
<circle cx="365.8" cy="465.0" r="1.1"/>
<circle cx="366.8" cy="470.9" r="1.1"/>
<circle cx="367.7" cy="474.2" r="1.1"/>
<circle cx="370.5" cy="471.3" r="1.1"/>
<circle cx="374.7" cy="469.6" r="1.1"/>
<circle cx="377.1" cy="472.6" r="1.1"/>
<circle cx="378.9" cy="470.0" r="1.1"/>
<circle cx="383.9" cy="472.9" r="1.1"/>
<circle cx="383.6" cy="476.9" r="1.1"/>
<circle cx="388.9" cy="474.6" r="1.1"/>
<circle cx="393.5" cy="466.3" r="1.1"/>
<circle cx="399.0" cy="467.7" r="1.1"/>
<circle cx="403.0" cy="469.3" r="1.1"/>
<circle cx="407.3" cy="472.2" r="1.1"/>
<circle cx="409.9" cy="467.1" r="1.1"/>
<circle cx="413.9" cy="468.6" r="1.1"/>
<circle cx="416.5" cy="470.9" r="1.1"/>
<circle cx="416.8" cy="466.7" r="1.1"/>
<circle cx="424.6" cy="465.4" r="1.1"/>
<circle cx="427.0" cy="466.4" r="1.1"/>
<circle cx="438.4" cy="468.4" r="1.1"/>
<circle cx="396.4" cy="480.7" r="1.1"/>
<circle cx="399.4" cy="475.2" r="1.1"/>
<circle cx="400.7" cy="478.9" r="1.1"/>
<circle cx="410.4" cy="478.8" r="1.1"/>
<circle cx="389.4" cy="485.1" r="1.1"/>
<circle cx="363.5" cy="494.9" r="1.1"/>
<circle cx="385.6" cy="498.2" r="1.1"/>
<circle cx="355.7" cy="473.6" r="1.1"/>
<circle cx="406.7" cy="448.4" r="1.1"/>
<circle cx="430.0" cy="451.9" r="1.1"/>
<circle cx="412.4" cy="445.1" r="1.1"/>
<circle cx="415.1" cy="451.3" r="1.1"/>
<circle cx="423.3" cy="461.2" r="1.1"/>
<circle cx="423.4" cy="451.1" r="1.1"/>
<circle cx="412.1" cy="462.8" r="1.1"/>
<circle cx="416.6" cy="450.9" r="1.1"/>
<circle cx="436.9" cy="462.5" r="1.1"/>
<circle cx="421.2" cy="450.2" r="1.1"/>
<circle cx="405.9" cy="458.8" r="1.1"/>
<circle cx="408.2" cy="458.1" r="1.1"/>
<circle cx="404.0" cy="451.8" r="1.1"/>
<circle cx="419.1" cy="452.1" r="1.1"/>
<circle cx="417.0" cy="453.8" r="1.1"/>
<circle cx="399.7" cy="442.9" r="1.1"/>
<circle cx="412.1" cy="464.2" r="1.1"/>
<circle cx="412.4" cy="444.2" r="1.1"/>
<circle cx="405.6" cy="451.2" r="1.1"/>
<circle cx="429.0" cy="446.9" r="1.1"/>
<circle cx="421.1" cy="452.4" r="1.1"/>
<circle cx="409.5" cy="444.1" r="1.1"/>
<circle cx="412.1" cy="445.7" r="1.1"/>
<circle cx="420.8" cy="438.1" r="1.1"/>
<circle cx="428.3" cy="456.6" r="1.1"/>
<circle cx="421.4" cy="462.0" r="1.1"/>
<circle cx="421.7" cy="438.5" r="1.1"/>
<circle cx="414.7" cy="454.3" r="1.1"/>
<circle cx="405.3" cy="442.7" r="1.1"/>
<circle cx="419.5" cy="454.8" r="1.1"/>
<circle cx="408.6" cy="449.2" r="1.1"/>
<circle cx="407.6" cy="446.9" r="1.1"/>
<circle cx="413.3" cy="458.9" r="1.1"/>
<circle cx="393.6" cy="448.5" r="1.1"/>
<circle cx="434.5" cy="453.3" r="1.1"/>
<circle cx="415.9" cy="457.1" r="1.1"/>
<circle cx="401.3" cy="442.1" r="1.1"/>
<circle cx="393.0" cy="440.3" r="1.1"/>
<circle cx="417.2" cy="457.2" r="1.1"/>
<circle cx="408.7" cy="446.0" r="1.1"/>
<circle cx="419.1" cy="455.5" r="1.1"/>
<circle cx="417.2" cy="437.1" r="1.1"/>
<circle cx="407.1" cy="432.5" r="1.1"/>
<circle cx="417.1" cy="444.8" r="1.1"/>
<circle cx="405.7" cy="462.0" r="1.1"/>
<circle cx="430.7" cy="454.5" r="1.1"/>
<circle cx="417.5" cy="452.3" r="1.1"/>
<circle cx="406.6" cy="450.6" r="1.1"/>
<circle cx="405.6" cy="452.2" r="1.1"/>
<circle cx="425.3" cy="457.1" r="1.1"/>
<circle cx="401.8" cy="450.1" r="1.1"/>
<circle cx="410.6" cy="442.0" r="1.1"/>
<circle cx="415.0" cy="447.5" r="1.1"/>
<circle cx="425.6" cy="454.2" r="1.1"/>
<circle cx="404.1" cy="451.6" r="1.1"/>
<circle cx="409.5" cy="446.4" r="1.1"/>
<circle cx="407.9" cy="458.8" r="1.1"/>
<circle cx="408.8" cy="438.5" r="1.1"/>
<circle cx="404.2" cy="456.9" r="1.1"/>
<circle cx="409.5" cy="448.6" r="1.1"/>
<circle cx="396.2" cy="453.9" r="1.1"/>
<circle cx="413.4" cy="453.0" r="1.1"/>
<circle cx="424.0" cy="457.1" r="1.1"/>
<circle cx="406.0" cy="446.7" r="1.1"/>
<circle cx="433.7" cy="456.2" r="1.1"/>
<circle cx="415.8" cy="443.0" r="1.1"/>
<circle cx="425.2" cy="454.9" r="1.1"/>
<circle cx="424.2" cy="453.0" r="1.1"/>
<circle cx="414.8" cy="447.0" r="1.1"/>
<circle cx="417.9" cy="452.8" r="1.1"/>
<circle cx="422.2" cy="458.9" r="1.1"/>
<circle cx="417.9" cy="447.0" r="1.1"/>
<circle cx="424.2" cy="462.3" r="1.1"/>
<circle cx="403.4" cy="454.1" r="1.1"/>
<circle cx="420.9" cy="454.9" r="1.1"/>
<circle cx="420.4" cy="450.3" r="1.1"/>
<circle cx="412.7" cy="463.3" r="1.1"/>
<circle cx="435.9" cy="440.8" r="1.1"/>
<circle cx="381.9" cy="454.2" r="1.1"/>
<circle cx="405.5" cy="447.2" r="1.1"/>
<circle cx="393.9" cy="453.6" r="1.1"/>
<circle cx="413.3" cy="447.1" r="1.1"/>
<circle cx="425.4" cy="468.7" r="1.1"/>
<circle cx="432.6" cy="459.6" r="1.1"/>
<circle cx="408.8" cy="455.8" r="1.1"/>
<circle cx="413.5" cy="459.4" r="1.1"/>
<circle cx="421.4" cy="450.8" r="1.1"/>
<circle cx="421.0" cy="445.8" r="1.1"/>
<circle cx="424.0" cy="462.0" r="1.1"/>
<circle cx="409.4" cy="455.1" r="1.1"/>
<circle cx="393.0" cy="457.8" r="1.1"/>
<circle cx="425.1" cy="443.6" r="1.1"/>
<circle cx="436.0" cy="451.8" r="1.1"/>
<circle cx="392.1" cy="441.0" r="1.1"/>
<circle cx="425.1" cy="449.0" r="1.1"/>
<circle cx="427.9" cy="439.7" r="1.1"/>
<circle cx="412.8" cy="458.1" r="1.1"/>
<circle cx="405.4" cy="456.0" r="1.1"/>
<circle cx="409.5" cy="453.5" r="1.1"/>
<circle cx="418.1" cy="467.3" r="1.1"/>
<circle cx="398.4" cy="456.7" r="1.1"/>
<circle cx="430.6" cy="442.8" r="1.1"/>
<circle cx="415.0" cy="467.8" r="1.1"/>
<circle cx="427.3" cy="429.4" r="1.1"/>
<circle cx="411.0" cy="438.5" r="1.1"/>
<circle cx="417.8" cy="445.7" r="1.1"/>
<circle cx="406.9" cy="444.9" r="1.1"/>
<circle cx="417.7" cy="447.6" r="1.1"/>
<circle cx="402.6" cy="449.4" r="1.1"/>
<circle cx="419.1" cy="444.8" r="1.1"/>
<circle cx="428.0" cy="438.9" r="1.1"/>
<circle cx="419.1" cy="448.2" r="1.1"/>
<circle cx="433.9" cy="446.3" r="1.1"/>
<circle cx="405.6" cy="441.2" r="1.1"/>
<circle cx="400.3" cy="448.6" r="1.1"/>
<circle cx="401.9" cy="462.1" r="1.1"/>
<circle cx="419.3" cy="436.2" r="1.1"/>
<circle cx="416.6" cy="457.7" r="1.1"/>
<circle cx="414.0" cy="454.4" r="1.1"/>
<circle cx="412.6" cy="452.5" r="1.1"/>
<circle cx="416.7" cy="445.9" r="1.1"/>
<circle cx="418.4" cy="452.2" r="1.1"/>
<circle cx="413.5" cy="446.0" r="1.1"/>
<circle cx="401.2" cy="452.8" r="1.1"/>
<circle cx="424.4" cy="433.4" r="1.1"/>
<circle cx="407.2" cy="460.9" r="1.1"/>
<circle cx="425.6" cy="445.8" r="1.1"/>
<circle cx="431.1" cy="443.8" r="1.1"/>
<circle cx="404.0" cy="465.1" r="1.1"/>
<circle cx="408.5" cy="449.4" r="1.1"/>
<circle cx="393.2" cy="443.6" r="1.1"/>
<circle cx="399.1" cy="450.0" r="1.1"/>
<circle cx="390.8" cy="458.8" r="1.1"/>
<circle cx="409.5" cy="446.6" r="1.1"/>
<circle cx="406.0" cy="456.4" r="1.1"/>
<circle cx="433.4" cy="448.0" r="1.1"/>
<circle cx="434.4" cy="462.8" r="1.1"/>
<circle cx="431.0" cy="453.2" r="1.1"/>
<circle cx="395.2" cy="455.9" r="1.1"/>
<circle cx="408.8" cy="452.4" r="1.1"/>
<circle cx="390.2" cy="448.9" r="1.1"/>
<circle cx="416.9" cy="444.2" r="1.1"/>
<circle cx="417.7" cy="463.2" r="1.1"/>
<circle cx="416.9" cy="446.0" r="1.1"/>
<circle cx="402.4" cy="454.0" r="1.1"/>
<circle cx="406.5" cy="434.3" r="1.1"/>
<circle cx="417.3" cy="457.1" r="1.1"/>
<circle cx="403.9" cy="461.7" r="1.1"/>
<circle cx="420.3" cy="459.7" r="1.1"/>
<circle cx="394.7" cy="451.0" r="1.1"/>
<circle cx="434.2" cy="465.7" r="1.1"/>
<circle cx="430.7" cy="451.0" r="1.1"/>
<circle cx="416.3" cy="446.4" r="1.1"/>
<circle cx="427.9" cy="445.9" r="1.1"/>
<circle cx="415.6" cy="435.9" r="1.1"/>
<circle cx="394.9" cy="464.0" r="1.1"/>
<circle cx="414.8" cy="452.6" r="1.1"/>
<circle cx="386.2" cy="450.8" r="1.1"/>
<circle cx="383.9" cy="449.8" r="1.1"/>
<circle cx="407.3" cy="449.5" r="1.1"/>
<circle cx="398.1" cy="441.1" r="1.1"/>
<circle cx="398.3" cy="455.7" r="1.1"/>
<circle cx="413.4" cy="457.0" r="1.1"/>
<circle cx="400.3" cy="455.3" r="1.1"/>
<circle cx="408.4" cy="451.6" r="1.1"/>
</g>
<rect x="265.3" y="372.7" width="190.40" height="152.90" fill="none" stroke="#a8a8a8" stroke-width="1.15"/>
<line x1="265.3" y1="449.15" x2="455.7" y2="449.15" stroke="#888888" stroke-width="1.1" opacity="0.9"/>
<line x1="265.3" y1="448.29" x2="455.7" y2="448.29" stroke="#d05a80" stroke-width="1.1" opacity="0.75"/>
<line x1="265.3" y1="418.24" x2="455.7" y2="418.24" stroke="#6a6a6a" stroke-width="0.75" stroke-dasharray="2.2 0.8 1.2 0.8"/>
<line x1="265.3" y1="478.33" x2="455.7" y2="478.33" stroke="#6a6a6a" stroke-width="0.75" stroke-dasharray="2.2 0.8 1.2 0.8"/>
<text class="t" x="263.90" y="520.23" font-size="4.6" text-anchor="end" font-weight="bold" textLength="11.70" lengthAdjust="spacingAndGlyphs" fill="#111">-15.00</text>
<text class="t" x="263.90" y="497.20" font-size="4.6" text-anchor="end" font-weight="bold" textLength="11.70" lengthAdjust="spacingAndGlyphs" fill="#111">-10.00</text>
<text class="t" x="263.90" y="474.18" font-size="4.6" text-anchor="end" font-weight="bold" textLength="9.35" lengthAdjust="spacingAndGlyphs" fill="#111">-5.00</text>
<text class="t" x="263.90" y="451.15" font-size="4.6" text-anchor="end" font-weight="bold" textLength="5.70" lengthAdjust="spacingAndGlyphs" fill="#111">.00</text>
<text class="t" x="263.90" y="428.12" font-size="4.6" text-anchor="end" font-weight="bold" textLength="8.05" lengthAdjust="spacingAndGlyphs" fill="#111">5.00</text>
<text class="t" x="263.90" y="405.10" font-size="4.6" text-anchor="end" font-weight="bold" textLength="10.40" lengthAdjust="spacingAndGlyphs" fill="#111">10.00</text>
<text class="t" x="263.90" y="382.07" font-size="4.6" text-anchor="end" font-weight="bold" textLength="10.40" lengthAdjust="spacingAndGlyphs" fill="#111">15.00</text>
<text class="t" x="274.48" y="531.50" font-size="4.6" text-anchor="middle" font-weight="bold" textLength="5.70" lengthAdjust="spacingAndGlyphs" fill="#111">.00</text>
<text class="t" x="331.83" y="531.50" font-size="4.6" text-anchor="middle" font-weight="bold" textLength="10.40" lengthAdjust="spacingAndGlyphs" fill="#111">10.00</text>
<text class="t" x="389.17" y="531.50" font-size="4.6" text-anchor="middle" font-weight="bold" textLength="10.40" lengthAdjust="spacingAndGlyphs" fill="#111">20.00</text>
<text class="t" x="446.52" y="531.50" font-size="4.6" text-anchor="middle" font-weight="bold" textLength="10.40" lengthAdjust="spacingAndGlyphs" fill="#111">30.00</text>
<text class="h" x="270.50" y="384.70" font-size="8.0" text-anchor="start" font-weight="bold" textLength="131.40" lengthAdjust="spacingAndGlyphs">ICC=0.862 (0.830~0.889), slope= -0.24</text>
<text x="234.60" y="388.50" font-size="15.5" text-anchor="start" font-weight="bold">g</text>
<text x="246.40" y="449.15" font-size="6.0" text-anchor="middle" font-weight="bold" textLength="26.60" lengthAdjust="spacingAndGlyphs" transform="rotate(-90 246.40 449.15)">Difference</text>
<text x="360.50" y="541.60" font-size="6.0" text-anchor="middle" font-weight="bold" textLength="21.00" lengthAdjust="spacingAndGlyphs">Average</text>
<text class="r" x="451.70" y="416.19" font-size="7.1" text-anchor="end" font-weight="bold">+1.96 s.d.</text>
<text class="r" x="451.70" y="428.29" font-size="7.1" text-anchor="end" font-weight="bold">6.711</text>
<text class="r" x="451.70" y="445.84" font-size="7.1" text-anchor="end" font-weight="bold">Mean</text>
<text class="r" x="451.70" y="457.84" font-size="7.1" text-anchor="end" font-weight="bold">0.187</text>
<text class="r" x="451.70" y="477.08" font-size="7.1" text-anchor="end" font-weight="bold">-1.96 s.d.</text>
<text class="r" x="451.70" y="488.28" font-size="7.1" text-anchor="end" font-weight="bold">-6.337</text>
<g fill="#4585e6">
<circle cx="539.8" cy="393.5" r="1.1"/>
<circle cx="528.0" cy="403.1" r="1.1"/>
<circle cx="526.0" cy="407.3" r="1.1"/>
<circle cx="525.4" cy="408.0" r="1.1"/>
<circle cx="536.1" cy="408.3" r="1.1"/>
<circle cx="545.3" cy="400.8" r="1.1"/>
<circle cx="548.0" cy="402.3" r="1.1"/>
<circle cx="537.0" cy="426.0" r="1.1"/>
<circle cx="548.4" cy="423.8" r="1.1"/>
<circle cx="553.0" cy="422.1" r="1.1"/>
<circle cx="553.6" cy="426.8" r="1.1"/>
<circle cx="563.3" cy="426.0" r="1.1"/>
<circle cx="571.2" cy="424.1" r="1.1"/>
<circle cx="531.9" cy="430.7" r="1.1"/>
<circle cx="529.6" cy="433.6" r="1.1"/>
<circle cx="530.9" cy="436.0" r="1.1"/>
<circle cx="545.7" cy="431.2" r="1.1"/>
<circle cx="543.1" cy="435.2" r="1.1"/>
<circle cx="543.4" cy="436.9" r="1.1"/>
<circle cx="541.0" cy="437.3" r="1.1"/>
<circle cx="545.7" cy="438.9" r="1.1"/>
<circle cx="547.6" cy="438.2" r="1.1"/>
<circle cx="548.4" cy="442.8" r="1.1"/>
<circle cx="556.8" cy="433.6" r="1.1"/>
<circle cx="560.4" cy="436.9" r="1.1"/>
<circle cx="562.0" cy="436.0" r="1.1"/>
<circle cx="571.0" cy="443.5" r="1.1"/>
<circle cx="574.2" cy="440.8" r="1.1"/>
<circle cx="574.5" cy="436.0" r="1.1"/>
<circle cx="575.8" cy="431.2" r="1.1"/>
<circle cx="578.2" cy="440.8" r="1.1"/>
<circle cx="579.8" cy="434.7" r="1.1"/>
<circle cx="580.5" cy="445.2" r="1.1"/>
<circle cx="582.8" cy="444.1" r="1.1"/>
<circle cx="583.8" cy="430.3" r="1.1"/>
<circle cx="585.7" cy="429.7" r="1.1"/>
<circle cx="587.8" cy="441.2" r="1.1"/>
<circle cx="589.3" cy="446.8" r="1.1"/>
<circle cx="551.9" cy="450.0" r="1.1"/>
<circle cx="553.2" cy="452.3" r="1.1"/>
<circle cx="555.8" cy="454.0" r="1.1"/>
<circle cx="556.5" cy="455.3" r="1.1"/>
<circle cx="547.0" cy="453.6" r="1.1"/>
<circle cx="577.9" cy="450.0" r="1.1"/>
<circle cx="582.1" cy="454.0" r="1.1"/>
<circle cx="576.6" cy="457.0" r="1.1"/>
<circle cx="579.5" cy="457.0" r="1.1"/>
<circle cx="578.2" cy="458.6" r="1.1"/>
<circle cx="573.3" cy="461.5" r="1.1"/>
<circle cx="564.4" cy="461.9" r="1.1"/>
<circle cx="566.0" cy="461.9" r="1.1"/>
<circle cx="561.5" cy="464.5" r="1.1"/>
<circle cx="555.2" cy="468.5" r="1.1"/>
<circle cx="561.5" cy="465.2" r="1.1"/>
<circle cx="562.4" cy="466.8" r="1.1"/>
<circle cx="564.4" cy="467.7" r="1.1"/>
<circle cx="566.4" cy="466.6" r="1.1"/>
<circle cx="569.6" cy="470.4" r="1.1"/>
<circle cx="587.0" cy="469.9" r="1.1"/>
<circle cx="587.4" cy="477.3" r="1.1"/>
<circle cx="589.6" cy="485.6" r="1.1"/>
<circle cx="582.5" cy="492.8" r="1.1"/>
<circle cx="584.1" cy="508.2" r="1.1"/>
<circle cx="590.3" cy="385.7" r="1.1"/>
<circle cx="596.2" cy="404.7" r="1.1"/>
<circle cx="598.8" cy="413.6" r="1.1"/>
<circle cx="600.8" cy="416.1" r="1.1"/>
<circle cx="621.8" cy="419.4" r="1.1"/>
<circle cx="624.4" cy="422.4" r="1.1"/>
<circle cx="605.8" cy="422.4" r="1.1"/>
<circle cx="611.5" cy="424.1" r="1.1"/>
<circle cx="601.8" cy="429.0" r="1.1"/>
<circle cx="585.7" cy="429.4" r="1.1"/>
<circle cx="627.3" cy="427.3" r="1.1"/>
<circle cx="619.4" cy="430.6" r="1.1"/>
<circle cx="624.4" cy="429.7" r="1.1"/>
<circle cx="604.7" cy="435.3" r="1.1"/>
<circle cx="607.1" cy="435.3" r="1.1"/>
<circle cx="619.4" cy="437.8" r="1.1"/>
<circle cx="624.4" cy="438.6" r="1.1"/>
<circle cx="625.7" cy="434.9" r="1.1"/>
<circle cx="629.7" cy="431.0" r="1.1"/>
<circle cx="633.0" cy="430.3" r="1.1"/>
<circle cx="635.6" cy="431.6" r="1.1"/>
<circle cx="587.6" cy="441.5" r="1.1"/>
<circle cx="590.3" cy="441.8" r="1.1"/>
<circle cx="595.8" cy="442.6" r="1.1"/>
<circle cx="590.0" cy="446.8" r="1.1"/>
<circle cx="609.7" cy="447.7" r="1.1"/>
<circle cx="612.3" cy="449.1" r="1.1"/>
<circle cx="615.5" cy="445.2" r="1.1"/>
<circle cx="616.8" cy="452.7" r="1.1"/>
<circle cx="593.5" cy="454.0" r="1.1"/>
<circle cx="600.5" cy="457.5" r="1.1"/>
<circle cx="606.7" cy="457.9" r="1.1"/>
<circle cx="609.3" cy="455.9" r="1.1"/>
<circle cx="609.7" cy="459.9" r="1.1"/>
<circle cx="605.4" cy="461.9" r="1.1"/>
<circle cx="602.7" cy="463.2" r="1.1"/>
<circle cx="598.1" cy="463.6" r="1.1"/>
<circle cx="616.5" cy="463.8" r="1.1"/>
<circle cx="651.4" cy="438.2" r="1.1"/>
<circle cx="642.5" cy="432.6" r="1.1"/>
<circle cx="657.0" cy="445.7" r="1.1"/>
<circle cx="660.5" cy="447.8" r="1.1"/>
<circle cx="619.4" cy="463.2" r="1.1"/>
<circle cx="624.1" cy="463.4" r="1.1"/>
<circle cx="591.3" cy="467.5" r="1.1"/>
<circle cx="609.3" cy="467.5" r="1.1"/>
<circle cx="616.1" cy="465.1" r="1.1"/>
<circle cx="618.9" cy="467.1" r="1.1"/>
<circle cx="632.0" cy="470.8" r="1.1"/>
<circle cx="636.0" cy="468.5" r="1.1"/>
<circle cx="641.2" cy="470.8" r="1.1"/>
<circle cx="644.8" cy="470.8" r="1.1"/>
<circle cx="650.3" cy="468.5" r="1.1"/>
<circle cx="656.0" cy="466.2" r="1.1"/>
<circle cx="662.3" cy="466.8" r="1.1"/>
<circle cx="667.1" cy="467.5" r="1.1"/>
<circle cx="614.2" cy="474.7" r="1.1"/>
<circle cx="636.9" cy="477.6" r="1.1"/>
<circle cx="612.9" cy="482.3" r="1.1"/>
<circle cx="623.1" cy="482.9" r="1.1"/>
<circle cx="616.8" cy="487.6" r="1.1"/>
<circle cx="590.3" cy="485.6" r="1.1"/>
<circle cx="601.8" cy="518.1" r="1.1"/>
<circle cx="639.5" cy="465.5" r="1.1"/>
<circle cx="653.0" cy="450.3" r="1.1"/>
<circle cx="639.2" cy="437.0" r="1.1"/>
<circle cx="643.7" cy="456.1" r="1.1"/>
<circle cx="636.2" cy="449.5" r="1.1"/>
<circle cx="624.0" cy="439.6" r="1.1"/>
<circle cx="647.3" cy="460.1" r="1.1"/>
<circle cx="639.7" cy="436.9" r="1.1"/>
<circle cx="638.9" cy="437.8" r="1.1"/>
<circle cx="640.0" cy="465.1" r="1.1"/>
<circle cx="646.2" cy="448.8" r="1.1"/>
<circle cx="654.2" cy="447.0" r="1.1"/>
<circle cx="646.6" cy="451.6" r="1.1"/>
<circle cx="647.8" cy="438.5" r="1.1"/>
<circle cx="650.7" cy="456.9" r="1.1"/>
<circle cx="618.4" cy="428.7" r="1.1"/>
<circle cx="633.3" cy="461.7" r="1.1"/>
<circle cx="643.2" cy="455.3" r="1.1"/>
<circle cx="649.0" cy="457.0" r="1.1"/>
<circle cx="636.1" cy="445.4" r="1.1"/>
<circle cx="647.1" cy="454.8" r="1.1"/>
<circle cx="649.2" cy="452.7" r="1.1"/>
<circle cx="637.8" cy="458.7" r="1.1"/>
<circle cx="648.1" cy="458.4" r="1.1"/>
<circle cx="615.5" cy="457.9" r="1.1"/>
<circle cx="616.6" cy="451.7" r="1.1"/>
<circle cx="635.8" cy="450.9" r="1.1"/>
<circle cx="637.9" cy="447.6" r="1.1"/>
<circle cx="645.1" cy="452.7" r="1.1"/>
<circle cx="634.4" cy="430.1" r="1.1"/>
<circle cx="634.5" cy="454.3" r="1.1"/>
<circle cx="633.9" cy="453.4" r="1.1"/>
<circle cx="639.0" cy="442.6" r="1.1"/>
<circle cx="655.7" cy="463.1" r="1.1"/>
<circle cx="641.9" cy="449.6" r="1.1"/>
<circle cx="653.4" cy="439.5" r="1.1"/>
<circle cx="633.5" cy="458.9" r="1.1"/>
<circle cx="652.8" cy="446.1" r="1.1"/>
<circle cx="634.6" cy="452.8" r="1.1"/>
<circle cx="627.7" cy="446.1" r="1.1"/>
<circle cx="640.5" cy="430.6" r="1.1"/>
<circle cx="649.4" cy="456.0" r="1.1"/>
<circle cx="654.6" cy="438.6" r="1.1"/>
<circle cx="629.0" cy="443.6" r="1.1"/>
<circle cx="628.8" cy="466.3" r="1.1"/>
<circle cx="632.4" cy="447.5" r="1.1"/>
<circle cx="645.2" cy="453.6" r="1.1"/>
<circle cx="658.8" cy="441.4" r="1.1"/>
<circle cx="652.6" cy="451.2" r="1.1"/>
<circle cx="630.2" cy="451.2" r="1.1"/>
<circle cx="627.7" cy="462.9" r="1.1"/>
<circle cx="635.0" cy="458.0" r="1.1"/>
<circle cx="657.2" cy="445.1" r="1.1"/>
<circle cx="633.2" cy="451.0" r="1.1"/>
<circle cx="631.6" cy="457.1" r="1.1"/>
<circle cx="644.9" cy="443.9" r="1.1"/>
<circle cx="635.5" cy="455.8" r="1.1"/>
<circle cx="627.2" cy="463.4" r="1.1"/>
<circle cx="634.4" cy="448.4" r="1.1"/>
<circle cx="632.9" cy="462.9" r="1.1"/>
<circle cx="652.0" cy="460.4" r="1.1"/>
<circle cx="650.1" cy="450.7" r="1.1"/>
<circle cx="661.5" cy="455.3" r="1.1"/>
<circle cx="647.8" cy="454.6" r="1.1"/>
<circle cx="651.0" cy="452.2" r="1.1"/>
<circle cx="641.2" cy="437.3" r="1.1"/>
<circle cx="665.5" cy="439.6" r="1.1"/>
<circle cx="619.4" cy="444.3" r="1.1"/>
<circle cx="664.2" cy="459.7" r="1.1"/>
<circle cx="636.4" cy="452.1" r="1.1"/>
<circle cx="642.7" cy="434.2" r="1.1"/>
<circle cx="639.3" cy="452.3" r="1.1"/>
<circle cx="655.9" cy="440.4" r="1.1"/>
<circle cx="618.2" cy="437.4" r="1.1"/>
<circle cx="646.6" cy="450.6" r="1.1"/>
<circle cx="644.6" cy="451.2" r="1.1"/>
<circle cx="639.0" cy="439.1" r="1.1"/>
<circle cx="648.0" cy="453.1" r="1.1"/>
<circle cx="649.3" cy="459.9" r="1.1"/>
<circle cx="629.4" cy="431.3" r="1.1"/>
<circle cx="623.4" cy="467.1" r="1.1"/>
<circle cx="633.0" cy="453.2" r="1.1"/>
<circle cx="642.8" cy="455.8" r="1.1"/>
<circle cx="641.1" cy="445.2" r="1.1"/>
<circle cx="645.7" cy="454.2" r="1.1"/>
<circle cx="632.3" cy="460.5" r="1.1"/>
<circle cx="655.6" cy="453.6" r="1.1"/>
<circle cx="641.8" cy="448.1" r="1.1"/>
<circle cx="624.9" cy="455.2" r="1.1"/>
<circle cx="632.3" cy="446.0" r="1.1"/>
<circle cx="654.0" cy="442.6" r="1.1"/>
<circle cx="637.3" cy="456.9" r="1.1"/>
<circle cx="663.4" cy="444.5" r="1.1"/>
<circle cx="655.1" cy="444.8" r="1.1"/>
<circle cx="647.3" cy="453.9" r="1.1"/>
<circle cx="630.5" cy="458.2" r="1.1"/>
<circle cx="662.8" cy="450.4" r="1.1"/>
<circle cx="646.0" cy="440.6" r="1.1"/>
<circle cx="662.7" cy="450.5" r="1.1"/>
<circle cx="629.0" cy="456.1" r="1.1"/>
<circle cx="626.9" cy="444.5" r="1.1"/>
<circle cx="619.5" cy="461.0" r="1.1"/>
<circle cx="667.3" cy="444.9" r="1.1"/>
<circle cx="635.8" cy="445.4" r="1.1"/>
<circle cx="636.8" cy="454.4" r="1.1"/>
<circle cx="659.0" cy="441.9" r="1.1"/>
<circle cx="647.8" cy="435.6" r="1.1"/>
<circle cx="659.8" cy="449.3" r="1.1"/>
<circle cx="635.3" cy="462.2" r="1.1"/>
<circle cx="641.8" cy="461.0" r="1.1"/>
<circle cx="654.8" cy="463.3" r="1.1"/>
<circle cx="634.2" cy="450.4" r="1.1"/>
<circle cx="647.0" cy="448.4" r="1.1"/>
<circle cx="659.8" cy="444.3" r="1.1"/>
<circle cx="654.0" cy="460.9" r="1.1"/>
<circle cx="621.5" cy="442.2" r="1.1"/>
<circle cx="633.1" cy="445.6" r="1.1"/>
<circle cx="647.3" cy="448.6" r="1.1"/>
<circle cx="643.9" cy="446.3" r="1.1"/>
<circle cx="642.1" cy="453.9" r="1.1"/>
<circle cx="651.2" cy="443.8" r="1.1"/>
<circle cx="641.8" cy="443.9" r="1.1"/>
<circle cx="641.0" cy="438.5" r="1.1"/>
<circle cx="653.5" cy="455.4" r="1.1"/>
<circle cx="641.6" cy="444.5" r="1.1"/>
<circle cx="638.0" cy="444.7" r="1.1"/>
<circle cx="626.0" cy="463.1" r="1.1"/>
<circle cx="630.2" cy="454.6" r="1.1"/>
<circle cx="649.7" cy="437.4" r="1.1"/>
<circle cx="621.9" cy="454.3" r="1.1"/>
<circle cx="621.1" cy="461.4" r="1.1"/>
<circle cx="637.5" cy="450.7" r="1.1"/>
<circle cx="643.0" cy="445.5" r="1.1"/>
<circle cx="641.4" cy="447.6" r="1.1"/>
<circle cx="656.7" cy="449.3" r="1.1"/>
<circle cx="642.6" cy="445.8" r="1.1"/>
<circle cx="636.0" cy="444.1" r="1.1"/>
<circle cx="643.1" cy="464.7" r="1.1"/>
<circle cx="655.3" cy="451.9" r="1.1"/>
<circle cx="661.4" cy="458.1" r="1.1"/>
<circle cx="645.3" cy="448.7" r="1.1"/>
<circle cx="630.9" cy="452.0" r="1.1"/>
<circle cx="639.5" cy="437.3" r="1.1"/>
<circle cx="628.9" cy="465.5" r="1.1"/>
<circle cx="645.4" cy="454.0" r="1.1"/>
<circle cx="645.2" cy="446.3" r="1.1"/>
<circle cx="648.1" cy="458.7" r="1.1"/>
<circle cx="639.6" cy="454.1" r="1.1"/>
<circle cx="654.3" cy="446.1" r="1.1"/>
<circle cx="644.9" cy="444.1" r="1.1"/>
<circle cx="649.6" cy="447.1" r="1.1"/>
<circle cx="655.6" cy="443.9" r="1.1"/>
<circle cx="661.6" cy="447.5" r="1.1"/>
<circle cx="633.8" cy="442.8" r="1.1"/>
<circle cx="650.3" cy="443.1" r="1.1"/>
<circle cx="662.9" cy="460.3" r="1.1"/>
<circle cx="648.7" cy="438.6" r="1.1"/>
<circle cx="642.7" cy="444.2" r="1.1"/>
<circle cx="623.1" cy="453.4" r="1.1"/>
<circle cx="667.2" cy="445.7" r="1.1"/>
<circle cx="651.9" cy="460.3" r="1.1"/>
<circle cx="632.4" cy="447.3" r="1.1"/>
<circle cx="646.0" cy="453.8" r="1.1"/>
<circle cx="630.4" cy="451.7" r="1.1"/>
<circle cx="641.8" cy="457.6" r="1.1"/>
<circle cx="625.4" cy="445.5" r="1.1"/>
<circle cx="637.5" cy="447.5" r="1.1"/>
<circle cx="651.0" cy="445.0" r="1.1"/>
<circle cx="652.2" cy="458.2" r="1.1"/>
<circle cx="653.6" cy="448.4" r="1.1"/>
<circle cx="633.9" cy="448.0" r="1.1"/>
</g>
<rect x="496.3" y="373.3" width="187.30" height="149.90" fill="none" stroke="#a8a8a8" stroke-width="1.15"/>
<line x1="496.3" y1="448.25" x2="683.6" y2="448.25" stroke="#888888" stroke-width="1.1" opacity="0.9"/>
<line x1="496.3" y1="447.42" x2="683.6" y2="447.42" stroke="#d05a80" stroke-width="1.1" opacity="0.75"/>
<line x1="496.3" y1="416.61" x2="683.6" y2="416.61" stroke="#6a6a6a" stroke-width="0.75" stroke-dasharray="2.2 0.8 1.2 0.8"/>
<line x1="496.3" y1="478.24" x2="683.6" y2="478.24" stroke="#6a6a6a" stroke-width="0.75" stroke-dasharray="2.2 0.8 1.2 0.8"/>
<text class="t" x="494.90" y="517.98" font-size="4.6" text-anchor="end" font-weight="bold" textLength="11.70" lengthAdjust="spacingAndGlyphs" fill="#111">-15.00</text>
<text class="t" x="494.90" y="495.40" font-size="4.6" text-anchor="end" font-weight="bold" textLength="11.70" lengthAdjust="spacingAndGlyphs" fill="#111">-10.00</text>
<text class="t" x="494.90" y="472.83" font-size="4.6" text-anchor="end" font-weight="bold" textLength="9.35" lengthAdjust="spacingAndGlyphs" fill="#111">-5.00</text>
<text class="t" x="494.90" y="450.25" font-size="4.6" text-anchor="end" font-weight="bold" textLength="5.70" lengthAdjust="spacingAndGlyphs" fill="#111">.00</text>
<text class="t" x="494.90" y="427.67" font-size="4.6" text-anchor="end" font-weight="bold" textLength="8.05" lengthAdjust="spacingAndGlyphs" fill="#111">5.00</text>
<text class="t" x="494.90" y="405.10" font-size="4.6" text-anchor="end" font-weight="bold" textLength="10.40" lengthAdjust="spacingAndGlyphs" fill="#111">10.00</text>
<text class="t" x="494.90" y="382.52" font-size="4.6" text-anchor="end" font-weight="bold" textLength="10.40" lengthAdjust="spacingAndGlyphs" fill="#111">15.00</text>
<text class="t" x="505.33" y="529.10" font-size="4.6" text-anchor="middle" font-weight="bold" textLength="5.70" lengthAdjust="spacingAndGlyphs" fill="#111">.00</text>
<text class="t" x="561.74" y="529.10" font-size="4.6" text-anchor="middle" font-weight="bold" textLength="10.40" lengthAdjust="spacingAndGlyphs" fill="#111">10.00</text>
<text class="t" x="618.16" y="529.10" font-size="4.6" text-anchor="middle" font-weight="bold" textLength="10.40" lengthAdjust="spacingAndGlyphs" fill="#111">20.00</text>
<text class="t" x="674.57" y="529.10" font-size="4.6" text-anchor="middle" font-weight="bold" textLength="10.40" lengthAdjust="spacingAndGlyphs" fill="#111">30.00</text>
<text class="h" x="499.40" y="385.10" font-size="8.0" text-anchor="start" font-weight="bold" textLength="131.40" lengthAdjust="spacingAndGlyphs">ICC=0.858 (0.825~0.885), slope= -0.16</text>
<text x="466.10" y="388.50" font-size="15.5" text-anchor="start" font-weight="bold">h</text>
<text x="477.40" y="448.25" font-size="6.0" text-anchor="middle" font-weight="bold" textLength="26.60" lengthAdjust="spacingAndGlyphs" transform="rotate(-90 477.40 448.25)">Difference</text>
<text x="589.95" y="539.20" font-size="6.0" text-anchor="middle" font-weight="bold" textLength="21.00" lengthAdjust="spacingAndGlyphs">Average</text>
<text class="r" x="678.70" y="413.66" font-size="7.1" text-anchor="end" font-weight="bold">+1.96 s.d.</text>
<text class="r" x="678.70" y="426.46" font-size="7.1" text-anchor="end" font-weight="bold">7.007</text>
<text class="r" x="678.70" y="443.77" font-size="7.1" text-anchor="end" font-weight="bold">Mean</text>
<text class="r" x="678.70" y="456.37" font-size="7.1" text-anchor="end" font-weight="bold">0.183</text>
<text class="r" x="678.70" y="475.69" font-size="7.1" text-anchor="end" font-weight="bold">-1.96 s.d.</text>
<text class="r" x="678.70" y="487.49" font-size="7.1" text-anchor="end" font-weight="bold">-6.642</text>
<g fill="#4585e6">
<circle cx="63.2" cy="581.2" r="1.1"/>
<circle cx="111.5" cy="585.8" r="1.1"/>
<circle cx="78.1" cy="590.9" r="1.1"/>
<circle cx="59.7" cy="596.1" r="1.1"/>
<circle cx="65.0" cy="596.3" r="1.1"/>
<circle cx="51.8" cy="599.4" r="1.1"/>
<circle cx="49.9" cy="602.5" r="1.1"/>
<circle cx="70.7" cy="599.2" r="1.1"/>
<circle cx="74.4" cy="600.1" r="1.1"/>
<circle cx="63.9" cy="605.5" r="1.1"/>
<circle cx="81.2" cy="606.1" r="1.1"/>
<circle cx="83.3" cy="607.3" r="1.1"/>
<circle cx="77.7" cy="610.1" r="1.1"/>
<circle cx="80.3" cy="610.1" r="1.1"/>
<circle cx="66.1" cy="613.9" r="1.1"/>
<circle cx="78.8" cy="614.9" r="1.1"/>
<circle cx="81.9" cy="614.9" r="1.1"/>
<circle cx="81.0" cy="618.2" r="1.1"/>
<circle cx="84.9" cy="618.2" r="1.1"/>
<circle cx="86.9" cy="622.4" r="1.1"/>
<circle cx="76.8" cy="623.1" r="1.1"/>
<circle cx="83.2" cy="625.2" r="1.1"/>
<circle cx="57.6" cy="622.8" r="1.1"/>
<circle cx="56.3" cy="626.1" r="1.1"/>
<circle cx="93.5" cy="619.5" r="1.1"/>
<circle cx="96.1" cy="613.6" r="1.1"/>
<circle cx="101.7" cy="609.4" r="1.1"/>
<circle cx="103.7" cy="620.2" r="1.1"/>
<circle cx="102.3" cy="625.0" r="1.1"/>
<circle cx="107.9" cy="626.8" r="1.1"/>
<circle cx="110.9" cy="613.4" r="1.1"/>
<circle cx="113.6" cy="610.3" r="1.1"/>
<circle cx="114.1" cy="613.0" r="1.1"/>
<circle cx="114.9" cy="613.2" r="1.1"/>
<circle cx="113.8" cy="615.6" r="1.1"/>
<circle cx="114.5" cy="616.9" r="1.1"/>
<circle cx="113.6" cy="619.5" r="1.1"/>
<circle cx="114.9" cy="622.4" r="1.1"/>
<circle cx="117.1" cy="622.8" r="1.1"/>
<circle cx="118.0" cy="621.2" r="1.1"/>
<circle cx="120.1" cy="616.0" r="1.1"/>
<circle cx="122.8" cy="618.9" r="1.1"/>
<circle cx="121.5" cy="625.4" r="1.1"/>
<circle cx="124.3" cy="625.4" r="1.1"/>
<circle cx="121.1" cy="602.5" r="1.1"/>
<circle cx="117.1" cy="631.6" r="1.1"/>
<circle cx="124.1" cy="631.6" r="1.1"/>
<circle cx="106.6" cy="633.6" r="1.1"/>
<circle cx="110.3" cy="636.6" r="1.1"/>
<circle cx="109.9" cy="640.3" r="1.1"/>
<circle cx="110.3" cy="641.2" r="1.1"/>
<circle cx="86.2" cy="639.9" r="1.1"/>
<circle cx="86.9" cy="640.3" r="1.1"/>
<circle cx="77.7" cy="642.5" r="1.1"/>
<circle cx="95.8" cy="644.5" r="1.1"/>
<circle cx="68.9" cy="629.0" r="1.1"/>
<circle cx="83.6" cy="629.1" r="1.1"/>
<circle cx="88.9" cy="629.4" r="1.1"/>
<circle cx="95.8" cy="645.2" r="1.1"/>
<circle cx="95.8" cy="646.8" r="1.1"/>
<circle cx="102.4" cy="648.1" r="1.1"/>
<circle cx="106.9" cy="647.1" r="1.1"/>
<circle cx="120.7" cy="647.9" r="1.1"/>
<circle cx="119.3" cy="651.7" r="1.1"/>
<circle cx="87.8" cy="650.1" r="1.1"/>
<circle cx="129.8" cy="598.2" r="1.1"/>
<circle cx="140.8" cy="611.4" r="1.1"/>
<circle cx="149.2" cy="613.0" r="1.1"/>
<circle cx="153.1" cy="610.1" r="1.1"/>
<circle cx="154.8" cy="614.3" r="1.1"/>
<circle cx="160.1" cy="614.9" r="1.1"/>
<circle cx="163.6" cy="609.7" r="1.1"/>
<circle cx="165.3" cy="612.0" r="1.1"/>
<circle cx="168.9" cy="611.6" r="1.1"/>
<circle cx="179.1" cy="612.6" r="1.1"/>
<circle cx="174.5" cy="614.3" r="1.1"/>
<circle cx="154.4" cy="617.5" r="1.1"/>
<circle cx="160.7" cy="618.9" r="1.1"/>
<circle cx="163.4" cy="616.0" r="1.1"/>
<circle cx="166.0" cy="620.8" r="1.1"/>
<circle cx="169.9" cy="618.9" r="1.1"/>
<circle cx="171.9" cy="618.9" r="1.1"/>
<circle cx="176.8" cy="619.5" r="1.1"/>
<circle cx="183.7" cy="620.2" r="1.1"/>
<circle cx="137.3" cy="617.3" r="1.1"/>
<circle cx="143.9" cy="617.3" r="1.1"/>
<circle cx="122.9" cy="618.9" r="1.1"/>
<circle cx="120.7" cy="615.6" r="1.1"/>
<circle cx="126.3" cy="622.8" r="1.1"/>
<circle cx="133.8" cy="622.1" r="1.1"/>
<circle cx="122.0" cy="625.4" r="1.1"/>
<circle cx="124.6" cy="626.1" r="1.1"/>
<circle cx="131.2" cy="626.4" r="1.1"/>
<circle cx="138.4" cy="627.0" r="1.1"/>
<circle cx="144.7" cy="625.2" r="1.1"/>
<circle cx="147.8" cy="626.1" r="1.1"/>
<circle cx="146.0" cy="621.5" r="1.1"/>
<circle cx="150.5" cy="622.1" r="1.1"/>
<circle cx="154.8" cy="621.5" r="1.1"/>
<circle cx="123.9" cy="631.4" r="1.1"/>
<circle cx="132.5" cy="635.3" r="1.1"/>
<circle cx="138.1" cy="633.1" r="1.1"/>
<circle cx="144.3" cy="632.0" r="1.1"/>
<circle cx="140.8" cy="637.3" r="1.1"/>
<circle cx="147.8" cy="639.9" r="1.1"/>
<circle cx="150.9" cy="633.3" r="1.1"/>
<circle cx="154.4" cy="640.5" r="1.1"/>
<circle cx="155.5" cy="633.3" r="1.1"/>
<circle cx="153.9" cy="643.8" r="1.1"/>
<circle cx="134.4" cy="643.2" r="1.1"/>
<circle cx="137.7" cy="643.2" r="1.1"/>
<circle cx="191.6" cy="627.8" r="1.1"/>
<circle cx="194.9" cy="631.4" r="1.1"/>
<circle cx="192.9" cy="636.6" r="1.1"/>
<circle cx="195.9" cy="639.2" r="1.1"/>
<circle cx="127.2" cy="646.7" r="1.1"/>
<circle cx="120.7" cy="647.7" r="1.1"/>
<circle cx="132.9" cy="651.3" r="1.1"/>
<circle cx="138.1" cy="648.4" r="1.1"/>
<circle cx="147.3" cy="649.5" r="1.1"/>
<circle cx="146.7" cy="650.4" r="1.1"/>
<circle cx="137.7" cy="655.4" r="1.1"/>
<circle cx="168.3" cy="650.4" r="1.1"/>
<circle cx="168.9" cy="652.3" r="1.1"/>
<circle cx="174.5" cy="655.0" r="1.1"/>
<circle cx="190.9" cy="653.6" r="1.1"/>
<circle cx="145.0" cy="658.9" r="1.1"/>
<circle cx="147.3" cy="660.9" r="1.1"/>
<circle cx="155.2" cy="660.0" r="1.1"/>
<circle cx="157.1" cy="663.5" r="1.1"/>
<circle cx="143.9" cy="665.5" r="1.1"/>
<circle cx="148.6" cy="675.7" r="1.1"/>
<circle cx="175.2" cy="646.4" r="1.1"/>
<circle cx="186.0" cy="630.7" r="1.1"/>
<circle cx="185.2" cy="633.5" r="1.1"/>
<circle cx="172.0" cy="624.4" r="1.1"/>
<circle cx="193.0" cy="627.1" r="1.1"/>
<circle cx="165.7" cy="641.2" r="1.1"/>
<circle cx="172.5" cy="624.4" r="1.1"/>
<circle cx="188.7" cy="623.2" r="1.1"/>
<circle cx="172.2" cy="636.3" r="1.1"/>
<circle cx="172.6" cy="645.0" r="1.1"/>
<circle cx="180.9" cy="646.1" r="1.1"/>
<circle cx="181.2" cy="630.3" r="1.1"/>
<circle cx="174.2" cy="628.7" r="1.1"/>
<circle cx="175.5" cy="629.9" r="1.1"/>
<circle cx="186.9" cy="622.4" r="1.1"/>
<circle cx="171.7" cy="617.4" r="1.1"/>
<circle cx="193.5" cy="629.5" r="1.1"/>
<circle cx="179.9" cy="629.6" r="1.1"/>
<circle cx="189.0" cy="631.9" r="1.1"/>
<circle cx="187.7" cy="629.0" r="1.1"/>
<circle cx="178.9" cy="629.7" r="1.1"/>
<circle cx="163.2" cy="636.5" r="1.1"/>
<circle cx="165.8" cy="624.0" r="1.1"/>
<circle cx="186.0" cy="630.3" r="1.1"/>
<circle cx="187.3" cy="640.2" r="1.1"/>
<circle cx="178.0" cy="642.3" r="1.1"/>
<circle cx="172.1" cy="629.5" r="1.1"/>
<circle cx="189.0" cy="628.7" r="1.1"/>
<circle cx="178.9" cy="627.9" r="1.1"/>
<circle cx="192.3" cy="615.2" r="1.1"/>
<circle cx="191.4" cy="636.4" r="1.1"/>
<circle cx="179.3" cy="633.4" r="1.1"/>
<circle cx="171.3" cy="636.7" r="1.1"/>
<circle cx="192.6" cy="629.7" r="1.1"/>
<circle cx="177.0" cy="627.1" r="1.1"/>
<circle cx="178.3" cy="622.5" r="1.1"/>
<circle cx="167.8" cy="640.0" r="1.1"/>
<circle cx="179.8" cy="633.3" r="1.1"/>
<circle cx="182.8" cy="632.9" r="1.1"/>
<circle cx="166.3" cy="624.3" r="1.1"/>
<circle cx="185.7" cy="636.0" r="1.1"/>
<circle cx="169.7" cy="626.5" r="1.1"/>
<circle cx="170.4" cy="633.9" r="1.1"/>
<circle cx="183.1" cy="630.2" r="1.1"/>
<circle cx="174.2" cy="632.1" r="1.1"/>
<circle cx="180.3" cy="625.5" r="1.1"/>
<circle cx="183.0" cy="626.0" r="1.1"/>
<circle cx="188.6" cy="633.8" r="1.1"/>
<circle cx="173.8" cy="633.5" r="1.1"/>
<circle cx="180.6" cy="625.8" r="1.1"/>
<circle cx="171.8" cy="620.0" r="1.1"/>
<circle cx="169.8" cy="632.1" r="1.1"/>
<circle cx="190.9" cy="626.2" r="1.1"/>
<circle cx="181.4" cy="632.1" r="1.1"/>
<circle cx="187.0" cy="632.7" r="1.1"/>
<circle cx="191.0" cy="634.6" r="1.1"/>
<circle cx="173.1" cy="632.4" r="1.1"/>
<circle cx="158.9" cy="628.9" r="1.1"/>
<circle cx="180.2" cy="633.5" r="1.1"/>
<circle cx="177.3" cy="635.0" r="1.1"/>
<circle cx="191.9" cy="625.0" r="1.1"/>
<circle cx="175.1" cy="631.6" r="1.1"/>
<circle cx="184.4" cy="630.9" r="1.1"/>
<circle cx="187.5" cy="622.9" r="1.1"/>
<circle cx="187.0" cy="637.0" r="1.1"/>
<circle cx="190.0" cy="632.6" r="1.1"/>
<circle cx="177.9" cy="632.4" r="1.1"/>
<circle cx="179.3" cy="620.5" r="1.1"/>
<circle cx="174.6" cy="629.8" r="1.1"/>
<circle cx="175.4" cy="624.4" r="1.1"/>
<circle cx="177.9" cy="627.8" r="1.1"/>
<circle cx="180.6" cy="629.7" r="1.1"/>
<circle cx="181.6" cy="636.0" r="1.1"/>
<circle cx="181.2" cy="632.4" r="1.1"/>
<circle cx="169.0" cy="612.3" r="1.1"/>
<circle cx="176.4" cy="634.1" r="1.1"/>
<circle cx="176.9" cy="626.3" r="1.1"/>
<circle cx="168.8" cy="635.4" r="1.1"/>
<circle cx="175.2" cy="631.5" r="1.1"/>
<circle cx="190.2" cy="633.2" r="1.1"/>
<circle cx="188.6" cy="634.2" r="1.1"/>
<circle cx="174.1" cy="630.3" r="1.1"/>
<circle cx="174.9" cy="623.9" r="1.1"/>
<circle cx="182.7" cy="625.4" r="1.1"/>
<circle cx="195.1" cy="625.6" r="1.1"/>
<circle cx="175.1" cy="630.5" r="1.1"/>
<circle cx="175.3" cy="630.3" r="1.1"/>
<circle cx="174.5" cy="621.5" r="1.1"/>
<circle cx="158.3" cy="622.3" r="1.1"/>
<circle cx="193.7" cy="632.7" r="1.1"/>
<circle cx="181.4" cy="627.2" r="1.1"/>
<circle cx="178.7" cy="631.8" r="1.1"/>
<circle cx="167.5" cy="625.2" r="1.1"/>
<circle cx="172.0" cy="637.5" r="1.1"/>
<circle cx="170.5" cy="637.0" r="1.1"/>
<circle cx="175.8" cy="646.4" r="1.1"/>
<circle cx="179.3" cy="630.2" r="1.1"/>
<circle cx="192.2" cy="635.2" r="1.1"/>
<circle cx="188.4" cy="623.6" r="1.1"/>
<circle cx="190.2" cy="640.1" r="1.1"/>
<circle cx="179.1" cy="627.1" r="1.1"/>
<circle cx="170.2" cy="636.1" r="1.1"/>
<circle cx="182.7" cy="630.0" r="1.1"/>
<circle cx="168.9" cy="639.7" r="1.1"/>
<circle cx="187.9" cy="629.9" r="1.1"/>
<circle cx="193.3" cy="624.3" r="1.1"/>
<circle cx="187.9" cy="624.0" r="1.1"/>
<circle cx="192.7" cy="628.4" r="1.1"/>
<circle cx="191.0" cy="627.5" r="1.1"/>
<circle cx="183.6" cy="636.9" r="1.1"/>
<circle cx="171.9" cy="630.6" r="1.1"/>
<circle cx="172.5" cy="635.1" r="1.1"/>
<circle cx="174.6" cy="627.8" r="1.1"/>
<circle cx="178.2" cy="637.0" r="1.1"/>
<circle cx="170.6" cy="629.9" r="1.1"/>
<circle cx="177.0" cy="626.7" r="1.1"/>
<circle cx="172.9" cy="629.0" r="1.1"/>
<circle cx="181.8" cy="620.7" r="1.1"/>
<circle cx="182.1" cy="622.9" r="1.1"/>
<circle cx="180.1" cy="643.7" r="1.1"/>
<circle cx="171.3" cy="629.6" r="1.1"/>
<circle cx="177.7" cy="635.9" r="1.1"/>
<circle cx="175.7" cy="619.3" r="1.1"/>
<circle cx="165.5" cy="631.1" r="1.1"/>
<circle cx="182.3" cy="636.4" r="1.1"/>
<circle cx="175.2" cy="634.0" r="1.1"/>
<circle cx="170.4" cy="637.8" r="1.1"/>
<circle cx="179.4" cy="625.9" r="1.1"/>
<circle cx="181.6" cy="640.5" r="1.1"/>
<circle cx="172.4" cy="622.6" r="1.1"/>
<circle cx="170.9" cy="623.1" r="1.1"/>
<circle cx="179.5" cy="632.1" r="1.1"/>
<circle cx="178.5" cy="631.2" r="1.1"/>
<circle cx="190.7" cy="628.3" r="1.1"/>
<circle cx="168.7" cy="616.3" r="1.1"/>
<circle cx="182.2" cy="625.9" r="1.1"/>
<circle cx="177.8" cy="632.5" r="1.1"/>
<circle cx="184.2" cy="620.6" r="1.1"/>
<circle cx="171.4" cy="630.5" r="1.1"/>
<circle cx="178.7" cy="636.9" r="1.1"/>
<circle cx="175.5" cy="617.6" r="1.1"/>
<circle cx="190.5" cy="620.2" r="1.1"/>
<circle cx="171.3" cy="632.3" r="1.1"/>
<circle cx="170.5" cy="644.9" r="1.1"/>
<circle cx="182.1" cy="633.2" r="1.1"/>
<circle cx="176.1" cy="643.3" r="1.1"/>
</g>
<rect x="29.5" y="554.5" width="186.70" height="149.70" fill="none" stroke="#a8a8a8" stroke-width="1.15"/>
<line x1="29.5" y1="629.35" x2="216.2" y2="629.35" stroke="#888888" stroke-width="1.1" opacity="0.9"/>
<line x1="29.5" y1="629.14" x2="216.2" y2="629.14" stroke="#c06080" stroke-width="1.1" opacity="0.5"/>
<line x1="29.5" y1="603.95" x2="216.2" y2="603.95" stroke="#6a6a6a" stroke-width="0.75" stroke-dasharray="2.2 0.8 1.2 0.8"/>
<line x1="29.5" y1="654.34" x2="216.2" y2="654.34" stroke="#6a6a6a" stroke-width="0.75" stroke-dasharray="2.2 0.8 1.2 0.8"/>
<text class="t" x="28.10" y="698.99" font-size="4.6" text-anchor="end" font-weight="bold" textLength="11.70" lengthAdjust="spacingAndGlyphs" fill="#111">-15.00</text>
<text class="t" x="28.10" y="676.44" font-size="4.6" text-anchor="end" font-weight="bold" textLength="11.70" lengthAdjust="spacingAndGlyphs" fill="#111">-10.00</text>
<text class="t" x="28.10" y="653.90" font-size="4.6" text-anchor="end" font-weight="bold" textLength="9.35" lengthAdjust="spacingAndGlyphs" fill="#111">-5.00</text>
<text class="t" x="28.10" y="631.35" font-size="4.6" text-anchor="end" font-weight="bold" textLength="5.70" lengthAdjust="spacingAndGlyphs" fill="#111">.00</text>
<text class="t" x="28.10" y="608.80" font-size="4.6" text-anchor="end" font-weight="bold" textLength="8.05" lengthAdjust="spacingAndGlyphs" fill="#111">5.00</text>
<text class="t" x="28.10" y="586.26" font-size="4.6" text-anchor="end" font-weight="bold" textLength="10.40" lengthAdjust="spacingAndGlyphs" fill="#111">10.00</text>
<text class="t" x="28.10" y="563.71" font-size="4.6" text-anchor="end" font-weight="bold" textLength="10.40" lengthAdjust="spacingAndGlyphs" fill="#111">15.00</text>
<text class="t" x="38.50" y="710.10" font-size="4.6" text-anchor="middle" font-weight="bold" textLength="5.70" lengthAdjust="spacingAndGlyphs" fill="#111">.00</text>
<text class="t" x="94.73" y="710.10" font-size="4.6" text-anchor="middle" font-weight="bold" textLength="10.40" lengthAdjust="spacingAndGlyphs" fill="#111">10.00</text>
<text class="t" x="150.97" y="710.10" font-size="4.6" text-anchor="middle" font-weight="bold" textLength="10.40" lengthAdjust="spacingAndGlyphs" fill="#111">20.00</text>
<text class="t" x="207.20" y="710.10" font-size="4.6" text-anchor="middle" font-weight="bold" textLength="10.40" lengthAdjust="spacingAndGlyphs" fill="#111">30.00</text>
<text class="h" x="34.80" y="567.00" font-size="8.0" text-anchor="start" font-weight="bold" textLength="131.40" lengthAdjust="spacingAndGlyphs">ICC=0.903 (0.880~0.922), slope= -0.18</text>
<text x="2.40" y="570.00" font-size="15.5" text-anchor="start" font-weight="bold">i</text>
<text x="10.60" y="629.35" font-size="6.0" text-anchor="middle" font-weight="bold" textLength="26.60" lengthAdjust="spacingAndGlyphs" transform="rotate(-90 10.60 629.35)">Difference</text>
<text class="r" x="213.70" y="600.90" font-size="7.1" text-anchor="end" font-weight="bold">+1.96 s.d.</text>
<text class="r" x="213.70" y="612.90" font-size="7.1" text-anchor="end" font-weight="bold">5.634</text>
<text class="r" x="213.70" y="626.59" font-size="7.1" text-anchor="end" font-weight="bold">Mean</text>
<text class="r" x="213.70" y="638.29" font-size="7.1" text-anchor="end" font-weight="bold">0.046</text>
<text class="r" x="213.70" y="653.19" font-size="7.1" text-anchor="end" font-weight="bold">-1.96 s.d.</text>
<text class="r" x="213.70" y="664.39" font-size="7.1" text-anchor="end" font-weight="bold">-5.542</text>
<g fill="#4585e6">
<circle cx="292.1" cy="598.9" r="1.1"/>
<circle cx="332.0" cy="596.5" r="1.1"/>
<circle cx="344.6" cy="589.0" r="1.1"/>
<circle cx="347.5" cy="603.1" r="1.1"/>
<circle cx="319.3" cy="604.8" r="1.1"/>
<circle cx="307.2" cy="608.8" r="1.1"/>
<circle cx="317.3" cy="610.1" r="1.1"/>
<circle cx="340.7" cy="610.7" r="1.1"/>
<circle cx="301.5" cy="613.4" r="1.1"/>
<circle cx="304.4" cy="618.2" r="1.1"/>
<circle cx="312.3" cy="617.8" r="1.1"/>
<circle cx="308.1" cy="620.2" r="1.1"/>
<circle cx="310.7" cy="622.4" r="1.1"/>
<circle cx="322.3" cy="620.5" r="1.1"/>
<circle cx="327.1" cy="622.4" r="1.1"/>
<circle cx="328.5" cy="621.8" r="1.1"/>
<circle cx="330.7" cy="618.2" r="1.1"/>
<circle cx="332.4" cy="618.9" r="1.1"/>
<circle cx="335.3" cy="618.9" r="1.1"/>
<circle cx="331.8" cy="622.8" r="1.1"/>
<circle cx="340.7" cy="618.9" r="1.1"/>
<circle cx="342.3" cy="619.1" r="1.1"/>
<circle cx="342.0" cy="622.8" r="1.1"/>
<circle cx="339.6" cy="625.2" r="1.1"/>
<circle cx="337.7" cy="626.8" r="1.1"/>
<circle cx="337.0" cy="628.1" r="1.1"/>
<circle cx="356.1" cy="616.2" r="1.1"/>
<circle cx="355.4" cy="620.8" r="1.1"/>
<circle cx="350.1" cy="624.4" r="1.1"/>
<circle cx="351.5" cy="624.4" r="1.1"/>
<circle cx="318.0" cy="625.2" r="1.1"/>
<circle cx="319.7" cy="624.8" r="1.1"/>
<circle cx="326.8" cy="625.7" r="1.1"/>
<circle cx="307.4" cy="627.0" r="1.1"/>
<circle cx="311.8" cy="627.4" r="1.1"/>
<circle cx="314.7" cy="629.4" r="1.1"/>
<circle cx="291.0" cy="628.1" r="1.1"/>
<circle cx="288.1" cy="630.3" r="1.1"/>
<circle cx="288.1" cy="633.1" r="1.1"/>
<circle cx="291.0" cy="634.4" r="1.1"/>
<circle cx="304.8" cy="630.0" r="1.1"/>
<circle cx="308.5" cy="632.0" r="1.1"/>
<circle cx="309.8" cy="632.0" r="1.1"/>
<circle cx="311.0" cy="634.6" r="1.1"/>
<circle cx="311.4" cy="636.6" r="1.1"/>
<circle cx="315.3" cy="630.7" r="1.1"/>
<circle cx="316.0" cy="634.6" r="1.1"/>
<circle cx="318.9" cy="633.6" r="1.1"/>
<circle cx="332.8" cy="628.7" r="1.1"/>
<circle cx="334.4" cy="632.0" r="1.1"/>
<circle cx="338.3" cy="630.0" r="1.1"/>
<circle cx="341.6" cy="632.7" r="1.1"/>
<circle cx="342.9" cy="629.4" r="1.1"/>
<circle cx="348.8" cy="629.1" r="1.1"/>
<circle cx="352.1" cy="629.6" r="1.1"/>
<circle cx="354.1" cy="628.7" r="1.1"/>
<circle cx="349.5" cy="632.7" r="1.1"/>
<circle cx="351.2" cy="634.0" r="1.1"/>
<circle cx="354.1" cy="634.4" r="1.1"/>
<circle cx="357.8" cy="636.0" r="1.1"/>
<circle cx="348.8" cy="637.0" r="1.1"/>
<circle cx="349.5" cy="639.2" r="1.1"/>
<circle cx="348.6" cy="637.9" r="1.1"/>
<circle cx="358.7" cy="625.2" r="1.1"/>
<circle cx="295.0" cy="641.9" r="1.1"/>
<circle cx="319.3" cy="641.5" r="1.1"/>
<circle cx="321.0" cy="639.2" r="1.1"/>
<circle cx="322.3" cy="640.8" r="1.1"/>
<circle cx="334.1" cy="639.2" r="1.1"/>
<circle cx="338.1" cy="639.9" r="1.1"/>
<circle cx="339.6" cy="640.9" r="1.1"/>
<circle cx="340.9" cy="637.9" r="1.1"/>
<circle cx="299.6" cy="649.0" r="1.1"/>
<circle cx="325.6" cy="650.8" r="1.1"/>
<circle cx="336.0" cy="650.0" r="1.1"/>
<circle cx="341.6" cy="645.5" r="1.1"/>
<circle cx="344.2" cy="648.0" r="1.1"/>
<circle cx="351.2" cy="647.1" r="1.1"/>
<circle cx="359.3" cy="645.8" r="1.1"/>
<circle cx="357.4" cy="652.1" r="1.1"/>
<circle cx="314.7" cy="655.0" r="1.1"/>
<circle cx="323.6" cy="656.9" r="1.1"/>
<circle cx="339.9" cy="654.6" r="1.1"/>
<circle cx="350.8" cy="658.9" r="1.1"/>
<circle cx="355.1" cy="663.5" r="1.1"/>
<circle cx="354.5" cy="674.7" r="1.1"/>
<circle cx="359.1" cy="672.0" r="1.1"/>
<circle cx="371.0" cy="572.9" r="1.1"/>
<circle cx="365.5" cy="586.9" r="1.1"/>
<circle cx="370.8" cy="589.6" r="1.1"/>
<circle cx="373.0" cy="599.8" r="1.1"/>
<circle cx="364.9" cy="605.7" r="1.1"/>
<circle cx="370.5" cy="608.0" r="1.1"/>
<circle cx="373.4" cy="609.7" r="1.1"/>
<circle cx="374.7" cy="609.7" r="1.1"/>
<circle cx="382.3" cy="607.3" r="1.1"/>
<circle cx="400.3" cy="610.7" r="1.1"/>
<circle cx="376.7" cy="613.6" r="1.1"/>
<circle cx="379.7" cy="614.3" r="1.1"/>
<circle cx="383.9" cy="613.4" r="1.1"/>
<circle cx="389.8" cy="614.9" r="1.1"/>
<circle cx="398.4" cy="613.6" r="1.1"/>
<circle cx="401.6" cy="614.7" r="1.1"/>
<circle cx="404.7" cy="614.3" r="1.1"/>
<circle cx="407.8" cy="615.6" r="1.1"/>
<circle cx="413.5" cy="615.2" r="1.1"/>
<circle cx="416.1" cy="615.2" r="1.1"/>
<circle cx="425.9" cy="613.9" r="1.1"/>
<circle cx="366.2" cy="615.3" r="1.1"/>
<circle cx="369.7" cy="616.2" r="1.1"/>
<circle cx="355.7" cy="616.2" r="1.1"/>
<circle cx="355.7" cy="620.2" r="1.1"/>
<circle cx="366.2" cy="620.2" r="1.1"/>
<circle cx="365.2" cy="622.8" r="1.1"/>
<circle cx="368.1" cy="624.8" r="1.1"/>
<circle cx="358.9" cy="624.8" r="1.1"/>
<circle cx="363.5" cy="625.4" r="1.1"/>
<circle cx="362.2" cy="627.8" r="1.1"/>
<circle cx="372.1" cy="626.8" r="1.1"/>
<circle cx="376.7" cy="626.1" r="1.1"/>
<circle cx="376.0" cy="622.1" r="1.1"/>
<circle cx="378.6" cy="619.1" r="1.1"/>
<circle cx="381.9" cy="620.5" r="1.1"/>
<circle cx="387.2" cy="619.5" r="1.1"/>
<circle cx="389.8" cy="619.5" r="1.1"/>
<circle cx="393.1" cy="621.5" r="1.1"/>
<circle cx="385.9" cy="622.8" r="1.1"/>
<circle cx="359.6" cy="645.8" r="1.1"/>
<circle cx="357.6" cy="652.1" r="1.1"/>
<circle cx="378.4" cy="652.6" r="1.1"/>
<circle cx="385.6" cy="655.0" r="1.1"/>
<circle cx="389.4" cy="655.6" r="1.1"/>
<circle cx="393.1" cy="653.0" r="1.1"/>
<circle cx="402.3" cy="657.3" r="1.1"/>
<circle cx="403.6" cy="652.1" r="1.1"/>
<circle cx="406.5" cy="653.6" r="1.1"/>
<circle cx="410.2" cy="655.0" r="1.1"/>
<circle cx="412.8" cy="653.0" r="1.1"/>
<circle cx="414.8" cy="651.7" r="1.1"/>
<circle cx="416.8" cy="653.0" r="1.1"/>
<circle cx="422.0" cy="653.6" r="1.1"/>
<circle cx="404.9" cy="648.1" r="1.1"/>
<circle cx="408.2" cy="648.4" r="1.1"/>
<circle cx="409.9" cy="662.9" r="1.1"/>
<circle cx="375.0" cy="668.4" r="1.1"/>
<circle cx="390.7" cy="669.0" r="1.1"/>
<circle cx="358.9" cy="672.0" r="1.1"/>
<circle cx="376.7" cy="696.4" r="1.1"/>
<circle cx="420.1" cy="625.3" r="1.1"/>
<circle cx="430.8" cy="617.5" r="1.1"/>
<circle cx="403.2" cy="633.3" r="1.1"/>
<circle cx="414.1" cy="623.3" r="1.1"/>
<circle cx="435.7" cy="642.8" r="1.1"/>
<circle cx="398.0" cy="634.0" r="1.1"/>
<circle cx="402.5" cy="627.5" r="1.1"/>
<circle cx="426.8" cy="632.0" r="1.1"/>
<circle cx="410.4" cy="631.8" r="1.1"/>
<circle cx="394.4" cy="640.8" r="1.1"/>
<circle cx="400.7" cy="641.5" r="1.1"/>
<circle cx="405.1" cy="627.4" r="1.1"/>
<circle cx="434.3" cy="632.5" r="1.1"/>
<circle cx="402.4" cy="626.7" r="1.1"/>
<circle cx="421.1" cy="646.0" r="1.1"/>
<circle cx="421.2" cy="627.9" r="1.1"/>
<circle cx="395.2" cy="625.6" r="1.1"/>
<circle cx="410.2" cy="633.0" r="1.1"/>
<circle cx="402.2" cy="641.2" r="1.1"/>
<circle cx="397.6" cy="625.3" r="1.1"/>
<circle cx="419.5" cy="634.9" r="1.1"/>
<circle cx="406.1" cy="638.7" r="1.1"/>
<circle cx="390.9" cy="644.1" r="1.1"/>
<circle cx="413.8" cy="646.7" r="1.1"/>
<circle cx="412.8" cy="641.6" r="1.1"/>
<circle cx="409.0" cy="632.5" r="1.1"/>
<circle cx="419.9" cy="617.0" r="1.1"/>
<circle cx="408.9" cy="644.7" r="1.1"/>
<circle cx="368.2" cy="634.1" r="1.1"/>
<circle cx="425.8" cy="633.6" r="1.1"/>
<circle cx="414.9" cy="642.1" r="1.1"/>
<circle cx="417.0" cy="615.9" r="1.1"/>
<circle cx="397.8" cy="628.6" r="1.1"/>
<circle cx="414.2" cy="627.4" r="1.1"/>
<circle cx="410.4" cy="644.4" r="1.1"/>
<circle cx="368.0" cy="640.2" r="1.1"/>
<circle cx="426.1" cy="635.8" r="1.1"/>
<circle cx="412.2" cy="631.5" r="1.1"/>
<circle cx="417.4" cy="632.9" r="1.1"/>
<circle cx="401.1" cy="637.2" r="1.1"/>
<circle cx="399.6" cy="630.7" r="1.1"/>
<circle cx="406.6" cy="621.8" r="1.1"/>
<circle cx="421.1" cy="630.4" r="1.1"/>
<circle cx="394.5" cy="630.4" r="1.1"/>
<circle cx="391.4" cy="642.5" r="1.1"/>
<circle cx="419.7" cy="646.9" r="1.1"/>
<circle cx="403.5" cy="636.6" r="1.1"/>
<circle cx="397.5" cy="624.2" r="1.1"/>
<circle cx="410.7" cy="634.3" r="1.1"/>
<circle cx="425.8" cy="628.9" r="1.1"/>
<circle cx="428.5" cy="638.7" r="1.1"/>
<circle cx="398.9" cy="629.6" r="1.1"/>
<circle cx="398.3" cy="644.6" r="1.1"/>
<circle cx="403.8" cy="638.1" r="1.1"/>
<circle cx="425.7" cy="629.0" r="1.1"/>
<circle cx="404.7" cy="633.8" r="1.1"/>
<circle cx="400.4" cy="620.9" r="1.1"/>
<circle cx="397.6" cy="633.7" r="1.1"/>
<circle cx="414.9" cy="645.0" r="1.1"/>
<circle cx="384.7" cy="635.0" r="1.1"/>
<circle cx="394.8" cy="640.2" r="1.1"/>
<circle cx="422.4" cy="632.0" r="1.1"/>
<circle cx="434.0" cy="628.0" r="1.1"/>
<circle cx="404.1" cy="622.6" r="1.1"/>
<circle cx="402.2" cy="631.9" r="1.1"/>
<circle cx="422.1" cy="641.2" r="1.1"/>
<circle cx="408.0" cy="625.2" r="1.1"/>
<circle cx="407.0" cy="627.6" r="1.1"/>
<circle cx="405.0" cy="627.8" r="1.1"/>
<circle cx="399.0" cy="630.6" r="1.1"/>
<circle cx="404.4" cy="629.7" r="1.1"/>
<circle cx="391.3" cy="632.1" r="1.1"/>
<circle cx="420.5" cy="636.1" r="1.1"/>
<circle cx="403.8" cy="621.9" r="1.1"/>
<circle cx="392.6" cy="621.7" r="1.1"/>
<circle cx="402.4" cy="628.5" r="1.1"/>
<circle cx="385.6" cy="636.3" r="1.1"/>
<circle cx="389.1" cy="625.6" r="1.1"/>
<circle cx="401.2" cy="637.6" r="1.1"/>
<circle cx="439.4" cy="628.2" r="1.1"/>
<circle cx="407.9" cy="627.9" r="1.1"/>
<circle cx="409.0" cy="629.7" r="1.1"/>
<circle cx="410.4" cy="624.8" r="1.1"/>
<circle cx="417.3" cy="626.9" r="1.1"/>
<circle cx="420.6" cy="622.4" r="1.1"/>
<circle cx="385.7" cy="636.5" r="1.1"/>
<circle cx="405.0" cy="621.9" r="1.1"/>
<circle cx="418.6" cy="626.9" r="1.1"/>
<circle cx="423.0" cy="626.7" r="1.1"/>
<circle cx="425.4" cy="632.2" r="1.1"/>
<circle cx="417.3" cy="632.2" r="1.1"/>
<circle cx="406.6" cy="628.1" r="1.1"/>
<circle cx="418.7" cy="636.6" r="1.1"/>
<circle cx="405.9" cy="648.7" r="1.1"/>
<circle cx="437.1" cy="622.0" r="1.1"/>
<circle cx="428.1" cy="630.5" r="1.1"/>
<circle cx="415.5" cy="624.8" r="1.1"/>
<circle cx="436.5" cy="624.5" r="1.1"/>
<circle cx="410.8" cy="625.3" r="1.1"/>
<circle cx="440.7" cy="640.9" r="1.1"/>
<circle cx="392.4" cy="627.5" r="1.1"/>
<circle cx="417.4" cy="627.6" r="1.1"/>
<circle cx="406.8" cy="622.5" r="1.1"/>
<circle cx="415.7" cy="622.4" r="1.1"/>
<circle cx="424.3" cy="649.9" r="1.1"/>
<circle cx="407.2" cy="644.0" r="1.1"/>
<circle cx="417.5" cy="625.7" r="1.1"/>
<circle cx="406.9" cy="623.4" r="1.1"/>
<circle cx="413.7" cy="636.5" r="1.1"/>
<circle cx="425.8" cy="628.8" r="1.1"/>
<circle cx="394.3" cy="630.4" r="1.1"/>
<circle cx="436.8" cy="633.2" r="1.1"/>
<circle cx="411.1" cy="614.7" r="1.1"/>
<circle cx="405.6" cy="635.3" r="1.1"/>
<circle cx="398.0" cy="641.6" r="1.1"/>
<circle cx="403.6" cy="624.2" r="1.1"/>
<circle cx="403.4" cy="630.3" r="1.1"/>
<circle cx="426.8" cy="626.6" r="1.1"/>
<circle cx="385.6" cy="630.4" r="1.1"/>
<circle cx="419.7" cy="643.1" r="1.1"/>
<circle cx="395.4" cy="642.7" r="1.1"/>
<circle cx="422.0" cy="634.6" r="1.1"/>
<circle cx="400.7" cy="624.1" r="1.1"/>
<circle cx="397.9" cy="638.4" r="1.1"/>
<circle cx="415.2" cy="639.4" r="1.1"/>
<circle cx="438.9" cy="631.2" r="1.1"/>
<circle cx="411.3" cy="646.1" r="1.1"/>
<circle cx="392.7" cy="627.5" r="1.1"/>
<circle cx="406.5" cy="628.0" r="1.1"/>
<circle cx="414.1" cy="624.5" r="1.1"/>
<circle cx="429.1" cy="620.3" r="1.1"/>
<circle cx="400.0" cy="617.8" r="1.1"/>
<circle cx="391.3" cy="635.6" r="1.1"/>
<circle cx="421.3" cy="629.5" r="1.1"/>
<circle cx="424.5" cy="635.9" r="1.1"/>
<circle cx="403.5" cy="630.7" r="1.1"/>
<circle cx="417.4" cy="646.8" r="1.1"/>
<circle cx="405.5" cy="633.9" r="1.1"/>
<circle cx="420.1" cy="640.6" r="1.1"/>
<circle cx="418.3" cy="639.4" r="1.1"/>
<circle cx="396.3" cy="629.0" r="1.1"/>
<circle cx="383.4" cy="630.6" r="1.1"/>
<circle cx="413.3" cy="633.1" r="1.1"/>
<circle cx="414.1" cy="620.7" r="1.1"/>
<circle cx="401.8" cy="629.7" r="1.1"/>
<circle cx="414.5" cy="624.3" r="1.1"/>
<circle cx="410.4" cy="625.3" r="1.1"/>
<circle cx="392.6" cy="625.9" r="1.1"/>
<circle cx="400.1" cy="637.6" r="1.1"/>
<circle cx="431.8" cy="635.6" r="1.1"/>
<circle cx="408.9" cy="626.7" r="1.1"/>
<circle cx="388.9" cy="626.9" r="1.1"/>
<circle cx="435.1" cy="640.1" r="1.1"/>
<circle cx="415.3" cy="629.1" r="1.1"/>
<circle cx="412.1" cy="634.4" r="1.1"/>
<circle cx="411.9" cy="634.4" r="1.1"/>
<circle cx="400.6" cy="631.4" r="1.1"/>
<circle cx="406.8" cy="639.5" r="1.1"/>
<circle cx="393.7" cy="641.2" r="1.1"/>
<circle cx="410.7" cy="627.1" r="1.1"/>
<circle cx="412.3" cy="632.0" r="1.1"/>
<circle cx="408.6" cy="634.4" r="1.1"/>
<circle cx="403.5" cy="617.8" r="1.1"/>
<circle cx="422.3" cy="630.9" r="1.1"/>
<circle cx="436.6" cy="634.1" r="1.1"/>
<circle cx="382.5" cy="640.7" r="1.1"/>
<circle cx="401.9" cy="635.3" r="1.1"/>
<circle cx="395.9" cy="630.3" r="1.1"/>
<circle cx="388.3" cy="636.3" r="1.1"/>
<circle cx="420.3" cy="623.0" r="1.1"/>
<circle cx="418.7" cy="638.4" r="1.1"/>
<circle cx="423.9" cy="625.8" r="1.1"/>
<circle cx="401.8" cy="622.3" r="1.1"/>
<circle cx="393.0" cy="633.5" r="1.1"/>
<circle cx="412.6" cy="641.2" r="1.1"/>
<circle cx="416.0" cy="628.5" r="1.1"/>
<circle cx="391.0" cy="643.1" r="1.1"/>
<circle cx="414.4" cy="630.8" r="1.1"/>
<circle cx="397.2" cy="622.9" r="1.1"/>
<circle cx="421.3" cy="623.5" r="1.1"/>
<circle cx="420.6" cy="636.0" r="1.1"/>
<circle cx="406.4" cy="618.4" r="1.1"/>
<circle cx="418.1" cy="642.0" r="1.1"/>
<circle cx="399.9" cy="621.2" r="1.1"/>
<circle cx="428.0" cy="632.2" r="1.1"/>
<circle cx="402.8" cy="640.6" r="1.1"/>
<circle cx="407.9" cy="634.6" r="1.1"/>
<circle cx="406.1" cy="625.2" r="1.1"/>
<circle cx="415.2" cy="624.4" r="1.1"/>
<circle cx="385.9" cy="626.9" r="1.1"/>
<circle cx="430.2" cy="639.6" r="1.1"/>
<circle cx="435.8" cy="633.0" r="1.1"/>
<circle cx="405.6" cy="634.7" r="1.1"/>
<circle cx="398.0" cy="636.8" r="1.1"/>
<circle cx="405.4" cy="633.1" r="1.1"/>
<circle cx="399.5" cy="630.0" r="1.1"/>
<circle cx="426.4" cy="629.4" r="1.1"/>
<circle cx="402.1" cy="633.3" r="1.1"/>
<circle cx="425.0" cy="629.6" r="1.1"/>
<circle cx="394.8" cy="619.0" r="1.1"/>
<circle cx="392.3" cy="639.4" r="1.1"/>
<circle cx="410.7" cy="634.8" r="1.1"/>
<circle cx="427.8" cy="633.3" r="1.1"/>
<circle cx="419.1" cy="627.2" r="1.1"/>
<circle cx="388.3" cy="636.0" r="1.1"/>
<circle cx="410.6" cy="635.5" r="1.1"/>
<circle cx="396.3" cy="630.0" r="1.1"/>
<circle cx="441.6" cy="624.6" r="1.1"/>
<circle cx="413.4" cy="641.2" r="1.1"/>
<circle cx="408.6" cy="632.0" r="1.1"/>
<circle cx="380.7" cy="637.1" r="1.1"/>
<circle cx="405.5" cy="641.0" r="1.1"/>
<circle cx="410.7" cy="628.2" r="1.1"/>
<circle cx="418.4" cy="629.2" r="1.1"/>
<circle cx="404.4" cy="643.0" r="1.1"/>
<circle cx="426.4" cy="631.9" r="1.1"/>
<circle cx="423.9" cy="637.5" r="1.1"/>
<circle cx="420.5" cy="631.5" r="1.1"/>
<circle cx="413.1" cy="634.2" r="1.1"/>
<circle cx="420.3" cy="633.8" r="1.1"/>
<circle cx="403.9" cy="630.5" r="1.1"/>
<circle cx="418.7" cy="623.5" r="1.1"/>
<circle cx="411.9" cy="636.9" r="1.1"/>
<circle cx="414.5" cy="628.9" r="1.1"/>
<circle cx="411.7" cy="627.4" r="1.1"/>
<circle cx="426.4" cy="628.2" r="1.1"/>
<circle cx="387.5" cy="621.8" r="1.1"/>
<circle cx="416.4" cy="632.7" r="1.1"/>
<circle cx="405.1" cy="621.0" r="1.1"/>
<circle cx="409.8" cy="624.6" r="1.1"/>
<circle cx="402.4" cy="631.1" r="1.1"/>
<circle cx="400.7" cy="633.5" r="1.1"/>
<circle cx="401.1" cy="627.5" r="1.1"/>
<circle cx="408.7" cy="642.3" r="1.1"/>
<circle cx="435.2" cy="638.4" r="1.1"/>
<circle cx="401.2" cy="631.1" r="1.1"/>
<circle cx="425.4" cy="637.3" r="1.1"/>
<circle cx="388.1" cy="630.7" r="1.1"/>
<circle cx="401.1" cy="636.9" r="1.1"/>
<circle cx="421.4" cy="627.0" r="1.1"/>
<circle cx="410.8" cy="645.7" r="1.1"/>
<circle cx="404.3" cy="627.5" r="1.1"/>
<circle cx="433.7" cy="630.8" r="1.1"/>
<circle cx="419.0" cy="621.5" r="1.1"/>
<circle cx="438.3" cy="638.6" r="1.1"/>
<circle cx="417.2" cy="636.5" r="1.1"/>
<circle cx="404.7" cy="627.5" r="1.1"/>
<circle cx="388.9" cy="634.0" r="1.1"/>
<circle cx="430.2" cy="637.7" r="1.1"/>
<circle cx="425.5" cy="636.5" r="1.1"/>
<circle cx="398.5" cy="621.2" r="1.1"/>
<circle cx="421.4" cy="632.4" r="1.1"/>
<circle cx="426.5" cy="629.0" r="1.1"/>
<circle cx="399.1" cy="634.5" r="1.1"/>
<circle cx="403.8" cy="618.6" r="1.1"/>
<circle cx="403.1" cy="624.4" r="1.1"/>
<circle cx="395.6" cy="626.9" r="1.1"/>
<circle cx="425.9" cy="649.1" r="1.1"/>
<circle cx="437.4" cy="628.0" r="1.1"/>
<circle cx="428.8" cy="630.6" r="1.1"/>
<circle cx="417.9" cy="626.0" r="1.1"/>
<circle cx="410.9" cy="618.3" r="1.1"/>
<circle cx="438.3" cy="625.3" r="1.1"/>
<circle cx="420.6" cy="626.7" r="1.1"/>
<circle cx="416.0" cy="622.2" r="1.1"/>
<circle cx="406.5" cy="638.1" r="1.1"/>
<circle cx="420.7" cy="616.3" r="1.1"/>
<circle cx="424.5" cy="621.1" r="1.1"/>
<circle cx="416.2" cy="635.1" r="1.1"/>
<circle cx="402.6" cy="628.7" r="1.1"/>
<circle cx="408.4" cy="634.2" r="1.1"/>
<circle cx="425.4" cy="641.5" r="1.1"/>
<circle cx="416.8" cy="646.3" r="1.1"/>
<circle cx="398.1" cy="644.7" r="1.1"/>
<circle cx="408.2" cy="637.0" r="1.1"/>
<circle cx="410.1" cy="631.8" r="1.1"/>
<circle cx="398.5" cy="634.1" r="1.1"/>
<circle cx="441.7" cy="632.3" r="1.1"/>
<circle cx="411.7" cy="631.2" r="1.1"/>
<circle cx="422.5" cy="629.6" r="1.1"/>
<circle cx="411.9" cy="632.8" r="1.1"/>
<circle cx="431.1" cy="638.4" r="1.1"/>
<circle cx="396.5" cy="626.3" r="1.1"/>
<circle cx="412.3" cy="637.6" r="1.1"/>
<circle cx="426.2" cy="629.6" r="1.1"/>
<circle cx="432.6" cy="642.0" r="1.1"/>
<circle cx="435.4" cy="632.7" r="1.1"/>
<circle cx="420.5" cy="619.5" r="1.1"/>
<circle cx="385.9" cy="626.5" r="1.1"/>
<circle cx="422.6" cy="639.2" r="1.1"/>
<circle cx="410.5" cy="639.0" r="1.1"/>
<circle cx="420.5" cy="642.7" r="1.1"/>
<circle cx="388.6" cy="624.8" r="1.1"/>
<circle cx="397.9" cy="623.2" r="1.1"/>
<circle cx="436.2" cy="624.1" r="1.1"/>
<circle cx="399.8" cy="628.1" r="1.1"/>
<circle cx="425.0" cy="627.6" r="1.1"/>
<circle cx="422.8" cy="635.3" r="1.1"/>
<circle cx="402.6" cy="613.2" r="1.1"/>
<circle cx="398.5" cy="621.6" r="1.1"/>
</g>
<rect x="267.5" y="554.5" width="187.10" height="150.10" fill="none" stroke="#a8a8a8" stroke-width="1.15"/>
<line x1="267.5" y1="629.85" x2="454.6" y2="629.85" stroke="#a8a8a8" stroke-width="1.8" opacity="0.9"/>
<line x1="267.5" y1="631.17" x2="454.6" y2="631.17" stroke="#e8809c" stroke-width="1.0" opacity="0.9"/>
<line x1="267.5" y1="609.37" x2="454.6" y2="609.37" stroke="#6a6a6a" stroke-width="0.75" stroke-dasharray="2.2 0.8 1.2 0.8"/>
<line x1="267.5" y1="652.17" x2="454.6" y2="652.17" stroke="#6a6a6a" stroke-width="0.75" stroke-dasharray="2.2 0.8 1.2 0.8"/>
<text class="t" x="266.10" y="699.37" font-size="4.6" text-anchor="end" font-weight="bold" textLength="11.70" lengthAdjust="spacingAndGlyphs" fill="#111">-15.00</text>
<text class="t" x="266.10" y="676.76" font-size="4.6" text-anchor="end" font-weight="bold" textLength="11.70" lengthAdjust="spacingAndGlyphs" fill="#111">-10.00</text>
<text class="t" x="266.10" y="654.16" font-size="4.6" text-anchor="end" font-weight="bold" textLength="9.35" lengthAdjust="spacingAndGlyphs" fill="#111">-5.00</text>
<text class="t" x="266.10" y="631.55" font-size="4.6" text-anchor="end" font-weight="bold" textLength="5.70" lengthAdjust="spacingAndGlyphs" fill="#111">.00</text>
<text class="t" x="266.10" y="608.94" font-size="4.6" text-anchor="end" font-weight="bold" textLength="8.05" lengthAdjust="spacingAndGlyphs" fill="#111">5.00</text>
<text class="t" x="266.10" y="586.34" font-size="4.6" text-anchor="end" font-weight="bold" textLength="10.40" lengthAdjust="spacingAndGlyphs" fill="#111">10.00</text>
<text class="t" x="266.10" y="563.73" font-size="4.6" text-anchor="end" font-weight="bold" textLength="10.40" lengthAdjust="spacingAndGlyphs" fill="#111">15.00</text>
<text class="t" x="276.52" y="710.50" font-size="4.6" text-anchor="middle" font-weight="bold" textLength="5.70" lengthAdjust="spacingAndGlyphs" fill="#111">.00</text>
<text class="t" x="332.87" y="710.50" font-size="4.6" text-anchor="middle" font-weight="bold" textLength="10.40" lengthAdjust="spacingAndGlyphs" fill="#111">10.00</text>
<text class="t" x="389.23" y="710.50" font-size="4.6" text-anchor="middle" font-weight="bold" textLength="10.40" lengthAdjust="spacingAndGlyphs" fill="#111">20.00</text>
<text class="t" x="445.58" y="710.50" font-size="4.6" text-anchor="middle" font-weight="bold" textLength="10.40" lengthAdjust="spacingAndGlyphs" fill="#111">30.00</text>
<text class="h" x="270.50" y="567.00" font-size="8.0" text-anchor="start" font-weight="bold" textLength="131.40" lengthAdjust="spacingAndGlyphs">ICC=0.918 (0.905~0.930), slope= -0.05</text>
<text x="238.60" y="570.00" font-size="15.5" text-anchor="start" font-weight="bold">j</text>
<text x="248.60" y="629.55" font-size="6.0" text-anchor="middle" font-weight="bold" textLength="26.60" lengthAdjust="spacingAndGlyphs" transform="rotate(-90 248.60 629.55)">Difference</text>
<text class="r" x="449.40" y="606.12" font-size="7.1" text-anchor="end" font-weight="bold">+1.96 s.d.</text>
<text class="r" x="449.40" y="618.22" font-size="7.1" text-anchor="end" font-weight="bold">4.464</text>
<text class="r" x="449.40" y="627.72" font-size="7.1" text-anchor="end" font-weight="bold">Mean</text>
<text class="r" x="449.40" y="640.62" font-size="7.1" text-anchor="end" font-weight="bold">-0.269</text>
<text class="r" x="449.40" y="649.42" font-size="7.1" text-anchor="end" font-weight="bold">-1.96 s.d.</text>
<text class="r" x="449.40" y="661.62" font-size="7.1" text-anchor="end" font-weight="bold">-5.003</text>
</svg></body></html>
